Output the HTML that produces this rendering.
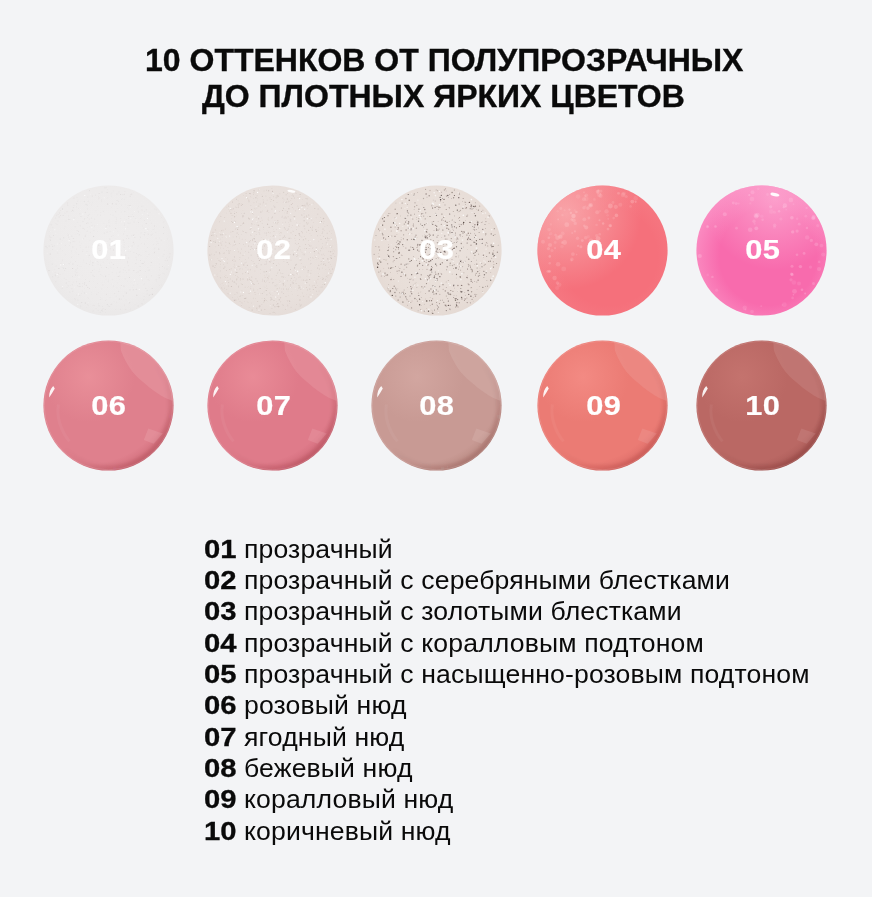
<!DOCTYPE html>
<html><head><meta charset="utf-8">
<style>
html,body{margin:0;padding:0;}
body{-webkit-font-smoothing:antialiased;width:872px;height:897px;background:#f3f4f6;position:relative;overflow:hidden;font-family:"Liberation Sans",sans-serif;color:#0a0a0a;}
.t{will-change:transform;position:absolute;white-space:nowrap;font-weight:700;-webkit-text-stroke:0.35px #0a0a0a;font-size:32px;line-height:32px;}
.c{position:absolute;width:131px;height:131px;}
.c svg{position:absolute;left:0;top:0;display:block;}
.n{position:absolute;width:131px;left:0;text-align:center;color:#fff;font-weight:700;-webkit-text-stroke:0.2px #fff;font-size:27.5px;line-height:26px;top:52.6px;letter-spacing:0.3px;text-indent:1px;}
.n span{display:inline-block;transform:scaleX(1.12);}
.l{will-change:transform;position:absolute;left:204.4px;white-space:nowrap;font-size:26.6px;line-height:26.6px;}
.txt{letter-spacing:0.14px;}
.num{display:inline-block;font-weight:700;-webkit-text-stroke:0.3px #0a0a0a;transform:scaleX(1.1);transform-origin:0 0;width:31px;margin-right:9px;}
</style></head><body>
<div class="t" style="left:145px;top:44px;">10 ОТТЕНКОВ ОТ ПОЛУПРОЗРАЧНЫХ</div>
<div class="t" style="left:202px;top:79.8px;">ДО ПЛОТНЫХ ЯРКИХ ЦВЕТОВ</div>
<div class="c" style="left:42.5px;top:184.5px;"><svg width="131" height="131" viewBox="-0.4 -0.4 131 131"><defs>
<radialGradient id="g1a" cx="50%" cy="45%" r="62%">
<stop offset="0" stop-color="#efeded"/><stop offset="0.7" stop-color="#edebeb"/><stop offset="1" stop-color="#e9e7e7"/></radialGradient>

</defs>
<circle cx="65.1" cy="65.1" r="65.1" fill="url(#g1a)"/>
<circle cx="103.7" cy="108.5" r="0.5" fill="#d2cccc" opacity="0.2"/><circle cx="68.1" cy="21.8" r="0.4" fill="#c8c2c2" opacity="0.2"/><circle cx="121.9" cy="75.3" r="0.4" fill="#c8c2c2" opacity="0.3"/><circle cx="59.3" cy="121.3" r="0.4" fill="#c8c2c2" opacity="0.4"/><circle cx="75.0" cy="67.0" r="0.4" fill="#d2cccc" opacity="0.3"/><circle cx="117.8" cy="54.7" r="0.4" fill="#d2cccc" opacity="0.4"/><circle cx="30.0" cy="53.0" r="0.5" fill="#d2cccc" opacity="0.4"/><circle cx="101.5" cy="47.0" r="0.5" fill="#bdb5b5" opacity="0.2"/><circle cx="28.2" cy="26.1" r="0.4" fill="#bdb5b5" opacity="0.2"/><circle cx="55.6" cy="12.7" r="0.5" fill="#d2cccc" opacity="0.3"/><circle cx="88.3" cy="50.4" r="0.4" fill="#d2cccc" opacity="0.4"/><circle cx="16.7" cy="63.5" r="0.3" fill="#c8c2c2" opacity="0.3"/><circle cx="22.7" cy="94.2" r="0.4" fill="#bdb5b5" opacity="0.3"/><circle cx="63.7" cy="46.6" r="0.5" fill="#c8c2c2" opacity="0.3"/><circle cx="25.9" cy="59.9" r="0.4" fill="#c8c2c2" opacity="0.3"/><circle cx="44.2" cy="119.3" r="0.4" fill="#bdb5b5" opacity="0.2"/><circle cx="86.6" cy="104.3" r="0.5" fill="#c8c2c2" opacity="0.3"/><circle cx="84.5" cy="41.7" r="0.4" fill="#bdb5b5" opacity="0.2"/><circle cx="108.3" cy="37.6" r="0.4" fill="#bdb5b5" opacity="0.2"/><circle cx="77.1" cy="9.2" r="0.5" fill="#bdb5b5" opacity="0.3"/><circle cx="103.4" cy="105.5" r="0.3" fill="#c8c2c2" opacity="0.3"/><circle cx="34.1" cy="100.4" r="0.5" fill="#d2cccc" opacity="0.3"/><circle cx="42.0" cy="94.2" r="0.4" fill="#bdb5b5" opacity="0.3"/><circle cx="41.3" cy="107.8" r="0.5" fill="#bdb5b5" opacity="0.2"/><circle cx="14.6" cy="35.5" r="0.5" fill="#d2cccc" opacity="0.2"/><circle cx="80.8" cy="59.3" r="0.5" fill="#d2cccc" opacity="0.2"/><circle cx="66.2" cy="33.6" r="0.3" fill="#bdb5b5" opacity="0.2"/><circle cx="58.6" cy="90.1" r="0.3" fill="#c8c2c2" opacity="0.3"/><circle cx="44.7" cy="37.6" r="0.5" fill="#d2cccc" opacity="0.3"/><circle cx="103.9" cy="70.9" r="0.4" fill="#c8c2c2" opacity="0.2"/><circle cx="63.9" cy="119.0" r="0.5" fill="#bdb5b5" opacity="0.3"/><circle cx="94.7" cy="60.5" r="0.4" fill="#c8c2c2" opacity="0.3"/><circle cx="93.4" cy="109.9" r="0.5" fill="#bdb5b5" opacity="0.4"/><circle cx="114.7" cy="57.9" r="0.5" fill="#d2cccc" opacity="0.2"/><circle cx="41.5" cy="33.2" r="0.4" fill="#d2cccc" opacity="0.3"/><circle cx="16.6" cy="89.3" r="0.3" fill="#c8c2c2" opacity="0.4"/><circle cx="44.8" cy="119.9" r="0.4" fill="#d2cccc" opacity="0.3"/><circle cx="37.7" cy="81.0" r="0.3" fill="#c8c2c2" opacity="0.3"/><circle cx="77.2" cy="123.8" r="0.4" fill="#bdb5b5" opacity="0.3"/><circle cx="92.6" cy="71.7" r="0.3" fill="#bdb5b5" opacity="0.3"/><circle cx="39.7" cy="76.5" r="0.3" fill="#bdb5b5" opacity="0.2"/><circle cx="56.8" cy="64.9" r="0.4" fill="#d2cccc" opacity="0.4"/><circle cx="93.2" cy="68.3" r="0.4" fill="#bdb5b5" opacity="0.3"/><circle cx="49.6" cy="89.8" r="0.5" fill="#d2cccc" opacity="0.4"/><circle cx="32.1" cy="114.4" r="0.5" fill="#d2cccc" opacity="0.3"/><circle cx="49.3" cy="61.8" r="0.3" fill="#c8c2c2" opacity="0.2"/><circle cx="89.8" cy="49.6" r="0.5" fill="#bdb5b5" opacity="0.3"/><circle cx="63.9" cy="101.8" r="0.3" fill="#c8c2c2" opacity="0.4"/><circle cx="16.2" cy="27.6" r="0.5" fill="#c8c2c2" opacity="0.3"/><circle cx="69.6" cy="29.7" r="0.4" fill="#d2cccc" opacity="0.4"/><circle cx="78.7" cy="9.3" r="0.4" fill="#bdb5b5" opacity="0.3"/><circle cx="80.7" cy="57.3" r="0.4" fill="#bdb5b5" opacity="0.2"/><circle cx="58.9" cy="124.3" r="0.4" fill="#c8c2c2" opacity="0.3"/><circle cx="55.6" cy="120.3" r="0.5" fill="#c8c2c2" opacity="0.3"/><circle cx="105.5" cy="68.8" r="0.5" fill="#c8c2c2" opacity="0.2"/><circle cx="75.8" cy="18.0" r="0.3" fill="#d2cccc" opacity="0.2"/><circle cx="68.0" cy="119.4" r="0.3" fill="#d2cccc" opacity="0.4"/><circle cx="10.1" cy="49.9" r="0.4" fill="#bdb5b5" opacity="0.3"/><circle cx="106.3" cy="95.1" r="0.3" fill="#c8c2c2" opacity="0.3"/><circle cx="113.1" cy="40.9" r="0.4" fill="#d2cccc" opacity="0.2"/><circle cx="120.7" cy="88.3" r="0.5" fill="#d2cccc" opacity="0.2"/><circle cx="75.9" cy="113.5" r="0.5" fill="#bdb5b5" opacity="0.4"/><circle cx="28.2" cy="72.4" r="0.3" fill="#c8c2c2" opacity="0.2"/><circle cx="65.5" cy="83.1" r="0.4" fill="#d2cccc" opacity="0.2"/><circle cx="32.3" cy="48.6" r="0.3" fill="#d2cccc" opacity="0.2"/><circle cx="86.8" cy="116.9" r="0.4" fill="#d2cccc" opacity="0.2"/><circle cx="104.8" cy="94.3" r="0.5" fill="#c8c2c2" opacity="0.2"/><circle cx="96.0" cy="69.1" r="0.3" fill="#bdb5b5" opacity="0.4"/><circle cx="63.9" cy="55.9" r="0.3" fill="#d2cccc" opacity="0.3"/><circle cx="81.2" cy="46.3" r="0.4" fill="#d2cccc" opacity="0.2"/><circle cx="90.0" cy="56.9" r="0.5" fill="#c8c2c2" opacity="0.4"/><circle cx="56.3" cy="83.8" r="0.4" fill="#bdb5b5" opacity="0.2"/><circle cx="83.8" cy="50.4" r="0.5" fill="#c8c2c2" opacity="0.3"/><circle cx="86.6" cy="20.2" r="0.5" fill="#bdb5b5" opacity="0.4"/><circle cx="63.8" cy="12.7" r="0.3" fill="#d2cccc" opacity="0.3"/><circle cx="121.0" cy="82.7" r="0.3" fill="#c8c2c2" opacity="0.3"/><circle cx="26.0" cy="78.7" r="0.3" fill="#d2cccc" opacity="0.4"/><circle cx="27.1" cy="76.6" r="0.4" fill="#d2cccc" opacity="0.3"/><circle cx="81.4" cy="6.4" r="0.5" fill="#c8c2c2" opacity="0.2"/><circle cx="50.7" cy="83.6" r="0.3" fill="#d2cccc" opacity="0.4"/><circle cx="57.1" cy="111.8" r="0.3" fill="#c8c2c2" opacity="0.2"/><circle cx="110.9" cy="67.3" r="0.4" fill="#bdb5b5" opacity="0.4"/><circle cx="110.8" cy="43.7" r="0.3" fill="#d2cccc" opacity="0.3"/><circle cx="35.4" cy="69.1" r="0.4" fill="#bdb5b5" opacity="0.3"/><circle cx="58.1" cy="14.6" r="0.5" fill="#c8c2c2" opacity="0.2"/><circle cx="105.8" cy="84.7" r="0.5" fill="#c8c2c2" opacity="0.3"/><circle cx="72.6" cy="37.6" r="0.4" fill="#d2cccc" opacity="0.4"/><circle cx="28.5" cy="103.3" r="0.5" fill="#bdb5b5" opacity="0.2"/><circle cx="100.2" cy="99.5" r="0.4" fill="#d2cccc" opacity="0.2"/><circle cx="65.0" cy="94.5" r="0.4" fill="#c8c2c2" opacity="0.3"/><circle cx="25.6" cy="96.3" r="0.4" fill="#c8c2c2" opacity="0.3"/><circle cx="110.8" cy="63.5" r="0.3" fill="#d2cccc" opacity="0.3"/><circle cx="58.5" cy="125.0" r="0.5" fill="#c8c2c2" opacity="0.4"/><circle cx="19.1" cy="23.5" r="0.5" fill="#c8c2c2" opacity="0.3"/><circle cx="120.4" cy="36.6" r="0.4" fill="#d2cccc" opacity="0.2"/><circle cx="100.4" cy="42.7" r="0.4" fill="#d2cccc" opacity="0.4"/><circle cx="100.9" cy="98.4" r="0.4" fill="#c8c2c2" opacity="0.3"/><circle cx="58.4" cy="103.4" r="0.4" fill="#c8c2c2" opacity="0.3"/><circle cx="55.4" cy="59.8" r="0.5" fill="#c8c2c2" opacity="0.4"/><circle cx="74.2" cy="97.5" r="0.4" fill="#d2cccc" opacity="0.2"/><circle cx="67.8" cy="7.6" r="0.4" fill="#c8c2c2" opacity="0.3"/><circle cx="6.8" cy="68.5" r="0.5" fill="#bdb5b5" opacity="0.4"/><circle cx="81.0" cy="119.6" r="0.5" fill="#c8c2c2" opacity="0.2"/><circle cx="64.3" cy="18.5" r="0.5" fill="#bdb5b5" opacity="0.4"/><circle cx="94.3" cy="98.9" r="0.4" fill="#d2cccc" opacity="0.3"/><circle cx="40.8" cy="15.8" r="0.4" fill="#c8c2c2" opacity="0.3"/><circle cx="32.0" cy="76.0" r="0.4" fill="#bdb5b5" opacity="0.3"/><circle cx="14.4" cy="67.6" r="0.4" fill="#c8c2c2" opacity="0.3"/><circle cx="115.4" cy="63.5" r="0.5" fill="#bdb5b5" opacity="0.4"/><circle cx="2.6" cy="60.8" r="0.4" fill="#bdb5b5" opacity="0.3"/><circle cx="63.0" cy="2.4" r="0.4" fill="#c8c2c2" opacity="0.3"/><circle cx="51.4" cy="40.6" r="0.4" fill="#bdb5b5" opacity="0.2"/><circle cx="29.2" cy="83.1" r="0.5" fill="#bdb5b5" opacity="0.4"/><circle cx="45.7" cy="6.1" r="0.3" fill="#bdb5b5" opacity="0.2"/><circle cx="98.4" cy="58.1" r="0.3" fill="#bdb5b5" opacity="0.3"/><circle cx="24.3" cy="19.6" r="0.5" fill="#c8c2c2" opacity="0.3"/><circle cx="84.7" cy="20.1" r="0.4" fill="#d2cccc" opacity="0.3"/><circle cx="20.8" cy="92.8" r="0.4" fill="#d2cccc" opacity="0.4"/><circle cx="22.2" cy="69.3" r="0.3" fill="#bdb5b5" opacity="0.2"/><circle cx="51.1" cy="56.1" r="0.3" fill="#d2cccc" opacity="0.2"/><circle cx="3.8" cy="62.3" r="0.5" fill="#d2cccc" opacity="0.3"/><circle cx="59.5" cy="99.5" r="0.4" fill="#c8c2c2" opacity="0.4"/><circle cx="63.0" cy="82.2" r="0.5" fill="#bdb5b5" opacity="0.3"/><circle cx="18.9" cy="74.5" r="0.3" fill="#d2cccc" opacity="0.3"/><circle cx="52.1" cy="9.6" r="0.4" fill="#bdb5b5" opacity="0.3"/><circle cx="34.0" cy="90.0" r="0.4" fill="#d2cccc" opacity="0.4"/><circle cx="50.8" cy="91.2" r="0.5" fill="#bdb5b5" opacity="0.2"/><circle cx="34.2" cy="15.8" r="0.5" fill="#d2cccc" opacity="0.2"/><circle cx="15.0" cy="88.0" r="0.5" fill="#c8c2c2" opacity="0.2"/><circle cx="58.6" cy="6.6" r="0.4" fill="#bdb5b5" opacity="0.4"/><circle cx="58.4" cy="16.4" r="0.4" fill="#bdb5b5" opacity="0.2"/><circle cx="75.7" cy="6.4" r="0.4" fill="#d2cccc" opacity="0.3"/><circle cx="68.3" cy="118.5" r="0.5" fill="#d2cccc" opacity="0.2"/><circle cx="70.1" cy="100.5" r="0.5" fill="#c8c2c2" opacity="0.2"/><circle cx="68.6" cy="56.1" r="0.5" fill="#bdb5b5" opacity="0.2"/><circle cx="48.8" cy="10.5" r="0.5" fill="#bdb5b5" opacity="0.3"/><circle cx="47.9" cy="36.9" r="0.4" fill="#c8c2c2" opacity="0.2"/><circle cx="29.2" cy="91.3" r="0.4" fill="#c8c2c2" opacity="0.4"/><circle cx="68.1" cy="98.6" r="0.4" fill="#d2cccc" opacity="0.2"/><circle cx="57.2" cy="29.7" r="0.4" fill="#c8c2c2" opacity="0.4"/><circle cx="119.1" cy="81.2" r="0.5" fill="#d2cccc" opacity="0.4"/><circle cx="84.6" cy="37.5" r="0.3" fill="#c8c2c2" opacity="0.4"/><circle cx="66.4" cy="40.5" r="0.5" fill="#c8c2c2" opacity="0.2"/><circle cx="98.2" cy="32.5" r="0.4" fill="#d2cccc" opacity="0.2"/><circle cx="8.8" cy="78.5" r="0.5" fill="#c8c2c2" opacity="0.3"/><circle cx="42.7" cy="61.6" r="0.5" fill="#c8c2c2" opacity="0.3"/><circle cx="81.5" cy="106.6" r="0.3" fill="#d2cccc" opacity="0.3"/><circle cx="94.1" cy="22.7" r="0.4" fill="#bdb5b5" opacity="0.2"/><circle cx="62.0" cy="115.3" r="0.3" fill="#bdb5b5" opacity="0.4"/><circle cx="33.7" cy="45.0" r="0.4" fill="#bdb5b5" opacity="0.3"/><circle cx="124.0" cy="53.5" r="0.4" fill="#bdb5b5" opacity="0.2"/><circle cx="95.1" cy="37.0" r="0.5" fill="#bdb5b5" opacity="0.2"/><circle cx="17.3" cy="25.2" r="0.3" fill="#c8c2c2" opacity="0.4"/><circle cx="100.3" cy="114.3" r="0.5" fill="#c8c2c2" opacity="0.2"/><circle cx="112.9" cy="96.0" r="0.4" fill="#d2cccc" opacity="0.2"/><circle cx="56.5" cy="85.8" r="0.3" fill="#bdb5b5" opacity="0.2"/><circle cx="23.1" cy="97.6" r="0.5" fill="#c8c2c2" opacity="0.3"/><circle cx="61.1" cy="96.4" r="0.4" fill="#d2cccc" opacity="0.2"/><circle cx="24.8" cy="101.0" r="0.4" fill="#c8c2c2" opacity="0.2"/><circle cx="49.3" cy="79.9" r="0.5" fill="#c8c2c2" opacity="0.3"/><circle cx="66.5" cy="112.2" r="0.4" fill="#d2cccc" opacity="0.3"/><circle cx="18.8" cy="102.8" r="0.4" fill="#c8c2c2" opacity="0.3"/><circle cx="5.6" cy="85.0" r="0.5" fill="#bdb5b5" opacity="0.3"/><circle cx="6.8" cy="51.8" r="0.5" fill="#d2cccc" opacity="0.3"/><circle cx="77.3" cy="102.5" r="0.4" fill="#d2cccc" opacity="0.2"/><circle cx="53.4" cy="59.1" r="0.5" fill="#bdb5b5" opacity="0.3"/><circle cx="34.1" cy="82.7" r="0.4" fill="#bdb5b5" opacity="0.3"/><circle cx="19.3" cy="64.8" r="0.3" fill="#bdb5b5" opacity="0.2"/><circle cx="57.3" cy="79.7" r="0.5" fill="#d2cccc" opacity="0.3"/><circle cx="29.4" cy="106.0" r="0.4" fill="#c8c2c2" opacity="0.4"/><circle cx="72.4" cy="43.1" r="0.4" fill="#bdb5b5" opacity="0.4"/><circle cx="64.7" cy="96.4" r="0.4" fill="#d2cccc" opacity="0.2"/><circle cx="112.4" cy="47.2" r="0.4" fill="#d2cccc" opacity="0.3"/><circle cx="40.9" cy="103.0" r="0.3" fill="#d2cccc" opacity="0.3"/><circle cx="9.6" cy="42.0" r="0.3" fill="#d2cccc" opacity="0.4"/><circle cx="23.6" cy="26.3" r="0.5" fill="#bdb5b5" opacity="0.2"/><circle cx="90.4" cy="85.2" r="0.5" fill="#bdb5b5" opacity="0.3"/><circle cx="99.6" cy="20.7" r="0.3" fill="#c8c2c2" opacity="0.3"/><circle cx="21.0" cy="85.2" r="0.5" fill="#d2cccc" opacity="0.3"/><circle cx="52.6" cy="123.3" r="0.4" fill="#c8c2c2" opacity="0.3"/><circle cx="44.1" cy="23.5" r="0.5" fill="#d2cccc" opacity="0.3"/><circle cx="89.8" cy="7.1" r="0.3" fill="#c8c2c2" opacity="0.2"/><circle cx="26.9" cy="57.3" r="0.5" fill="#c8c2c2" opacity="0.3"/><circle cx="106.8" cy="27.3" r="0.4" fill="#c8c2c2" opacity="0.2"/><circle cx="70.1" cy="64.7" r="0.5" fill="#bdb5b5" opacity="0.3"/><circle cx="86.9" cy="65.9" r="0.4" fill="#bdb5b5" opacity="0.2"/><circle cx="73.5" cy="15.1" r="0.5" fill="#d2cccc" opacity="0.3"/><circle cx="10.0" cy="50.2" r="0.5" fill="#d2cccc" opacity="0.3"/><circle cx="28.0" cy="44.4" r="0.3" fill="#d2cccc" opacity="0.3"/><circle cx="5.8" cy="45.8" r="0.3" fill="#bdb5b5" opacity="0.2"/><circle cx="19.5" cy="88.6" r="0.3" fill="#d2cccc" opacity="0.3"/><circle cx="120.1" cy="41.9" r="0.5" fill="#c8c2c2" opacity="0.4"/><circle cx="87.3" cy="33.0" r="0.4" fill="#d2cccc" opacity="0.3"/><circle cx="98.2" cy="20.8" r="0.4" fill="#c8c2c2" opacity="0.3"/><circle cx="80.0" cy="84.3" r="0.5" fill="#d2cccc" opacity="0.2"/><circle cx="104.1" cy="105.2" r="0.5" fill="#d2cccc" opacity="0.2"/><circle cx="11.0" cy="60.4" r="0.5" fill="#d2cccc" opacity="0.2"/><circle cx="90.2" cy="50.0" r="0.5" fill="#d2cccc" opacity="0.3"/><circle cx="84.2" cy="77.4" r="0.5" fill="#c8c2c2" opacity="0.3"/><circle cx="84.9" cy="80.1" r="0.5" fill="#c8c2c2" opacity="0.2"/><circle cx="55.5" cy="8.3" r="0.3" fill="#bdb5b5" opacity="0.4"/><circle cx="93.1" cy="74.4" r="0.4" fill="#c8c2c2" opacity="0.4"/><circle cx="85.0" cy="61.3" r="0.4" fill="#d2cccc" opacity="0.4"/><circle cx="61.6" cy="2.3" r="0.5" fill="#c8c2c2" opacity="0.3"/><circle cx="80.8" cy="8.8" r="0.5" fill="#bdb5b5" opacity="0.3"/><circle cx="79.9" cy="48.6" r="0.4" fill="#bdb5b5" opacity="0.3"/><circle cx="82.9" cy="53.0" r="0.5" fill="#c8c2c2" opacity="0.2"/><circle cx="25.1" cy="30.5" r="0.3" fill="#d2cccc" opacity="0.3"/><circle cx="113.0" cy="24.4" r="0.4" fill="#d2cccc" opacity="0.3"/><circle cx="87.4" cy="9.1" r="0.5" fill="#bdb5b5" opacity="0.2"/><circle cx="59.3" cy="65.6" r="0.5" fill="#bdb5b5" opacity="0.2"/><circle cx="105.0" cy="30.0" r="0.3" fill="#bdb5b5" opacity="0.3"/><circle cx="68.7" cy="7.3" r="0.3" fill="#d2cccc" opacity="0.2"/><circle cx="65.7" cy="89.4" r="0.3" fill="#d2cccc" opacity="0.3"/><circle cx="14.7" cy="29.2" r="0.4" fill="#bdb5b5" opacity="0.3"/><circle cx="96.0" cy="54.2" r="0.4" fill="#d2cccc" opacity="0.2"/><circle cx="73.6" cy="102.4" r="0.4" fill="#d2cccc" opacity="0.2"/><circle cx="68.1" cy="10.9" r="0.4" fill="#d2cccc" opacity="0.3"/><circle cx="98.7" cy="78.0" r="0.5" fill="#bdb5b5" opacity="0.3"/><circle cx="94.2" cy="63.1" r="0.4" fill="#d2cccc" opacity="0.2"/><circle cx="81.5" cy="82.1" r="0.3" fill="#c8c2c2" opacity="0.3"/><circle cx="71.8" cy="52.7" r="0.3" fill="#c8c2c2" opacity="0.2"/><circle cx="80.0" cy="110.3" r="0.5" fill="#d2cccc" opacity="0.2"/><circle cx="73.6" cy="8.5" r="0.5" fill="#c8c2c2" opacity="0.2"/><circle cx="73.4" cy="116.5" r="0.5" fill="#d2cccc" opacity="0.2"/><circle cx="57.5" cy="27.0" r="0.3" fill="#d2cccc" opacity="0.2"/><circle cx="64.8" cy="120.5" r="0.5" fill="#c8c2c2" opacity="0.2"/><circle cx="118.0" cy="99.5" r="0.4" fill="#c8c2c2" opacity="0.2"/><circle cx="75.7" cy="68.5" r="0.3" fill="#d2cccc" opacity="0.2"/><circle cx="55.3" cy="13.6" r="0.3" fill="#d2cccc" opacity="0.2"/><circle cx="29.5" cy="61.7" r="0.5" fill="#d2cccc" opacity="0.4"/><circle cx="78.8" cy="13.2" r="0.3" fill="#d2cccc" opacity="0.3"/><circle cx="43.7" cy="20.3" r="0.4" fill="#bdb5b5" opacity="0.3"/><circle cx="96.8" cy="51.1" r="0.3" fill="#d2cccc" opacity="0.3"/><circle cx="107.5" cy="80.1" r="0.3" fill="#c8c2c2" opacity="0.4"/><circle cx="63.7" cy="73.9" r="0.4" fill="#bdb5b5" opacity="0.2"/><circle cx="102.4" cy="102.9" r="0.5" fill="#c8c2c2" opacity="0.3"/><circle cx="20.3" cy="52.3" r="0.5" fill="#bdb5b5" opacity="0.3"/><circle cx="21.7" cy="41.0" r="0.4" fill="#c8c2c2" opacity="0.2"/><circle cx="85.4" cy="52.8" r="0.5" fill="#c8c2c2" opacity="0.3"/><circle cx="82.5" cy="12.6" r="0.4" fill="#d2cccc" opacity="0.2"/><circle cx="87.8" cy="33.4" r="0.4" fill="#c8c2c2" opacity="0.4"/><circle cx="86.1" cy="92.2" r="0.5" fill="#bdb5b5" opacity="0.3"/><circle cx="126.6" cy="68.3" r="0.5" fill="#bdb5b5" opacity="0.2"/><circle cx="63.9" cy="3.9" r="0.3" fill="#c8c2c2" opacity="0.3"/><circle cx="31.7" cy="41.3" r="0.5" fill="#d2cccc" opacity="0.3"/><circle cx="45.8" cy="69.8" r="0.5" fill="#bdb5b5" opacity="0.3"/><circle cx="78.0" cy="65.1" r="0.3" fill="#c8c2c2" opacity="0.3"/><circle cx="69.0" cy="18.4" r="0.5" fill="#bdb5b5" opacity="0.4"/><circle cx="33.3" cy="18.4" r="0.5" fill="#c8c2c2" opacity="0.4"/><circle cx="50.3" cy="50.9" r="0.5" fill="#c8c2c2" opacity="0.2"/><circle cx="116.3" cy="78.5" r="0.4" fill="#bdb5b5" opacity="0.2"/><circle cx="30.5" cy="12.5" r="0.5" fill="#c8c2c2" opacity="0.3"/><circle cx="32.6" cy="84.4" r="0.5" fill="#d2cccc" opacity="0.3"/><circle cx="49.3" cy="17.4" r="0.4" fill="#c8c2c2" opacity="0.2"/><circle cx="99.3" cy="94.7" r="0.4" fill="#bdb5b5" opacity="0.3"/><circle cx="36.3" cy="109.8" r="0.5" fill="#c8c2c2" opacity="0.3"/><circle cx="77.8" cy="113.6" r="0.5" fill="#d2cccc" opacity="0.3"/><circle cx="94.7" cy="86.5" r="0.5" fill="#bdb5b5" opacity="0.2"/><circle cx="41.0" cy="16.4" r="0.4" fill="#bdb5b5" opacity="0.3"/><circle cx="60.5" cy="37.7" r="0.4" fill="#bdb5b5" opacity="0.2"/><circle cx="32.6" cy="67.5" r="0.3" fill="#c8c2c2" opacity="0.2"/><circle cx="73.0" cy="71.6" r="0.3" fill="#c8c2c2" opacity="0.3"/><circle cx="33.1" cy="96.3" r="0.5" fill="#c8c2c2" opacity="0.2"/><circle cx="44.8" cy="61.9" r="0.3" fill="#d2cccc" opacity="0.2"/><circle cx="29.0" cy="24.8" r="0.5" fill="#bdb5b5" opacity="0.3"/><circle cx="111.6" cy="62.7" r="0.3" fill="#d2cccc" opacity="0.4"/><circle cx="45.8" cy="33.6" r="0.3" fill="#bdb5b5" opacity="0.4"/><circle cx="90.7" cy="58.6" r="0.4" fill="#bdb5b5" opacity="0.2"/><circle cx="66.2" cy="77.7" r="0.4" fill="#c8c2c2" opacity="0.3"/><circle cx="46.5" cy="17.6" r="0.4" fill="#c8c2c2" opacity="0.2"/><circle cx="18.7" cy="75.5" r="0.3" fill="#c8c2c2" opacity="0.3"/><circle cx="37.6" cy="31.2" r="0.5" fill="#c8c2c2" opacity="0.3"/><circle cx="123.1" cy="72.7" r="0.4" fill="#bdb5b5" opacity="0.3"/><circle cx="13.3" cy="29.9" r="0.5" fill="#d2cccc" opacity="0.3"/><circle cx="24.0" cy="17.6" r="0.5" fill="#bdb5b5" opacity="0.2"/><circle cx="33.9" cy="89.1" r="0.3" fill="#d2cccc" opacity="0.2"/><circle cx="92.7" cy="103.8" r="0.5" fill="#bdb5b5" opacity="0.3"/><circle cx="60.8" cy="28.8" r="0.3" fill="#d2cccc" opacity="0.2"/><circle cx="29.7" cy="96.6" r="0.3" fill="#c8c2c2" opacity="0.4"/><circle cx="67.6" cy="81.7" r="0.4" fill="#bdb5b5" opacity="0.2"/><circle cx="11.9" cy="90.4" r="0.4" fill="#bdb5b5" opacity="0.3"/><circle cx="60.8" cy="47.5" r="0.5" fill="#c8c2c2" opacity="0.3"/><circle cx="116.1" cy="84.4" r="0.4" fill="#bdb5b5" opacity="0.2"/><circle cx="22.6" cy="35.5" r="0.4" fill="#c8c2c2" opacity="0.4"/><circle cx="83.3" cy="86.9" r="0.5" fill="#d2cccc" opacity="0.2"/><circle cx="80.9" cy="39.7" r="0.5" fill="#d2cccc" opacity="0.3"/><circle cx="53.4" cy="108.8" r="0.4" fill="#bdb5b5" opacity="0.3"/><circle cx="50.9" cy="120.1" r="0.4" fill="#bdb5b5" opacity="0.2"/><circle cx="18.6" cy="82.3" r="0.3" fill="#d2cccc" opacity="0.2"/><circle cx="105.9" cy="109.9" r="0.5" fill="#c8c2c2" opacity="0.4"/><circle cx="44.2" cy="41.8" r="0.3" fill="#bdb5b5" opacity="0.2"/><circle cx="118.4" cy="32.2" r="0.3" fill="#d2cccc" opacity="0.3"/><circle cx="8.5" cy="58.9" r="0.4" fill="#bdb5b5" opacity="0.2"/><circle cx="85.6" cy="84.6" r="0.5" fill="#d2cccc" opacity="0.3"/><circle cx="36.0" cy="56.6" r="0.3" fill="#c8c2c2" opacity="0.3"/><circle cx="104.5" cy="43.9" r="0.5" fill="#d2cccc" opacity="0.3"/><circle cx="36.1" cy="80.7" r="0.3" fill="#c8c2c2" opacity="0.2"/><circle cx="119.6" cy="70.6" r="0.4" fill="#d2cccc" opacity="0.4"/><circle cx="6.2" cy="50.5" r="0.5" fill="#c8c2c2" opacity="0.2"/><circle cx="63.7" cy="7.1" r="0.5" fill="#c8c2c2" opacity="0.4"/><circle cx="42.4" cy="49.6" r="0.4" fill="#bdb5b5" opacity="0.2"/><circle cx="70.6" cy="116.0" r="0.4" fill="#c8c2c2" opacity="0.2"/><circle cx="77.7" cy="69.3" r="0.4" fill="#c8c2c2" opacity="0.4"/><circle cx="105.1" cy="48.8" r="0.4" fill="#c8c2c2" opacity="0.4"/><circle cx="85.4" cy="31.0" r="0.5" fill="#bdb5b5" opacity="0.4"/><circle cx="41.0" cy="33.6" r="0.5" fill="#d2cccc" opacity="0.4"/><circle cx="123.6" cy="83.7" r="0.5" fill="#c8c2c2" opacity="0.3"/><circle cx="34.9" cy="46.3" r="0.3" fill="#bdb5b5" opacity="0.3"/><circle cx="81.3" cy="64.8" r="0.4" fill="#d2cccc" opacity="0.3"/><circle cx="121.2" cy="64.7" r="0.4" fill="#c8c2c2" opacity="0.2"/><circle cx="45.4" cy="61.4" r="0.4" fill="#d2cccc" opacity="0.3"/><circle cx="102.6" cy="73.3" r="0.3" fill="#bdb5b5" opacity="0.2"/><circle cx="29.7" cy="56.1" r="0.5" fill="#bdb5b5" opacity="0.2"/><circle cx="84.2" cy="95.6" r="0.3" fill="#bdb5b5" opacity="0.2"/><circle cx="92.8" cy="87.4" r="0.4" fill="#d2cccc" opacity="0.4"/><circle cx="94.5" cy="25.6" r="0.3" fill="#c8c2c2" opacity="0.3"/><circle cx="66.3" cy="121.2" r="0.5" fill="#d2cccc" opacity="0.3"/><circle cx="20.7" cy="42.9" r="0.3" fill="#c8c2c2" opacity="0.4"/><circle cx="103.9" cy="53.1" r="0.3" fill="#bdb5b5" opacity="0.3"/><circle cx="62.8" cy="94.0" r="0.4" fill="#d2cccc" opacity="0.2"/><circle cx="9.3" cy="60.8" r="0.5" fill="#c8c2c2" opacity="0.4"/><circle cx="96.7" cy="81.2" r="0.5" fill="#bdb5b5" opacity="0.2"/><circle cx="29.5" cy="78.6" r="0.5" fill="#c8c2c2" opacity="0.4"/><circle cx="42.9" cy="77.8" r="0.4" fill="#bdb5b5" opacity="0.3"/><circle cx="34.6" cy="14.6" r="0.4" fill="#c8c2c2" opacity="0.2"/><circle cx="12.0" cy="32.6" r="0.4" fill="#bdb5b5" opacity="0.2"/><circle cx="70.0" cy="79.1" r="0.5" fill="#d2cccc" opacity="0.4"/><circle cx="36.8" cy="40.3" r="0.5" fill="#bdb5b5" opacity="0.2"/><circle cx="76.4" cy="63.8" r="0.3" fill="#bdb5b5" opacity="0.2"/><circle cx="72.5" cy="124.1" r="0.4" fill="#c8c2c2" opacity="0.2"/><circle cx="36.7" cy="60.0" r="0.4" fill="#d2cccc" opacity="0.3"/><circle cx="37.3" cy="119.8" r="0.3" fill="#bdb5b5" opacity="0.2"/><circle cx="51.3" cy="33.6" r="0.5" fill="#d2cccc" opacity="0.3"/><circle cx="36.3" cy="98.4" r="0.5" fill="#bdb5b5" opacity="0.3"/><circle cx="33.6" cy="12.2" r="0.4" fill="#bdb5b5" opacity="0.3"/><circle cx="38.2" cy="108.1" r="0.3" fill="#bdb5b5" opacity="0.4"/><circle cx="120.1" cy="48.0" r="0.4" fill="#bdb5b5" opacity="0.4"/><circle cx="95.1" cy="26.5" r="0.5" fill="#d2cccc" opacity="0.3"/><circle cx="81.7" cy="93.3" r="0.5" fill="#d2cccc" opacity="0.3"/><circle cx="82.0" cy="18.9" r="0.3" fill="#d2cccc" opacity="0.2"/><circle cx="67.7" cy="9.4" r="0.4" fill="#d2cccc" opacity="0.2"/><circle cx="15.5" cy="83.2" r="0.5" fill="#bdb5b5" opacity="0.4"/><circle cx="101.1" cy="111.4" r="0.3" fill="#c8c2c2" opacity="0.2"/><circle cx="66.3" cy="59.5" r="0.5" fill="#bdb5b5" opacity="0.2"/><circle cx="39.1" cy="89.9" r="0.4" fill="#c8c2c2" opacity="0.2"/><circle cx="84.1" cy="75.8" r="0.5" fill="#bdb5b5" opacity="0.2"/><circle cx="71.7" cy="31.5" r="0.4" fill="#d2cccc" opacity="0.2"/><circle cx="116.4" cy="52.7" r="0.3" fill="#bdb5b5" opacity="0.3"/><circle cx="43.1" cy="38.3" r="0.4" fill="#bdb5b5" opacity="0.4"/><circle cx="86.8" cy="10.9" r="0.5" fill="#d2cccc" opacity="0.4"/><circle cx="26.5" cy="34.0" r="0.5" fill="#c8c2c2" opacity="0.3"/><circle cx="29.0" cy="99.3" r="0.5" fill="#d2cccc" opacity="0.3"/><circle cx="66.9" cy="63.4" r="0.5" fill="#d2cccc" opacity="0.3"/><circle cx="76.6" cy="86.3" r="0.5" fill="#d2cccc" opacity="0.3"/><circle cx="96.9" cy="33.0" r="0.4" fill="#bdb5b5" opacity="0.2"/><circle cx="30.5" cy="20.0" r="0.5" fill="#d2cccc" opacity="0.2"/><circle cx="58.2" cy="82.3" r="0.4" fill="#bdb5b5" opacity="0.2"/><circle cx="25.2" cy="33.9" r="0.5" fill="#d2cccc" opacity="0.3"/><circle cx="68.3" cy="50.8" r="0.4" fill="#bdb5b5" opacity="0.3"/><circle cx="106.7" cy="109.2" r="0.5" fill="#c8c2c2" opacity="0.2"/><circle cx="45.9" cy="28.8" r="0.5" fill="#c8c2c2" opacity="0.2"/><circle cx="111.3" cy="67.7" r="0.4" fill="#c8c2c2" opacity="0.3"/><circle cx="24.8" cy="49.4" r="0.4" fill="#bdb5b5" opacity="0.3"/><circle cx="64.8" cy="95.6" r="0.3" fill="#c8c2c2" opacity="0.2"/><circle cx="25.2" cy="50.6" r="0.4" fill="#d2cccc" opacity="0.2"/><circle cx="23.7" cy="47.9" r="0.3" fill="#c8c2c2" opacity="0.2"/><circle cx="91.8" cy="118.9" r="0.3" fill="#d2cccc" opacity="0.4"/><circle cx="100.0" cy="110.9" r="0.3" fill="#c8c2c2" opacity="0.3"/><circle cx="79.9" cy="61.5" r="0.3" fill="#c8c2c2" opacity="0.3"/><circle cx="54.0" cy="46.4" r="0.3" fill="#bdb5b5" opacity="0.3"/><circle cx="112.8" cy="94.3" r="0.5" fill="#d2cccc" opacity="0.3"/><circle cx="7.1" cy="55.1" r="0.5" fill="#bdb5b5" opacity="0.2"/><circle cx="77.8" cy="100.2" r="0.4" fill="#bdb5b5" opacity="0.4"/><circle cx="26.7" cy="100.1" r="0.3" fill="#c8c2c2" opacity="0.4"/><circle cx="28.2" cy="67.6" r="0.3" fill="#bdb5b5" opacity="0.2"/><circle cx="115.7" cy="89.8" r="0.5" fill="#bdb5b5" opacity="0.2"/><circle cx="101.0" cy="58.6" r="0.5" fill="#d2cccc" opacity="0.3"/><circle cx="41.4" cy="96.9" r="0.4" fill="#c8c2c2" opacity="0.2"/><circle cx="53.9" cy="97.9" r="0.3" fill="#bdb5b5" opacity="0.3"/><circle cx="90.3" cy="99.6" r="0.4" fill="#c8c2c2" opacity="0.2"/><circle cx="77.3" cy="35.7" r="0.4" fill="#d2cccc" opacity="0.2"/><circle cx="86.8" cy="37.5" r="0.4" fill="#bdb5b5" opacity="0.2"/><circle cx="45.4" cy="71.5" r="0.3" fill="#d2cccc" opacity="0.2"/><circle cx="82.9" cy="107.6" r="0.5" fill="#bdb5b5" opacity="0.4"/><circle cx="33.1" cy="21.4" r="0.4" fill="#d2cccc" opacity="0.4"/><circle cx="75.0" cy="16.1" r="0.5" fill="#d2cccc" opacity="0.3"/><circle cx="80.5" cy="100.5" r="0.5" fill="#bdb5b5" opacity="0.3"/><circle cx="69.8" cy="50.1" r="0.5" fill="#d2cccc" opacity="0.2"/><circle cx="34.1" cy="86.8" r="0.3" fill="#d2cccc" opacity="0.3"/><circle cx="84.7" cy="65.9" r="0.3" fill="#d2cccc" opacity="0.3"/><circle cx="62.5" cy="90.4" r="0.3" fill="#bdb5b5" opacity="0.3"/><circle cx="102.8" cy="38.1" r="0.5" fill="#bdb5b5" opacity="0.3"/><circle cx="92.3" cy="33.3" r="0.4" fill="#c8c2c2" opacity="0.3"/><circle cx="39.5" cy="97.8" r="0.3" fill="#c8c2c2" opacity="0.2"/><circle cx="99.8" cy="108.3" r="0.3" fill="#d2cccc" opacity="0.2"/><circle cx="101.2" cy="76.6" r="0.4" fill="#bdb5b5" opacity="0.3"/><circle cx="75.2" cy="105.8" r="0.5" fill="#bdb5b5" opacity="0.2"/><circle cx="13.7" cy="38.8" r="0.5" fill="#c8c2c2" opacity="0.2"/><circle cx="101.2" cy="35.1" r="0.5" fill="#d2cccc" opacity="0.3"/><circle cx="39.3" cy="100.8" r="0.4" fill="#bdb5b5" opacity="0.3"/><circle cx="7.6" cy="39.3" r="0.4" fill="#bdb5b5" opacity="0.2"/><circle cx="34.5" cy="114.6" r="0.4" fill="#bdb5b5" opacity="0.3"/><circle cx="37.3" cy="121.4" r="0.5" fill="#c8c2c2" opacity="0.2"/><circle cx="81.1" cy="37.7" r="0.4" fill="#d2cccc" opacity="0.3"/><circle cx="90.5" cy="67.0" r="0.4" fill="#c8c2c2" opacity="0.3"/><circle cx="91.5" cy="52.1" r="0.4" fill="#bdb5b5" opacity="0.3"/><circle cx="31.7" cy="66.3" r="0.3" fill="#c8c2c2" opacity="0.2"/><circle cx="41.4" cy="97.0" r="0.4" fill="#bdb5b5" opacity="0.3"/><circle cx="87.3" cy="123.6" r="0.3" fill="#d2cccc" opacity="0.4"/><circle cx="67.5" cy="119.0" r="0.3" fill="#bdb5b5" opacity="0.2"/><circle cx="22.1" cy="59.8" r="0.4" fill="#d2cccc" opacity="0.4"/><circle cx="78.3" cy="19.6" r="0.4" fill="#c8c2c2" opacity="0.2"/><circle cx="55.9" cy="8.3" r="0.4" fill="#bdb5b5" opacity="0.3"/><circle cx="116.1" cy="82.2" r="0.5" fill="#d2cccc" opacity="0.2"/><circle cx="36.5" cy="28.3" r="0.5" fill="#d2cccc" opacity="0.3"/><circle cx="49.3" cy="84.9" r="0.4" fill="#c8c2c2" opacity="0.4"/><circle cx="8.4" cy="39.6" r="0.3" fill="#d2cccc" opacity="0.3"/><circle cx="12.4" cy="37.8" r="0.4" fill="#d2cccc" opacity="0.3"/><circle cx="2.5" cy="61.3" r="0.5" fill="#c8c2c2" opacity="0.2"/><circle cx="81.9" cy="84.9" r="0.3" fill="#bdb5b5" opacity="0.3"/><circle cx="48.3" cy="109.0" r="0.4" fill="#d2cccc" opacity="0.3"/><circle cx="48.1" cy="107.3" r="0.4" fill="#d2cccc" opacity="0.3"/><circle cx="72.9" cy="32.5" r="0.3" fill="#c8c2c2" opacity="0.4"/><circle cx="42.9" cy="99.8" r="0.5" fill="#bdb5b5" opacity="0.3"/><circle cx="34.3" cy="36.8" r="0.5" fill="#d2cccc" opacity="0.2"/><circle cx="70.1" cy="82.8" r="0.3" fill="#bdb5b5" opacity="0.2"/><circle cx="39.9" cy="74.5" r="0.4" fill="#bdb5b5" opacity="0.2"/><circle cx="86.6" cy="123.6" r="0.4" fill="#d2cccc" opacity="0.2"/><circle cx="33.2" cy="109.7" r="0.5" fill="#d2cccc" opacity="0.2"/><circle cx="72.7" cy="18.6" r="0.5" fill="#c8c2c2" opacity="0.4"/><circle cx="25.0" cy="52.1" r="0.4" fill="#d2cccc" opacity="0.4"/><circle cx="76.9" cy="73.8" r="0.4" fill="#d2cccc" opacity="0.3"/><circle cx="39.6" cy="63.9" r="0.4" fill="#d2cccc" opacity="0.4"/><circle cx="21.0" cy="26.9" r="0.4" fill="#d2cccc" opacity="0.2"/><circle cx="113.6" cy="56.2" r="0.3" fill="#c8c2c2" opacity="0.4"/><circle cx="50.4" cy="45.0" r="0.5" fill="#d2cccc" opacity="0.2"/><circle cx="87.5" cy="96.6" r="0.4" fill="#d2cccc" opacity="0.2"/><circle cx="24.5" cy="99.8" r="0.4" fill="#bdb5b5" opacity="0.2"/><circle cx="34.3" cy="47.9" r="0.5" fill="#c8c2c2" opacity="0.2"/><circle cx="75.7" cy="87.4" r="0.3" fill="#c8c2c2" opacity="0.3"/><circle cx="41.9" cy="117.5" r="0.5" fill="#bdb5b5" opacity="0.4"/><circle cx="39.1" cy="105.6" r="0.4" fill="#d2cccc" opacity="0.2"/><circle cx="44.4" cy="11.7" r="0.5" fill="#c8c2c2" opacity="0.2"/><circle cx="80.1" cy="111.4" r="0.3" fill="#d2cccc" opacity="0.4"/><circle cx="67.3" cy="29.0" r="0.5" fill="#d2cccc" opacity="0.2"/><circle cx="17.2" cy="30.2" r="0.5" fill="#c8c2c2" opacity="0.3"/><circle cx="85.6" cy="38.1" r="0.3" fill="#d2cccc" opacity="0.4"/><circle cx="23.6" cy="101.9" r="0.3" fill="#bdb5b5" opacity="0.4"/><circle cx="112.6" cy="52.9" r="0.5" fill="#c8c2c2" opacity="0.2"/><circle cx="80.9" cy="33.1" r="0.3" fill="#d2cccc" opacity="0.2"/><circle cx="102.5" cy="66.0" r="0.5" fill="#c8c2c2" opacity="0.2"/><circle cx="79.6" cy="9.9" r="0.3" fill="#d2cccc" opacity="0.2"/><circle cx="22.2" cy="83.0" r="0.5" fill="#bdb5b5" opacity="0.3"/><circle cx="54.7" cy="125.3" r="0.3" fill="#c8c2c2" opacity="0.4"/><circle cx="98.2" cy="117.6" r="0.3" fill="#bdb5b5" opacity="0.3"/><circle cx="12.3" cy="89.4" r="0.4" fill="#bdb5b5" opacity="0.3"/><circle cx="55.5" cy="86.4" r="0.4" fill="#c8c2c2" opacity="0.2"/><circle cx="48.1" cy="19.6" r="0.3" fill="#bdb5b5" opacity="0.2"/><circle cx="18.7" cy="55.4" r="0.3" fill="#d2cccc" opacity="0.3"/><circle cx="54.9" cy="118.4" r="0.5" fill="#d2cccc" opacity="0.3"/><circle cx="6.7" cy="54.3" r="0.5" fill="#c8c2c2" opacity="0.3"/><circle cx="80.8" cy="13.8" r="0.4" fill="#d2cccc" opacity="0.4"/><circle cx="86.0" cy="117.4" r="0.5" fill="#c8c2c2" opacity="0.4"/><circle cx="44.4" cy="101.8" r="0.5" fill="#bdb5b5" opacity="0.3"/><circle cx="35.3" cy="23.0" r="0.3" fill="#d2cccc" opacity="0.3"/><circle cx="100.7" cy="49.0" r="0.4" fill="#bdb5b5" opacity="0.4"/><circle cx="73.1" cy="87.7" r="0.3" fill="#c8c2c2" opacity="0.3"/><circle cx="17.4" cy="78.4" r="0.4" fill="#c8c2c2" opacity="0.2"/><circle cx="84.7" cy="23.7" r="0.3" fill="#d2cccc" opacity="0.3"/><circle cx="98.6" cy="24.5" r="0.5" fill="#d2cccc" opacity="0.3"/><circle cx="53.3" cy="58.1" r="0.4" fill="#bdb5b5" opacity="0.4"/><circle cx="54.9" cy="76.8" r="0.3" fill="#c8c2c2" opacity="0.3"/><circle cx="108.7" cy="108.5" r="0.5" fill="#d2cccc" opacity="0.2"/><circle cx="54.8" cy="107.2" r="0.3" fill="#c8c2c2" opacity="0.3"/><circle cx="113.2" cy="58.9" r="0.3" fill="#bdb5b5" opacity="0.3"/><circle cx="103.1" cy="91.6" r="0.5" fill="#d2cccc" opacity="0.3"/><circle cx="26.3" cy="53.9" r="0.5" fill="#bdb5b5" opacity="0.2"/><circle cx="82.7" cy="34.2" r="0.3" fill="#c8c2c2" opacity="0.3"/><circle cx="90.6" cy="36.5" r="0.3" fill="#c8c2c2" opacity="0.4"/><circle cx="82.6" cy="114.5" r="0.4" fill="#c8c2c2" opacity="0.3"/><circle cx="91.0" cy="48.9" r="0.4" fill="#bdb5b5" opacity="0.2"/><circle cx="34.0" cy="80.0" r="0.4" fill="#bdb5b5" opacity="0.3"/><circle cx="56.8" cy="114.1" r="0.4" fill="#d2cccc" opacity="0.4"/><circle cx="102.9" cy="24.4" r="0.5" fill="#d2cccc" opacity="0.3"/><circle cx="62.0" cy="91.2" r="0.5" fill="#d2cccc" opacity="0.2"/><circle cx="34.9" cy="46.0" r="0.5" fill="#d2cccc" opacity="0.3"/><circle cx="44.8" cy="30.0" r="0.5" fill="#bdb5b5" opacity="0.2"/><circle cx="65.5" cy="35.5" r="0.3" fill="#c8c2c2" opacity="0.3"/><circle cx="74.4" cy="45.7" r="0.4" fill="#d2cccc" opacity="0.3"/><circle cx="31.5" cy="56.2" r="0.3" fill="#c8c2c2" opacity="0.4"/><circle cx="90.1" cy="31.2" r="0.5" fill="#d2cccc" opacity="0.3"/><circle cx="109.2" cy="109.2" r="0.4" fill="#d2cccc" opacity="0.3"/><circle cx="104.5" cy="82.1" r="0.3" fill="#d2cccc" opacity="0.3"/><circle cx="55.8" cy="65.0" r="0.4" fill="#c8c2c2" opacity="0.3"/><circle cx="25.4" cy="34.1" r="0.5" fill="#d2cccc" opacity="0.2"/><circle cx="28.1" cy="65.5" r="0.5" fill="#c8c2c2" opacity="0.2"/><circle cx="85.3" cy="72.5" r="0.3" fill="#bdb5b5" opacity="0.3"/><circle cx="65.6" cy="36.8" r="0.4" fill="#c8c2c2" opacity="0.4"/><circle cx="96.8" cy="85.1" r="0.5" fill="#bdb5b5" opacity="0.3"/><circle cx="39.7" cy="42.9" r="0.5" fill="#c8c2c2" opacity="0.4"/><circle cx="59.4" cy="125.8" r="0.3" fill="#bdb5b5" opacity="0.4"/><circle cx="87.8" cy="31.0" r="0.5" fill="#c8c2c2" opacity="0.2"/><circle cx="66.4" cy="53.5" r="0.5" fill="#d2cccc" opacity="0.4"/><circle cx="12.5" cy="96.4" r="0.4" fill="#c8c2c2" opacity="0.4"/><circle cx="72.5" cy="35.8" r="0.5" fill="#d2cccc" opacity="0.2"/><circle cx="11.4" cy="83.9" r="0.3" fill="#c8c2c2" opacity="0.3"/><circle cx="110.3" cy="59.3" r="0.3" fill="#bdb5b5" opacity="0.3"/><circle cx="109.7" cy="44.0" r="0.4" fill="#d2cccc" opacity="0.3"/><circle cx="46.1" cy="5.0" r="0.5" fill="#c8c2c2" opacity="0.3"/><circle cx="56.5" cy="73.2" r="0.5" fill="#d2cccc" opacity="0.3"/><circle cx="95.1" cy="69.7" r="0.4" fill="#c8c2c2" opacity="0.4"/><circle cx="52.5" cy="25.4" r="0.4" fill="#c8c2c2" opacity="0.2"/><circle cx="43.6" cy="66.2" r="0.4" fill="#bdb5b5" opacity="0.3"/><circle cx="15.7" cy="31.6" r="0.4" fill="#bdb5b5" opacity="0.4"/><circle cx="70.2" cy="56.8" r="0.4" fill="#c8c2c2" opacity="0.3"/><circle cx="101.6" cy="79.7" r="0.4" fill="#c8c2c2" opacity="0.2"/><circle cx="58.6" cy="113.4" r="0.4" fill="#c8c2c2" opacity="0.2"/><circle cx="109.4" cy="48.7" r="0.4" fill="#d2cccc" opacity="0.4"/><circle cx="73.2" cy="59.4" r="0.5" fill="#c8c2c2" opacity="0.3"/><circle cx="12.7" cy="80.6" r="0.4" fill="#c8c2c2" opacity="0.3"/><circle cx="75.5" cy="63.2" r="0.4" fill="#c8c2c2" opacity="0.3"/><circle cx="28.4" cy="50.5" r="0.5" fill="#c8c2c2" opacity="0.3"/><circle cx="53.9" cy="76.1" r="0.4" fill="#c8c2c2" opacity="0.3"/><circle cx="80.0" cy="54.5" r="0.4" fill="#d2cccc" opacity="0.3"/><circle cx="117.3" cy="89.0" r="0.4" fill="#d2cccc" opacity="0.2"/><circle cx="16.8" cy="53.5" r="0.5" fill="#c8c2c2" opacity="0.4"/><circle cx="37.0" cy="101.2" r="0.4" fill="#c8c2c2" opacity="0.4"/><circle cx="30.0" cy="25.6" r="0.4" fill="#d2cccc" opacity="0.4"/><circle cx="49.8" cy="96.2" r="0.3" fill="#d2cccc" opacity="0.2"/><circle cx="48.5" cy="39.8" r="0.5" fill="#c8c2c2" opacity="0.2"/><circle cx="46.3" cy="79.0" r="0.5" fill="#bdb5b5" opacity="0.2"/><circle cx="25.1" cy="99.9" r="0.3" fill="#d2cccc" opacity="0.2"/><circle cx="78.3" cy="13.9" r="0.4" fill="#c8c2c2" opacity="0.3"/><circle cx="49.7" cy="125.7" r="0.5" fill="#d2cccc" opacity="0.2"/><circle cx="92.5" cy="78.1" r="0.4" fill="#bdb5b5" opacity="0.4"/><circle cx="17.8" cy="77.7" r="0.3" fill="#d2cccc" opacity="0.3"/><circle cx="76.2" cy="94.2" r="0.3" fill="#bdb5b5" opacity="0.2"/><circle cx="43.5" cy="121.7" r="0.4" fill="#c8c2c2" opacity="0.2"/><circle cx="120.7" cy="68.8" r="0.5" fill="#c8c2c2" opacity="0.2"/><circle cx="44.5" cy="112.1" r="0.3" fill="#bdb5b5" opacity="0.4"/><circle cx="74.8" cy="91.2" r="0.5" fill="#bdb5b5" opacity="0.3"/><circle cx="111.6" cy="23.7" r="0.4" fill="#bdb5b5" opacity="0.2"/><circle cx="71.3" cy="108.2" r="0.5" fill="#c8c2c2" opacity="0.2"/><circle cx="119.5" cy="87.7" r="0.4" fill="#bdb5b5" opacity="0.2"/><circle cx="38.1" cy="58.3" r="0.3" fill="#d2cccc" opacity="0.2"/><circle cx="104.1" cy="61.9" r="0.4" fill="#bdb5b5" opacity="0.3"/><circle cx="60.3" cy="91.4" r="0.4" fill="#d2cccc" opacity="0.2"/><circle cx="31.3" cy="34.2" r="0.4" fill="#d2cccc" opacity="0.2"/><circle cx="59.8" cy="76.7" r="0.4" fill="#bdb5b5" opacity="0.3"/><circle cx="9.2" cy="64.2" r="0.5" fill="#c8c2c2" opacity="0.2"/><circle cx="31.7" cy="86.0" r="0.4" fill="#c8c2c2" opacity="0.2"/><circle cx="52.1" cy="101.8" r="0.4" fill="#bdb5b5" opacity="0.2"/><circle cx="40.1" cy="53.4" r="0.4" fill="#bdb5b5" opacity="0.4"/><circle cx="68.8" cy="93.8" r="0.3" fill="#bdb5b5" opacity="0.4"/><circle cx="71.0" cy="60.1" r="0.5" fill="#c8c2c2" opacity="0.3"/><circle cx="9.3" cy="91.3" r="0.5" fill="#c8c2c2" opacity="0.3"/><circle cx="88.4" cy="8.7" r="0.5" fill="#bdb5b5" opacity="0.3"/><circle cx="68.8" cy="87.3" r="0.4" fill="#d2cccc" opacity="0.3"/><circle cx="26.7" cy="107.3" r="0.4" fill="#d2cccc" opacity="0.2"/><circle cx="32.8" cy="87.3" r="0.5" fill="#c8c2c2" opacity="0.2"/><circle cx="50.2" cy="51.0" r="0.5" fill="#bdb5b5" opacity="0.3"/><circle cx="59.4" cy="73.5" r="0.5" fill="#d2cccc" opacity="0.2"/><circle cx="69.8" cy="5.4" r="0.4" fill="#c8c2c2" opacity="0.3"/><circle cx="5.8" cy="60.7" r="0.5" fill="#d2cccc" opacity="0.4"/><circle cx="16.2" cy="57.7" r="0.4" fill="#bdb5b5" opacity="0.2"/><circle cx="44.7" cy="15.8" r="0.5" fill="#d2cccc" opacity="0.3"/><circle cx="109.1" cy="72.8" r="0.3" fill="#d2cccc" opacity="0.2"/><circle cx="108.1" cy="90.4" r="0.5" fill="#c8c2c2" opacity="0.2"/><circle cx="102.3" cy="85.9" r="0.4" fill="#d2cccc" opacity="0.4"/><circle cx="42.6" cy="18.8" r="0.5" fill="#c8c2c2" opacity="0.3"/><circle cx="8.8" cy="41.8" r="0.3" fill="#c8c2c2" opacity="0.2"/><circle cx="62.0" cy="91.4" r="0.4" fill="#bdb5b5" opacity="0.3"/><circle cx="123.7" cy="71.4" r="0.3" fill="#c8c2c2" opacity="0.2"/><circle cx="95.0" cy="21.0" r="0.3" fill="#bdb5b5" opacity="0.2"/><circle cx="80.4" cy="87.0" r="0.3" fill="#c8c2c2" opacity="0.2"/><circle cx="111.4" cy="66.5" r="0.4" fill="#c8c2c2" opacity="0.2"/><circle cx="14.7" cy="91.7" r="0.3" fill="#bdb5b5" opacity="0.4"/><circle cx="11.7" cy="87.1" r="0.4" fill="#bdb5b5" opacity="0.2"/><circle cx="32.0" cy="89.6" r="0.4" fill="#bdb5b5" opacity="0.4"/><circle cx="115.8" cy="92.3" r="0.5" fill="#c8c2c2" opacity="0.4"/><circle cx="89.9" cy="104.4" r="0.5" fill="#bdb5b5" opacity="0.3"/><circle cx="94.7" cy="120.5" r="0.5" fill="#d2cccc" opacity="0.4"/><circle cx="104.4" cy="48.5" r="0.4" fill="#d2cccc" opacity="0.2"/><circle cx="35.7" cy="101.2" r="0.5" fill="#bdb5b5" opacity="0.3"/><circle cx="59.7" cy="123.1" r="0.3" fill="#bdb5b5" opacity="0.4"/><circle cx="98.7" cy="118.4" r="0.5" fill="#d2cccc" opacity="0.3"/><circle cx="88.8" cy="102.1" r="0.3" fill="#c8c2c2" opacity="0.2"/><circle cx="74.2" cy="82.3" r="0.4" fill="#bdb5b5" opacity="0.3"/><circle cx="97.6" cy="70.2" r="0.4" fill="#bdb5b5" opacity="0.3"/><circle cx="39.4" cy="98.0" r="0.4" fill="#d2cccc" opacity="0.4"/><circle cx="101.4" cy="49.8" r="0.3" fill="#bdb5b5" opacity="0.3"/><circle cx="41.0" cy="98.6" r="0.5" fill="#bdb5b5" opacity="0.3"/><circle cx="41.8" cy="50.9" r="0.5" fill="#d2cccc" opacity="0.4"/><circle cx="81.1" cy="61.8" r="0.4" fill="#d2cccc" opacity="0.3"/><circle cx="88.7" cy="60.7" r="0.5" fill="#bdb5b5" opacity="0.2"/><circle cx="82.5" cy="124.0" r="0.3" fill="#bdb5b5" opacity="0.3"/><circle cx="47.3" cy="47.0" r="0.3" fill="#c8c2c2" opacity="0.4"/><circle cx="90.9" cy="95.6" r="0.4" fill="#bdb5b5" opacity="0.3"/><circle cx="55.5" cy="63.1" r="0.3" fill="#c8c2c2" opacity="0.4"/><circle cx="19.7" cy="81.9" r="0.4" fill="#d2cccc" opacity="0.4"/><circle cx="79.7" cy="54.6" r="0.4" fill="#c8c2c2" opacity="0.4"/><circle cx="24.5" cy="50.2" r="0.3" fill="#c8c2c2" opacity="0.2"/><circle cx="76.4" cy="90.5" r="0.4" fill="#bdb5b5" opacity="0.3"/><circle cx="56.8" cy="126.8" r="0.5" fill="#d2cccc" opacity="0.3"/><circle cx="101.2" cy="26.2" r="0.4" fill="#c8c2c2" opacity="0.3"/><circle cx="45.0" cy="113.4" r="0.3" fill="#bdb5b5" opacity="0.2"/><circle cx="99.9" cy="78.0" r="0.5" fill="#c8c2c2" opacity="0.3"/><circle cx="20.3" cy="83.1" r="0.5" fill="#d2cccc" opacity="0.4"/><circle cx="59.9" cy="25.9" r="0.5" fill="#bdb5b5" opacity="0.2"/><circle cx="81.4" cy="26.2" r="0.5" fill="#bdb5b5" opacity="0.2"/><circle cx="46.7" cy="77.4" r="0.4" fill="#c8c2c2" opacity="0.2"/><circle cx="108.2" cy="46.2" r="0.4" fill="#d2cccc" opacity="0.2"/><circle cx="62.8" cy="41.3" r="0.5" fill="#d2cccc" opacity="0.3"/><circle cx="21.6" cy="27.9" r="0.3" fill="#bdb5b5" opacity="0.3"/><circle cx="49.7" cy="119.8" r="0.4" fill="#bdb5b5" opacity="0.3"/><circle cx="72.3" cy="26.3" r="0.5" fill="#d2cccc" opacity="0.4"/><circle cx="46.1" cy="103.1" r="0.4" fill="#bdb5b5" opacity="0.4"/><circle cx="41.9" cy="26.8" r="0.5" fill="#bdb5b5" opacity="0.3"/><circle cx="41.1" cy="43.7" r="0.4" fill="#c8c2c2" opacity="0.4"/><circle cx="63.4" cy="39.9" r="0.5" fill="#d2cccc" opacity="0.2"/><circle cx="109.0" cy="108.9" r="0.5" fill="#bdb5b5" opacity="0.4"/><circle cx="88.7" cy="28.9" r="0.3" fill="#c8c2c2" opacity="0.3"/><circle cx="82.3" cy="69.7" r="0.5" fill="#c8c2c2" opacity="0.3"/><circle cx="46.4" cy="54.9" r="0.3" fill="#c8c2c2" opacity="0.4"/><circle cx="108.8" cy="103.1" r="0.5" fill="#bdb5b5" opacity="0.3"/><circle cx="72.8" cy="110.7" r="0.4" fill="#c8c2c2" opacity="0.2"/><circle cx="19.7" cy="30.0" r="0.5" fill="#bdb5b5" opacity="0.3"/><circle cx="38.3" cy="117.0" r="0.5" fill="#c8c2c2" opacity="0.4"/><circle cx="77.4" cy="32.9" r="0.4" fill="#c8c2c2" opacity="0.4"/><circle cx="97.1" cy="75.0" r="0.4" fill="#bdb5b5" opacity="0.4"/><circle cx="74.3" cy="23.4" r="0.3" fill="#bdb5b5" opacity="0.2"/><circle cx="29.9" cy="21.9" r="0.4" fill="#bdb5b5" opacity="0.4"/><circle cx="29.7" cy="104.7" r="0.3" fill="#d2cccc" opacity="0.4"/><circle cx="77.0" cy="82.7" r="0.3" fill="#c8c2c2" opacity="0.2"/><circle cx="30.8" cy="32.7" r="0.5" fill="#c8c2c2" opacity="0.2"/><circle cx="85.3" cy="33.2" r="0.3" fill="#bdb5b5" opacity="0.2"/><circle cx="99.0" cy="40.5" r="0.3" fill="#bdb5b5" opacity="0.2"/><circle cx="37.1" cy="62.4" r="0.3" fill="#bdb5b5" opacity="0.2"/><circle cx="31.4" cy="113.4" r="0.5" fill="#bdb5b5" opacity="0.2"/><circle cx="66.8" cy="46.2" r="0.5" fill="#d2cccc" opacity="0.2"/><circle cx="96.3" cy="90.4" r="0.3" fill="#d2cccc" opacity="0.4"/><circle cx="36.8" cy="16.4" r="0.3" fill="#d2cccc" opacity="0.2"/><circle cx="54.3" cy="29.5" r="0.3" fill="#c8c2c2" opacity="0.2"/><circle cx="63.1" cy="108.9" r="0.5" fill="#bdb5b5" opacity="0.2"/><circle cx="125.9" cy="71.5" r="0.5" fill="#bdb5b5" opacity="0.2"/><circle cx="46.2" cy="41.4" r="0.4" fill="#d2cccc" opacity="0.3"/><circle cx="26.1" cy="106.5" r="0.3" fill="#c8c2c2" opacity="0.4"/><circle cx="45.9" cy="95.8" r="0.5" fill="#d2cccc" opacity="0.4"/><circle cx="72.9" cy="34.1" r="0.4" fill="#bdb5b5" opacity="0.2"/><circle cx="54.7" cy="78.9" r="0.5" fill="#d2cccc" opacity="0.2"/><circle cx="28.5" cy="71.6" r="0.4" fill="#c8c2c2" opacity="0.2"/><circle cx="50.7" cy="62.3" r="0.4" fill="#c8c2c2" opacity="0.3"/><circle cx="8.4" cy="52.3" r="0.4" fill="#bdb5b5" opacity="0.2"/><circle cx="22.1" cy="97.7" r="0.3" fill="#d2cccc" opacity="0.3"/><circle cx="49.5" cy="77.4" r="0.5" fill="#bdb5b5" opacity="0.4"/><circle cx="106.7" cy="35.2" r="0.3" fill="#d2cccc" opacity="0.4"/><circle cx="75.6" cy="7.5" r="0.4" fill="#c8c2c2" opacity="0.2"/><circle cx="44.3" cy="37.2" r="0.3" fill="#d2cccc" opacity="0.3"/><circle cx="68.2" cy="77.3" r="0.4" fill="#bdb5b5" opacity="0.2"/><circle cx="57.5" cy="89.1" r="0.4" fill="#d2cccc" opacity="0.4"/><circle cx="61.8" cy="124.3" r="0.4" fill="#bdb5b5" opacity="0.4"/><circle cx="39.2" cy="65.9" r="0.5" fill="#c8c2c2" opacity="0.2"/><circle cx="81.8" cy="123.6" r="0.3" fill="#bdb5b5" opacity="0.2"/><circle cx="47.1" cy="75.6" r="0.4" fill="#bdb5b5" opacity="0.2"/><circle cx="97.7" cy="47.5" r="0.4" fill="#bdb5b5" opacity="0.3"/><circle cx="54.4" cy="20.9" r="0.3" fill="#c8c2c2" opacity="0.3"/><circle cx="123.9" cy="74.8" r="0.5" fill="#d2cccc" opacity="0.4"/><circle cx="43.7" cy="45.8" r="0.5" fill="#d2cccc" opacity="0.3"/><circle cx="107.9" cy="77.2" r="0.5" fill="#bdb5b5" opacity="0.3"/><circle cx="44.3" cy="32.3" r="0.4" fill="#c8c2c2" opacity="0.4"/><circle cx="40.8" cy="107.0" r="0.4" fill="#c8c2c2" opacity="0.3"/><circle cx="48.3" cy="32.6" r="0.5" fill="#bdb5b5" opacity="0.2"/><circle cx="107.7" cy="49.5" r="0.5" fill="#d2cccc" opacity="0.4"/><circle cx="78.3" cy="26.5" r="0.4" fill="#d2cccc" opacity="0.3"/><circle cx="58.7" cy="96.6" r="0.3" fill="#bdb5b5" opacity="0.2"/><circle cx="25.6" cy="78.2" r="0.3" fill="#c8c2c2" opacity="0.3"/><circle cx="84.1" cy="22.4" r="0.3" fill="#bdb5b5" opacity="0.2"/><circle cx="109.8" cy="67.9" r="0.3" fill="#d2cccc" opacity="0.2"/><circle cx="63.0" cy="113.8" r="0.3" fill="#c8c2c2" opacity="0.3"/><circle cx="43.7" cy="19.3" r="0.4" fill="#bdb5b5" opacity="0.2"/><circle cx="111.0" cy="40.5" r="0.5" fill="#bdb5b5" opacity="0.3"/><circle cx="19.1" cy="23.6" r="0.5" fill="#c8c2c2" opacity="0.3"/><circle cx="74.5" cy="15.0" r="0.3" fill="#c8c2c2" opacity="0.2"/><circle cx="20.6" cy="78.9" r="0.5" fill="#bdb5b5" opacity="0.2"/><circle cx="33.2" cy="63.7" r="0.4" fill="#bdb5b5" opacity="0.2"/><circle cx="62.1" cy="127.2" r="0.3" fill="#bdb5b5" opacity="0.2"/><circle cx="35.9" cy="49.4" r="0.5" fill="#c8c2c2" opacity="0.3"/><circle cx="94.3" cy="69.2" r="0.3" fill="#d2cccc" opacity="0.2"/><circle cx="58.6" cy="55.7" r="0.3" fill="#d2cccc" opacity="0.2"/><circle cx="39.6" cy="36.1" r="0.5" fill="#c8c2c2" opacity="0.3"/><circle cx="97.2" cy="52.2" r="0.5" fill="#d2cccc" opacity="0.3"/><circle cx="47.7" cy="87.2" r="0.5" fill="#d2cccc" opacity="0.3"/><circle cx="92.7" cy="104.4" r="0.3" fill="#c8c2c2" opacity="0.2"/><circle cx="104.6" cy="85.3" r="0.4" fill="#d2cccc" opacity="0.2"/><circle cx="63.0" cy="68.6" r="0.5" fill="#bdb5b5" opacity="0.3"/><circle cx="11.6" cy="89.7" r="0.4" fill="#d2cccc" opacity="0.4"/><circle cx="54.9" cy="11.0" r="0.5" fill="#d2cccc" opacity="0.2"/><circle cx="115.9" cy="100.1" r="0.3" fill="#d2cccc" opacity="0.4"/><circle cx="16.9" cy="43.0" r="0.3" fill="#d2cccc" opacity="0.2"/><circle cx="20.0" cy="79.0" r="0.6" fill="#ffffff" opacity="0.8"/><circle cx="82.0" cy="43.4" r="0.5" fill="#ffffff" opacity="0.9"/><circle cx="70.3" cy="46.4" r="0.4" fill="#ffffff" opacity="0.8"/><circle cx="103.9" cy="33.2" r="0.5" fill="#ffffff" opacity="1.0"/><circle cx="37.0" cy="24.3" r="0.3" fill="#ffffff" opacity="0.9"/><circle cx="76.1" cy="69.7" r="0.6" fill="#ffffff" opacity="0.9"/><circle cx="42.7" cy="108.1" r="0.4" fill="#ffffff" opacity="0.9"/><circle cx="13.7" cy="65.2" r="0.4" fill="#ffffff" opacity="0.8"/><circle cx="7.3" cy="45.8" r="0.3" fill="#ffffff" opacity="0.7"/><circle cx="69.4" cy="98.7" r="0.3" fill="#ffffff" opacity="0.8"/><circle cx="87.5" cy="32.9" r="0.6" fill="#ffffff" opacity="0.7"/><circle cx="78.0" cy="58.7" r="0.4" fill="#ffffff" opacity="0.8"/><circle cx="39.4" cy="53.7" r="0.5" fill="#ffffff" opacity="0.6"/><circle cx="34.4" cy="118.9" r="0.5" fill="#ffffff" opacity="0.7"/><circle cx="63.3" cy="58.7" r="0.4" fill="#ffffff" opacity="0.7"/><circle cx="25.8" cy="49.7" r="0.4" fill="#ffffff" opacity="0.8"/><circle cx="35.6" cy="91.6" r="0.6" fill="#ffffff" opacity="0.7"/><circle cx="120.7" cy="54.8" r="0.4" fill="#ffffff" opacity="0.7"/><circle cx="19.2" cy="101.1" r="0.5" fill="#ffffff" opacity="0.6"/><circle cx="90.5" cy="98.4" r="0.3" fill="#ffffff" opacity="0.9"/><circle cx="52.1" cy="76.4" r="0.4" fill="#ffffff" opacity="0.6"/><circle cx="31.3" cy="101.7" r="0.3" fill="#ffffff" opacity="0.9"/><circle cx="90.9" cy="94.6" r="0.5" fill="#ffffff" opacity="1.0"/><circle cx="78.1" cy="36.4" r="0.4" fill="#ffffff" opacity="0.9"/><circle cx="31.6" cy="93.4" r="0.3" fill="#ffffff" opacity="0.6"/><circle cx="125.2" cy="80.0" r="0.4" fill="#ffffff" opacity="0.7"/><circle cx="86.9" cy="21.5" r="0.4" fill="#ffffff" opacity="1.0"/><circle cx="87.3" cy="61.9" r="0.4" fill="#ffffff" opacity="0.7"/><circle cx="89.8" cy="51.0" r="0.3" fill="#ffffff" opacity="0.8"/><circle cx="65.2" cy="78.7" r="0.4" fill="#ffffff" opacity="0.6"/><circle cx="92.4" cy="97.5" r="0.4" fill="#ffffff" opacity="0.8"/><circle cx="103.7" cy="45.0" r="0.4" fill="#ffffff" opacity="1.0"/><circle cx="115.0" cy="71.8" r="0.4" fill="#ffffff" opacity="0.7"/><circle cx="82.4" cy="65.0" r="0.5" fill="#ffffff" opacity="1.0"/><circle cx="60.8" cy="12.3" r="0.5" fill="#ffffff" opacity="0.7"/><circle cx="41.4" cy="10.1" r="0.6" fill="#ffffff" opacity="1.0"/><circle cx="108.9" cy="73.5" r="0.3" fill="#ffffff" opacity="0.8"/><circle cx="82.0" cy="66.4" r="0.3" fill="#ffffff" opacity="1.0"/><circle cx="104.3" cy="28.2" r="0.4" fill="#ffffff" opacity="0.8"/><circle cx="74.7" cy="49.6" r="0.5" fill="#ffffff" opacity="0.7"/><circle cx="73.1" cy="70.0" r="0.6" fill="#ffffff" opacity="0.8"/><circle cx="19.6" cy="25.2" r="0.4" fill="#ffffff" opacity="0.7"/><circle cx="95.8" cy="103.8" r="0.5" fill="#ffffff" opacity="0.9"/><circle cx="9.4" cy="86.4" r="0.4" fill="#ffffff" opacity="0.7"/><circle cx="13.7" cy="88.9" r="0.6" fill="#ffffff" opacity="0.8"/><circle cx="34.3" cy="47.4" r="0.3" fill="#ffffff" opacity="0.7"/><circle cx="75.2" cy="57.4" r="0.3" fill="#ffffff" opacity="0.9"/><circle cx="98.0" cy="93.3" r="0.6" fill="#ffffff" opacity="0.8"/><circle cx="13.8" cy="58.6" r="0.5" fill="#ffffff" opacity="0.7"/><circle cx="80.9" cy="35.8" r="0.5" fill="#ffffff" opacity="0.8"/><circle cx="44.8" cy="117.4" r="0.3" fill="#ffffff" opacity="0.8"/><circle cx="85.5" cy="116.5" r="0.4" fill="#ffffff" opacity="0.9"/><circle cx="86.4" cy="63.0" r="0.3" fill="#ffffff" opacity="1.0"/><circle cx="53.8" cy="39.3" r="0.4" fill="#ffffff" opacity="0.9"/><circle cx="66.6" cy="19.0" r="0.3" fill="#ffffff" opacity="0.7"/><circle cx="35.3" cy="108.5" r="0.5" fill="#ffffff" opacity="0.8"/><circle cx="80.7" cy="7.1" r="0.3" fill="#ffffff" opacity="0.7"/><circle cx="17.3" cy="79.5" r="0.6" fill="#ffffff" opacity="0.8"/><circle cx="39.4" cy="28.5" r="0.5" fill="#ffffff" opacity="0.8"/><circle cx="48.5" cy="41.9" r="0.5" fill="#ffffff" opacity="0.7"/><circle cx="115.6" cy="28.4" r="0.6" fill="#ffffff" opacity="0.7"/><circle cx="63.5" cy="57.4" r="0.5" fill="#ffffff" opacity="0.8"/><circle cx="12.5" cy="47.9" r="0.4" fill="#ffffff" opacity="0.7"/><circle cx="92.9" cy="34.5" r="0.3" fill="#ffffff" opacity="0.9"/><circle cx="102.5" cy="43.3" r="0.6" fill="#ffffff" opacity="1.0"/><circle cx="3.7" cy="68.0" r="0.3" fill="#ffffff" opacity="0.8"/><circle cx="11.5" cy="44.3" r="0.5" fill="#ffffff" opacity="0.8"/><circle cx="91.3" cy="25.8" r="0.4" fill="#ffffff" opacity="1.0"/><circle cx="98.8" cy="29.2" r="0.4" fill="#ffffff" opacity="1.0"/><circle cx="17.9" cy="57.9" r="0.4" fill="#ffffff" opacity="0.8"/><circle cx="56.8" cy="58.6" r="0.6" fill="#ffffff" opacity="0.8"/><circle cx="87.1" cy="63.6" r="0.3" fill="#ffffff" opacity="0.6"/><circle cx="25.7" cy="55.3" r="0.6" fill="#ffffff" opacity="0.7"/><circle cx="42.9" cy="68.9" r="0.4" fill="#ffffff" opacity="0.8"/><circle cx="96.8" cy="90.9" r="0.3" fill="#ffffff" opacity="0.7"/><circle cx="66.8" cy="55.7" r="0.4" fill="#ffffff" opacity="0.6"/><circle cx="53.7" cy="117.5" r="0.4" fill="#ffffff" opacity="0.6"/><circle cx="62.5" cy="43.1" r="0.5" fill="#ffffff" opacity="0.9"/><circle cx="47.3" cy="8.7" r="0.3" fill="#ffffff" opacity="0.9"/><circle cx="30.5" cy="34.3" r="0.6" fill="#ffffff" opacity="0.8"/>
</svg><div class="n"><span>01</span></div></div>
<div class="c" style="left:206.7px;top:184.5px;"><svg width="131" height="131" viewBox="-0.4 -0.4 131 131"><defs>
<radialGradient id="g2a" cx="50%" cy="45%" r="62%">
<stop offset="0" stop-color="#eae3e0"/><stop offset="0.7" stop-color="#e8e0dc"/><stop offset="1" stop-color="#e4dbd7"/></radialGradient>

</defs>
<circle cx="65.1" cy="65.1" r="65.1" fill="url(#g2a)"/>
<circle cx="124.2" cy="48.3" r="0.3" fill="#b8aaa3" opacity="0.4"/><circle cx="92.7" cy="114.7" r="0.5" fill="#c7b9b2" opacity="0.5"/><circle cx="27.4" cy="35.2" r="0.3" fill="#c7b9b2" opacity="0.5"/><circle cx="84.5" cy="9.9" r="0.4" fill="#c7b9b2" opacity="0.4"/><circle cx="34.4" cy="76.2" r="0.3" fill="#b8aaa3" opacity="0.4"/><circle cx="119.8" cy="40.1" r="0.4" fill="#a89a93" opacity="0.3"/><circle cx="78.4" cy="92.3" r="0.3" fill="#b8aaa3" opacity="0.3"/><circle cx="2.2" cy="61.1" r="0.5" fill="#b8aaa3" opacity="0.6"/><circle cx="26.8" cy="78.7" r="0.4" fill="#c7b9b2" opacity="0.5"/><circle cx="27.2" cy="114.8" r="0.5" fill="#b8aaa3" opacity="0.6"/><circle cx="21.3" cy="97.0" r="0.5" fill="#b8aaa3" opacity="0.4"/><circle cx="104.9" cy="44.8" r="0.5" fill="#c7b9b2" opacity="0.5"/><circle cx="7.5" cy="81.9" r="0.4" fill="#a89a93" opacity="0.6"/><circle cx="57.9" cy="21.7" r="0.3" fill="#c7b9b2" opacity="0.5"/><circle cx="95.2" cy="14.3" r="0.4" fill="#c7b9b2" opacity="0.4"/><circle cx="116.2" cy="51.1" r="0.4" fill="#a89a93" opacity="0.4"/><circle cx="35.1" cy="38.3" r="0.5" fill="#c7b9b2" opacity="0.4"/><circle cx="110.7" cy="45.1" r="0.3" fill="#c7b9b2" opacity="0.5"/><circle cx="88.2" cy="50.0" r="0.5" fill="#b8aaa3" opacity="0.5"/><circle cx="111.4" cy="79.8" r="0.5" fill="#b8aaa3" opacity="0.5"/><circle cx="86.4" cy="89.7" r="0.5" fill="#b8aaa3" opacity="0.4"/><circle cx="62.8" cy="54.1" r="0.4" fill="#b8aaa3" opacity="0.3"/><circle cx="86.3" cy="68.2" r="0.3" fill="#b8aaa3" opacity="0.5"/><circle cx="96.7" cy="69.3" r="0.5" fill="#b8aaa3" opacity="0.5"/><circle cx="62.4" cy="64.7" r="0.4" fill="#b8aaa3" opacity="0.3"/><circle cx="101.2" cy="73.5" r="0.4" fill="#a89a93" opacity="0.5"/><circle cx="55.2" cy="108.1" r="0.4" fill="#a89a93" opacity="0.5"/><circle cx="61.3" cy="5.3" r="0.5" fill="#a89a93" opacity="0.5"/><circle cx="35.6" cy="70.2" r="0.5" fill="#c7b9b2" opacity="0.5"/><circle cx="120.5" cy="73.6" r="0.5" fill="#a89a93" opacity="0.5"/><circle cx="29.7" cy="93.3" r="0.3" fill="#c7b9b2" opacity="0.3"/><circle cx="33.0" cy="39.8" r="0.3" fill="#a89a93" opacity="0.6"/><circle cx="49.9" cy="37.2" r="0.3" fill="#b8aaa3" opacity="0.3"/><circle cx="35.4" cy="31.3" r="0.5" fill="#b8aaa3" opacity="0.6"/><circle cx="69.7" cy="106.9" r="0.3" fill="#a89a93" opacity="0.3"/><circle cx="78.0" cy="17.0" r="0.4" fill="#a89a93" opacity="0.4"/><circle cx="60.8" cy="64.4" r="0.3" fill="#c7b9b2" opacity="0.3"/><circle cx="46.5" cy="63.7" r="0.3" fill="#b8aaa3" opacity="0.3"/><circle cx="68.5" cy="94.3" r="0.4" fill="#c7b9b2" opacity="0.4"/><circle cx="27.2" cy="56.5" r="0.5" fill="#b8aaa3" opacity="0.5"/><circle cx="23.8" cy="83.4" r="0.4" fill="#b8aaa3" opacity="0.6"/><circle cx="108.5" cy="44.3" r="0.5" fill="#a89a93" opacity="0.5"/><circle cx="34.8" cy="99.0" r="0.5" fill="#a89a93" opacity="0.4"/><circle cx="42.8" cy="8.4" r="0.4" fill="#a89a93" opacity="0.4"/><circle cx="87.3" cy="82.3" r="0.5" fill="#b8aaa3" opacity="0.5"/><circle cx="111.9" cy="83.6" r="0.4" fill="#a89a93" opacity="0.5"/><circle cx="74.9" cy="65.4" r="0.4" fill="#a89a93" opacity="0.3"/><circle cx="66.0" cy="37.4" r="0.4" fill="#c7b9b2" opacity="0.5"/><circle cx="88.8" cy="93.6" r="0.5" fill="#c7b9b2" opacity="0.3"/><circle cx="116.0" cy="93.3" r="0.5" fill="#b8aaa3" opacity="0.5"/><circle cx="115.7" cy="73.0" r="0.5" fill="#a89a93" opacity="0.5"/><circle cx="49.4" cy="124.9" r="0.3" fill="#c7b9b2" opacity="0.3"/><circle cx="22.1" cy="57.9" r="0.5" fill="#c7b9b2" opacity="0.6"/><circle cx="82.8" cy="35.6" r="0.3" fill="#c7b9b2" opacity="0.5"/><circle cx="14.9" cy="49.3" r="0.5" fill="#b8aaa3" opacity="0.5"/><circle cx="73.2" cy="47.3" r="0.4" fill="#a89a93" opacity="0.3"/><circle cx="51.0" cy="73.2" r="0.3" fill="#a89a93" opacity="0.6"/><circle cx="51.6" cy="47.0" r="0.4" fill="#b8aaa3" opacity="0.5"/><circle cx="92.3" cy="41.2" r="0.3" fill="#c7b9b2" opacity="0.3"/><circle cx="5.6" cy="49.5" r="0.5" fill="#b8aaa3" opacity="0.4"/><circle cx="65.5" cy="110.3" r="0.3" fill="#b8aaa3" opacity="0.4"/><circle cx="53.5" cy="26.7" r="0.5" fill="#a89a93" opacity="0.5"/><circle cx="12.8" cy="76.2" r="0.5" fill="#c7b9b2" opacity="0.6"/><circle cx="84.2" cy="105.9" r="0.4" fill="#c7b9b2" opacity="0.3"/><circle cx="60.3" cy="24.9" r="0.5" fill="#c7b9b2" opacity="0.6"/><circle cx="38.6" cy="112.7" r="0.5" fill="#a89a93" opacity="0.3"/><circle cx="36.1" cy="37.5" r="0.5" fill="#a89a93" opacity="0.6"/><circle cx="47.5" cy="107.2" r="0.5" fill="#c7b9b2" opacity="0.5"/><circle cx="68.4" cy="57.5" r="0.5" fill="#a89a93" opacity="0.4"/><circle cx="43.0" cy="84.4" r="0.5" fill="#c7b9b2" opacity="0.5"/><circle cx="68.1" cy="37.1" r="0.5" fill="#a89a93" opacity="0.5"/><circle cx="15.8" cy="68.3" r="0.3" fill="#a89a93" opacity="0.4"/><circle cx="64.0" cy="112.6" r="0.4" fill="#b8aaa3" opacity="0.6"/><circle cx="67.5" cy="27.8" r="0.5" fill="#a89a93" opacity="0.5"/><circle cx="35.3" cy="19.1" r="0.4" fill="#a89a93" opacity="0.6"/><circle cx="7.9" cy="80.0" r="0.4" fill="#b8aaa3" opacity="0.5"/><circle cx="33.4" cy="110.1" r="0.5" fill="#c7b9b2" opacity="0.3"/><circle cx="24.4" cy="24.3" r="0.5" fill="#b8aaa3" opacity="0.3"/><circle cx="33.4" cy="94.2" r="0.4" fill="#b8aaa3" opacity="0.3"/><circle cx="62.5" cy="65.6" r="0.3" fill="#c7b9b2" opacity="0.4"/><circle cx="79.8" cy="114.9" r="0.4" fill="#b8aaa3" opacity="0.4"/><circle cx="6.5" cy="50.6" r="0.3" fill="#c7b9b2" opacity="0.4"/><circle cx="31.0" cy="20.3" r="0.5" fill="#c7b9b2" opacity="0.4"/><circle cx="104.6" cy="43.5" r="0.3" fill="#a89a93" opacity="0.4"/><circle cx="98.5" cy="19.7" r="0.4" fill="#c7b9b2" opacity="0.3"/><circle cx="110.0" cy="50.4" r="0.4" fill="#b8aaa3" opacity="0.6"/><circle cx="108.6" cy="102.0" r="0.4" fill="#c7b9b2" opacity="0.3"/><circle cx="42.5" cy="93.8" r="0.4" fill="#c7b9b2" opacity="0.4"/><circle cx="49.5" cy="122.7" r="0.5" fill="#c7b9b2" opacity="0.6"/><circle cx="72.1" cy="97.3" r="0.3" fill="#b8aaa3" opacity="0.4"/><circle cx="65.9" cy="7.1" r="0.3" fill="#b8aaa3" opacity="0.5"/><circle cx="71.1" cy="121.5" r="0.5" fill="#c7b9b2" opacity="0.5"/><circle cx="65.0" cy="31.7" r="0.5" fill="#a89a93" opacity="0.4"/><circle cx="42.5" cy="8.0" r="0.5" fill="#a89a93" opacity="0.6"/><circle cx="115.4" cy="43.5" r="0.5" fill="#c7b9b2" opacity="0.4"/><circle cx="54.0" cy="52.2" r="0.4" fill="#c7b9b2" opacity="0.3"/><circle cx="101.3" cy="55.2" r="0.4" fill="#b8aaa3" opacity="0.4"/><circle cx="20.1" cy="107.9" r="0.3" fill="#b8aaa3" opacity="0.4"/><circle cx="116.6" cy="35.8" r="0.5" fill="#c7b9b2" opacity="0.3"/><circle cx="40.6" cy="116.9" r="0.4" fill="#a89a93" opacity="0.3"/><circle cx="49.2" cy="46.5" r="0.4" fill="#c7b9b2" opacity="0.3"/><circle cx="83.0" cy="87.3" r="0.3" fill="#c7b9b2" opacity="0.4"/><circle cx="88.2" cy="79.6" r="0.5" fill="#a89a93" opacity="0.5"/><circle cx="45.2" cy="98.1" r="0.5" fill="#b8aaa3" opacity="0.6"/><circle cx="72.1" cy="79.3" r="0.4" fill="#c7b9b2" opacity="0.3"/><circle cx="7.7" cy="56.7" r="0.4" fill="#a89a93" opacity="0.5"/><circle cx="15.4" cy="103.9" r="0.4" fill="#c7b9b2" opacity="0.4"/><circle cx="97.3" cy="31.4" r="0.4" fill="#b8aaa3" opacity="0.5"/><circle cx="4.3" cy="50.1" r="0.5" fill="#a89a93" opacity="0.4"/><circle cx="26.2" cy="89.2" r="0.3" fill="#b8aaa3" opacity="0.4"/><circle cx="46.9" cy="53.3" r="0.5" fill="#a89a93" opacity="0.6"/><circle cx="96.0" cy="81.4" r="0.5" fill="#b8aaa3" opacity="0.3"/><circle cx="50.6" cy="39.2" r="0.3" fill="#c7b9b2" opacity="0.5"/><circle cx="117.2" cy="99.1" r="0.5" fill="#b8aaa3" opacity="0.6"/><circle cx="49.3" cy="67.6" r="0.3" fill="#b8aaa3" opacity="0.3"/><circle cx="49.6" cy="64.9" r="0.3" fill="#b8aaa3" opacity="0.5"/><circle cx="13.5" cy="57.6" r="0.5" fill="#b8aaa3" opacity="0.4"/><circle cx="111.5" cy="65.5" r="0.3" fill="#c7b9b2" opacity="0.3"/><circle cx="92.8" cy="74.7" r="0.4" fill="#a89a93" opacity="0.5"/><circle cx="17.2" cy="102.8" r="0.4" fill="#a89a93" opacity="0.3"/><circle cx="110.1" cy="100.2" r="0.4" fill="#b8aaa3" opacity="0.3"/><circle cx="76.1" cy="100.3" r="0.3" fill="#b8aaa3" opacity="0.4"/><circle cx="81.9" cy="10.8" r="0.4" fill="#c7b9b2" opacity="0.3"/><circle cx="21.6" cy="57.5" r="0.4" fill="#c7b9b2" opacity="0.5"/><circle cx="49.0" cy="16.5" r="0.3" fill="#a89a93" opacity="0.5"/><circle cx="74.4" cy="103.5" r="0.3" fill="#b8aaa3" opacity="0.5"/><circle cx="62.5" cy="12.3" r="0.4" fill="#b8aaa3" opacity="0.5"/><circle cx="84.3" cy="42.2" r="0.3" fill="#c7b9b2" opacity="0.3"/><circle cx="72.0" cy="84.7" r="0.5" fill="#a89a93" opacity="0.6"/><circle cx="66.6" cy="46.0" r="0.5" fill="#c7b9b2" opacity="0.5"/><circle cx="89.5" cy="59.3" r="0.4" fill="#c7b9b2" opacity="0.5"/><circle cx="48.8" cy="63.2" r="0.5" fill="#a89a93" opacity="0.5"/><circle cx="15.9" cy="79.3" r="0.3" fill="#a89a93" opacity="0.5"/><circle cx="72.5" cy="62.4" r="0.4" fill="#c7b9b2" opacity="0.4"/><circle cx="29.4" cy="93.7" r="0.5" fill="#b8aaa3" opacity="0.4"/><circle cx="83.1" cy="84.0" r="0.5" fill="#c7b9b2" opacity="0.6"/><circle cx="28.5" cy="98.3" r="0.4" fill="#a89a93" opacity="0.4"/><circle cx="80.5" cy="105.5" r="0.4" fill="#c7b9b2" opacity="0.3"/><circle cx="31.0" cy="101.6" r="0.4" fill="#a89a93" opacity="0.5"/><circle cx="45.1" cy="54.6" r="0.5" fill="#b8aaa3" opacity="0.4"/><circle cx="73.9" cy="47.4" r="0.5" fill="#b8aaa3" opacity="0.3"/><circle cx="51.3" cy="98.0" r="0.3" fill="#a89a93" opacity="0.5"/><circle cx="72.6" cy="49.9" r="0.4" fill="#a89a93" opacity="0.3"/><circle cx="45.0" cy="54.1" r="0.3" fill="#a89a93" opacity="0.5"/><circle cx="56.0" cy="15.7" r="0.4" fill="#c7b9b2" opacity="0.5"/><circle cx="8.7" cy="66.7" r="0.5" fill="#b8aaa3" opacity="0.4"/><circle cx="99.1" cy="17.6" r="0.3" fill="#a89a93" opacity="0.5"/><circle cx="99.3" cy="30.6" r="0.5" fill="#a89a93" opacity="0.4"/><circle cx="35.9" cy="27.9" r="0.4" fill="#b8aaa3" opacity="0.3"/><circle cx="36.6" cy="37.8" r="0.4" fill="#c7b9b2" opacity="0.4"/><circle cx="26.7" cy="71.2" r="0.3" fill="#b8aaa3" opacity="0.3"/><circle cx="6.4" cy="55.9" r="0.4" fill="#a89a93" opacity="0.5"/><circle cx="115.2" cy="82.7" r="0.4" fill="#a89a93" opacity="0.3"/><circle cx="40.1" cy="93.6" r="0.5" fill="#c7b9b2" opacity="0.5"/><circle cx="50.0" cy="13.2" r="0.3" fill="#b8aaa3" opacity="0.3"/><circle cx="114.2" cy="78.3" r="0.3" fill="#b8aaa3" opacity="0.4"/><circle cx="27.2" cy="31.4" r="0.5" fill="#b8aaa3" opacity="0.5"/><circle cx="14.8" cy="51.9" r="0.3" fill="#a89a93" opacity="0.3"/><circle cx="46.1" cy="112.7" r="0.4" fill="#a89a93" opacity="0.4"/><circle cx="32.6" cy="116.3" r="0.4" fill="#b8aaa3" opacity="0.5"/><circle cx="32.6" cy="111.0" r="0.5" fill="#c7b9b2" opacity="0.5"/><circle cx="100.8" cy="37.7" r="0.5" fill="#b8aaa3" opacity="0.3"/><circle cx="19.1" cy="85.3" r="0.4" fill="#a89a93" opacity="0.5"/><circle cx="76.4" cy="51.8" r="0.4" fill="#a89a93" opacity="0.5"/><circle cx="37.3" cy="78.5" r="0.3" fill="#a89a93" opacity="0.3"/><circle cx="13.4" cy="30.9" r="0.5" fill="#a89a93" opacity="0.3"/><circle cx="123.5" cy="72.4" r="0.5" fill="#a89a93" opacity="0.5"/><circle cx="96.7" cy="40.5" r="0.5" fill="#b8aaa3" opacity="0.6"/><circle cx="91.6" cy="48.9" r="0.4" fill="#b8aaa3" opacity="0.3"/><circle cx="28.1" cy="90.1" r="0.4" fill="#a89a93" opacity="0.3"/><circle cx="2.9" cy="55.0" r="0.5" fill="#c7b9b2" opacity="0.6"/><circle cx="94.0" cy="94.5" r="0.4" fill="#c7b9b2" opacity="0.3"/><circle cx="91.1" cy="58.1" r="0.5" fill="#c7b9b2" opacity="0.5"/><circle cx="90.6" cy="12.1" r="0.4" fill="#c7b9b2" opacity="0.5"/><circle cx="91.1" cy="92.0" r="0.3" fill="#a89a93" opacity="0.3"/><circle cx="88.7" cy="98.0" r="0.5" fill="#c7b9b2" opacity="0.4"/><circle cx="80.9" cy="103.6" r="0.5" fill="#c7b9b2" opacity="0.5"/><circle cx="119.8" cy="48.3" r="0.4" fill="#b8aaa3" opacity="0.4"/><circle cx="74.0" cy="61.0" r="0.5" fill="#c7b9b2" opacity="0.4"/><circle cx="52.9" cy="36.2" r="0.5" fill="#c7b9b2" opacity="0.4"/><circle cx="20.9" cy="24.3" r="0.3" fill="#a89a93" opacity="0.3"/><circle cx="50.6" cy="124.4" r="0.4" fill="#b8aaa3" opacity="0.4"/><circle cx="108.8" cy="32.4" r="0.5" fill="#c7b9b2" opacity="0.3"/><circle cx="24.4" cy="36.3" r="0.4" fill="#a89a93" opacity="0.6"/><circle cx="26.8" cy="96.5" r="0.5" fill="#a89a93" opacity="0.5"/><circle cx="105.4" cy="40.7" r="0.3" fill="#b8aaa3" opacity="0.5"/><circle cx="41.2" cy="32.6" r="0.4" fill="#a89a93" opacity="0.5"/><circle cx="14.8" cy="98.3" r="0.4" fill="#c7b9b2" opacity="0.4"/><circle cx="51.3" cy="4.5" r="0.4" fill="#c7b9b2" opacity="0.5"/><circle cx="54.8" cy="72.5" r="0.4" fill="#b8aaa3" opacity="0.3"/><circle cx="83.7" cy="34.5" r="0.4" fill="#c7b9b2" opacity="0.3"/><circle cx="83.1" cy="33.9" r="0.3" fill="#a89a93" opacity="0.4"/><circle cx="42.8" cy="44.1" r="0.5" fill="#a89a93" opacity="0.3"/><circle cx="108.6" cy="73.5" r="0.5" fill="#b8aaa3" opacity="0.3"/><circle cx="22.8" cy="93.5" r="0.4" fill="#b8aaa3" opacity="0.6"/><circle cx="34.3" cy="28.4" r="0.3" fill="#a89a93" opacity="0.4"/><circle cx="37.0" cy="113.3" r="0.4" fill="#a89a93" opacity="0.5"/><circle cx="32.5" cy="72.3" r="0.4" fill="#a89a93" opacity="0.4"/><circle cx="40.3" cy="94.5" r="0.5" fill="#b8aaa3" opacity="0.4"/><circle cx="35.5" cy="25.0" r="0.3" fill="#c7b9b2" opacity="0.3"/><circle cx="96.6" cy="28.4" r="0.4" fill="#b8aaa3" opacity="0.3"/><circle cx="70.9" cy="11.1" r="0.5" fill="#a89a93" opacity="0.3"/><circle cx="46.4" cy="7.4" r="0.5" fill="#a89a93" opacity="0.3"/><circle cx="59.1" cy="4.9" r="0.5" fill="#b8aaa3" opacity="0.3"/><circle cx="113.2" cy="93.1" r="0.3" fill="#b8aaa3" opacity="0.3"/><circle cx="58.2" cy="58.9" r="0.4" fill="#b8aaa3" opacity="0.4"/><circle cx="26.0" cy="46.4" r="0.3" fill="#c7b9b2" opacity="0.3"/><circle cx="85.1" cy="9.4" r="0.4" fill="#a89a93" opacity="0.3"/><circle cx="91.4" cy="100.2" r="0.3" fill="#a89a93" opacity="0.5"/><circle cx="49.2" cy="123.4" r="0.4" fill="#a89a93" opacity="0.3"/><circle cx="45.7" cy="76.2" r="0.4" fill="#c7b9b2" opacity="0.6"/><circle cx="98.0" cy="23.9" r="0.4" fill="#b8aaa3" opacity="0.3"/><circle cx="71.8" cy="114.3" r="0.5" fill="#a89a93" opacity="0.5"/><circle cx="79.7" cy="45.0" r="0.5" fill="#b8aaa3" opacity="0.4"/><circle cx="59.6" cy="103.2" r="0.3" fill="#a89a93" opacity="0.5"/><circle cx="28.4" cy="114.7" r="0.5" fill="#b8aaa3" opacity="0.4"/><circle cx="68.9" cy="10.5" r="0.4" fill="#b8aaa3" opacity="0.5"/><circle cx="100.3" cy="23.1" r="0.3" fill="#a89a93" opacity="0.4"/><circle cx="32.3" cy="83.9" r="0.5" fill="#c7b9b2" opacity="0.3"/><circle cx="21.4" cy="21.2" r="0.3" fill="#b8aaa3" opacity="0.6"/><circle cx="30.3" cy="111.6" r="0.3" fill="#c7b9b2" opacity="0.5"/><circle cx="38.7" cy="10.5" r="0.3" fill="#b8aaa3" opacity="0.5"/><circle cx="70.6" cy="35.4" r="0.4" fill="#b8aaa3" opacity="0.6"/><circle cx="50.7" cy="40.0" r="0.5" fill="#b8aaa3" opacity="0.5"/><circle cx="34.5" cy="117.5" r="0.5" fill="#c7b9b2" opacity="0.6"/><circle cx="43.8" cy="61.4" r="0.5" fill="#b8aaa3" opacity="0.5"/><circle cx="35.6" cy="93.5" r="0.5" fill="#b8aaa3" opacity="0.5"/><circle cx="25.5" cy="30.1" r="0.3" fill="#a89a93" opacity="0.5"/><circle cx="60.2" cy="39.0" r="0.5" fill="#a89a93" opacity="0.5"/><circle cx="120.3" cy="92.0" r="0.3" fill="#b8aaa3" opacity="0.3"/><circle cx="26.5" cy="76.2" r="0.3" fill="#b8aaa3" opacity="0.3"/><circle cx="71.8" cy="70.4" r="0.3" fill="#c7b9b2" opacity="0.4"/><circle cx="67.5" cy="106.1" r="0.3" fill="#b8aaa3" opacity="0.6"/><circle cx="117.5" cy="41.4" r="0.3" fill="#b8aaa3" opacity="0.6"/><circle cx="31.3" cy="21.5" r="0.4" fill="#b8aaa3" opacity="0.4"/><circle cx="43.6" cy="11.6" r="0.3" fill="#b8aaa3" opacity="0.3"/><circle cx="100.7" cy="20.4" r="0.5" fill="#b8aaa3" opacity="0.3"/><circle cx="61.8" cy="96.9" r="0.3" fill="#a89a93" opacity="0.6"/><circle cx="47.8" cy="109.2" r="0.4" fill="#c7b9b2" opacity="0.5"/><circle cx="91.2" cy="62.7" r="0.5" fill="#c7b9b2" opacity="0.5"/><circle cx="25.2" cy="75.1" r="0.5" fill="#a89a93" opacity="0.3"/><circle cx="125.8" cy="68.1" r="0.5" fill="#c7b9b2" opacity="0.5"/><circle cx="110.4" cy="28.7" r="0.4" fill="#a89a93" opacity="0.5"/><circle cx="81.3" cy="89.8" r="0.5" fill="#a89a93" opacity="0.3"/><circle cx="70.5" cy="86.8" r="0.4" fill="#b8aaa3" opacity="0.4"/><circle cx="84.9" cy="49.1" r="0.3" fill="#c7b9b2" opacity="0.3"/><circle cx="11.2" cy="59.9" r="0.5" fill="#b8aaa3" opacity="0.6"/><circle cx="25.7" cy="51.5" r="0.3" fill="#c7b9b2" opacity="0.4"/><circle cx="44.7" cy="124.7" r="0.5" fill="#b8aaa3" opacity="0.6"/><circle cx="109.0" cy="46.1" r="0.5" fill="#a89a93" opacity="0.6"/><circle cx="18.5" cy="49.5" r="0.3" fill="#a89a93" opacity="0.5"/><circle cx="16.3" cy="100.4" r="0.3" fill="#c7b9b2" opacity="0.3"/><circle cx="49.8" cy="95.6" r="0.5" fill="#a89a93" opacity="0.3"/><circle cx="43.5" cy="101.4" r="0.3" fill="#c7b9b2" opacity="0.6"/><circle cx="16.4" cy="82.8" r="0.5" fill="#b8aaa3" opacity="0.5"/><circle cx="116.0" cy="68.7" r="0.3" fill="#a89a93" opacity="0.5"/><circle cx="100.0" cy="104.5" r="0.4" fill="#a89a93" opacity="0.6"/><circle cx="66.3" cy="50.4" r="0.5" fill="#b8aaa3" opacity="0.6"/><circle cx="57.1" cy="60.6" r="0.4" fill="#a89a93" opacity="0.5"/><circle cx="67.4" cy="21.6" r="0.5" fill="#a89a93" opacity="0.5"/><circle cx="37.3" cy="115.8" r="0.3" fill="#b8aaa3" opacity="0.5"/><circle cx="96.9" cy="19.8" r="0.5" fill="#b8aaa3" opacity="0.3"/><circle cx="59.0" cy="86.1" r="0.5" fill="#b8aaa3" opacity="0.6"/><circle cx="81.7" cy="52.9" r="0.5" fill="#a89a93" opacity="0.5"/><circle cx="67.4" cy="70.6" r="0.3" fill="#b8aaa3" opacity="0.6"/><circle cx="55.4" cy="19.6" r="0.3" fill="#c7b9b2" opacity="0.3"/><circle cx="53.3" cy="58.1" r="0.5" fill="#b8aaa3" opacity="0.5"/><circle cx="92.0" cy="118.7" r="0.3" fill="#b8aaa3" opacity="0.5"/><circle cx="44.6" cy="38.6" r="0.5" fill="#a89a93" opacity="0.3"/><circle cx="103.0" cy="106.4" r="0.3" fill="#b8aaa3" opacity="0.4"/><circle cx="54.8" cy="38.1" r="0.4" fill="#b8aaa3" opacity="0.3"/><circle cx="85.0" cy="22.0" r="0.5" fill="#c7b9b2" opacity="0.4"/><circle cx="98.3" cy="53.3" r="0.5" fill="#c7b9b2" opacity="0.6"/><circle cx="109.7" cy="63.8" r="0.3" fill="#a89a93" opacity="0.4"/><circle cx="113.6" cy="53.8" r="0.5" fill="#c7b9b2" opacity="0.6"/><circle cx="88.8" cy="8.3" r="0.3" fill="#a89a93" opacity="0.3"/><circle cx="48.8" cy="49.0" r="0.4" fill="#a89a93" opacity="0.3"/><circle cx="103.1" cy="72.2" r="0.4" fill="#a89a93" opacity="0.5"/><circle cx="39.3" cy="76.7" r="0.4" fill="#c7b9b2" opacity="0.4"/><circle cx="65.6" cy="97.2" r="0.5" fill="#b8aaa3" opacity="0.5"/><circle cx="67.7" cy="60.3" r="0.3" fill="#b8aaa3" opacity="0.5"/><circle cx="115.8" cy="43.7" r="0.3" fill="#b8aaa3" opacity="0.3"/><circle cx="81.2" cy="78.8" r="0.4" fill="#a89a93" opacity="0.4"/><circle cx="55.3" cy="64.2" r="0.5" fill="#b8aaa3" opacity="0.3"/><circle cx="116.3" cy="32.8" r="0.5" fill="#b8aaa3" opacity="0.6"/><circle cx="54.1" cy="124.6" r="0.5" fill="#b8aaa3" opacity="0.5"/><circle cx="84.4" cy="13.2" r="0.4" fill="#a89a93" opacity="0.5"/><circle cx="92.8" cy="120.7" r="0.5" fill="#a89a93" opacity="0.3"/><circle cx="29.2" cy="13.8" r="0.4" fill="#a89a93" opacity="0.6"/><circle cx="124.8" cy="66.1" r="0.3" fill="#a89a93" opacity="0.4"/><circle cx="118.8" cy="91.1" r="0.4" fill="#b8aaa3" opacity="0.3"/><circle cx="79.2" cy="103.6" r="0.5" fill="#c7b9b2" opacity="0.6"/><circle cx="57.9" cy="114.4" r="0.5" fill="#c7b9b2" opacity="0.3"/><circle cx="93.1" cy="64.2" r="0.4" fill="#b8aaa3" opacity="0.4"/><circle cx="45.2" cy="35.5" r="0.5" fill="#c7b9b2" opacity="0.3"/><circle cx="5.6" cy="80.7" r="0.5" fill="#a89a93" opacity="0.6"/><circle cx="79.7" cy="27.6" r="0.5" fill="#b8aaa3" opacity="0.5"/><circle cx="88.4" cy="7.6" r="0.4" fill="#c7b9b2" opacity="0.4"/><circle cx="65.1" cy="5.8" r="0.5" fill="#a89a93" opacity="0.6"/><circle cx="76.9" cy="42.4" r="0.5" fill="#b8aaa3" opacity="0.5"/><circle cx="56.4" cy="117.2" r="0.4" fill="#c7b9b2" opacity="0.5"/><circle cx="116.3" cy="75.5" r="0.5" fill="#b8aaa3" opacity="0.3"/><circle cx="80.4" cy="120.3" r="0.5" fill="#c7b9b2" opacity="0.4"/><circle cx="77.9" cy="43.6" r="0.5" fill="#a89a93" opacity="0.3"/><circle cx="22.3" cy="84.2" r="0.5" fill="#b8aaa3" opacity="0.4"/><circle cx="66.6" cy="115.2" r="0.5" fill="#b8aaa3" opacity="0.5"/><circle cx="92.2" cy="54.1" r="0.4" fill="#a89a93" opacity="0.5"/><circle cx="12.6" cy="81.5" r="0.3" fill="#c7b9b2" opacity="0.4"/><circle cx="15.0" cy="56.1" r="0.4" fill="#c7b9b2" opacity="0.3"/><circle cx="9.3" cy="79.0" r="0.3" fill="#b8aaa3" opacity="0.4"/><circle cx="115.2" cy="46.6" r="0.5" fill="#a89a93" opacity="0.3"/><circle cx="36.9" cy="113.3" r="0.4" fill="#a89a93" opacity="0.3"/><circle cx="77.8" cy="31.5" r="0.4" fill="#a89a93" opacity="0.5"/><circle cx="93.9" cy="78.0" r="0.4" fill="#c7b9b2" opacity="0.5"/><circle cx="118.5" cy="84.1" r="0.3" fill="#a89a93" opacity="0.3"/><circle cx="60.4" cy="70.7" r="0.5" fill="#c7b9b2" opacity="0.5"/><circle cx="51.5" cy="18.4" r="0.4" fill="#c7b9b2" opacity="0.3"/><circle cx="44.8" cy="63.1" r="0.5" fill="#c7b9b2" opacity="0.4"/><circle cx="55.7" cy="13.9" r="0.4" fill="#b8aaa3" opacity="0.4"/><circle cx="123.2" cy="66.4" r="0.5" fill="#a89a93" opacity="0.5"/><circle cx="114.7" cy="101.4" r="0.4" fill="#c7b9b2" opacity="0.6"/><circle cx="54.4" cy="119.0" r="0.5" fill="#c7b9b2" opacity="0.3"/><circle cx="114.3" cy="62.9" r="0.4" fill="#b8aaa3" opacity="0.6"/><circle cx="115.1" cy="97.8" r="0.4" fill="#c7b9b2" opacity="0.3"/><circle cx="35.4" cy="109.8" r="0.3" fill="#a89a93" opacity="0.5"/><circle cx="63.4" cy="109.2" r="0.4" fill="#a89a93" opacity="0.3"/><circle cx="23.5" cy="46.7" r="0.4" fill="#a89a93" opacity="0.4"/><circle cx="72.0" cy="48.2" r="0.3" fill="#a89a93" opacity="0.3"/><circle cx="46.2" cy="104.7" r="0.5" fill="#a89a93" opacity="0.3"/><circle cx="28.8" cy="87.1" r="0.5" fill="#c7b9b2" opacity="0.6"/><circle cx="108.8" cy="62.0" r="0.4" fill="#a89a93" opacity="0.4"/><circle cx="17.1" cy="91.1" r="0.4" fill="#b8aaa3" opacity="0.3"/><circle cx="81.2" cy="37.1" r="0.3" fill="#b8aaa3" opacity="0.5"/><circle cx="72.1" cy="26.0" r="0.3" fill="#a89a93" opacity="0.4"/><circle cx="16.0" cy="63.2" r="0.4" fill="#b8aaa3" opacity="0.3"/><circle cx="68.6" cy="61.2" r="0.3" fill="#b8aaa3" opacity="0.4"/><circle cx="60.3" cy="92.2" r="0.5" fill="#c7b9b2" opacity="0.6"/><circle cx="57.1" cy="60.3" r="0.3" fill="#c7b9b2" opacity="0.5"/><circle cx="48.0" cy="81.2" r="0.3" fill="#c7b9b2" opacity="0.6"/><circle cx="46.0" cy="28.9" r="0.4" fill="#b8aaa3" opacity="0.3"/><circle cx="114.7" cy="48.2" r="0.5" fill="#c7b9b2" opacity="0.4"/><circle cx="49.7" cy="10.3" r="0.5" fill="#c7b9b2" opacity="0.4"/><circle cx="25.8" cy="23.3" r="0.5" fill="#b8aaa3" opacity="0.5"/><circle cx="106.0" cy="17.7" r="0.4" fill="#c7b9b2" opacity="0.4"/><circle cx="95.0" cy="46.1" r="0.4" fill="#a89a93" opacity="0.4"/><circle cx="115.1" cy="93.9" r="0.5" fill="#b8aaa3" opacity="0.4"/><circle cx="75.5" cy="37.0" r="0.3" fill="#a89a93" opacity="0.3"/><circle cx="19.2" cy="64.9" r="0.4" fill="#b8aaa3" opacity="0.5"/><circle cx="69.6" cy="99.5" r="0.4" fill="#c7b9b2" opacity="0.4"/><circle cx="49.5" cy="22.7" r="0.4" fill="#b8aaa3" opacity="0.4"/><circle cx="105.4" cy="72.4" r="0.4" fill="#b8aaa3" opacity="0.6"/><circle cx="69.2" cy="100.7" r="0.4" fill="#c7b9b2" opacity="0.3"/><circle cx="57.0" cy="115.0" r="0.5" fill="#a89a93" opacity="0.5"/><circle cx="85.7" cy="97.5" r="0.5" fill="#a89a93" opacity="0.6"/><circle cx="37.9" cy="53.9" r="0.4" fill="#c7b9b2" opacity="0.4"/><circle cx="81.5" cy="15.8" r="0.5" fill="#c7b9b2" opacity="0.5"/><circle cx="115.0" cy="57.8" r="0.3" fill="#a89a93" opacity="0.4"/><circle cx="56.6" cy="5.5" r="0.4" fill="#a89a93" opacity="0.3"/><circle cx="111.9" cy="68.5" r="0.4" fill="#c7b9b2" opacity="0.3"/><circle cx="36.2" cy="46.1" r="0.4" fill="#b8aaa3" opacity="0.5"/><circle cx="29.3" cy="27.1" r="0.4" fill="#c7b9b2" opacity="0.6"/><circle cx="97.4" cy="43.3" r="0.5" fill="#b8aaa3" opacity="0.3"/><circle cx="86.4" cy="84.7" r="0.3" fill="#c7b9b2" opacity="0.3"/><circle cx="62.9" cy="84.6" r="0.5" fill="#b8aaa3" opacity="0.5"/><circle cx="81.1" cy="109.8" r="0.3" fill="#c7b9b2" opacity="0.5"/><circle cx="69.9" cy="88.0" r="0.4" fill="#c7b9b2" opacity="0.6"/><circle cx="78.1" cy="100.5" r="0.4" fill="#c7b9b2" opacity="0.6"/><circle cx="17.5" cy="81.6" r="0.4" fill="#a89a93" opacity="0.5"/><circle cx="111.0" cy="72.9" r="0.4" fill="#b8aaa3" opacity="0.3"/><circle cx="75.0" cy="119.4" r="0.5" fill="#c7b9b2" opacity="0.3"/><circle cx="63.7" cy="68.7" r="0.4" fill="#a89a93" opacity="0.4"/><circle cx="87.4" cy="92.2" r="0.4" fill="#a89a93" opacity="0.3"/><circle cx="92.4" cy="102.0" r="0.5" fill="#a89a93" opacity="0.4"/><circle cx="46.8" cy="5.6" r="0.5" fill="#a89a93" opacity="0.3"/><circle cx="21.6" cy="65.6" r="0.3" fill="#a89a93" opacity="0.5"/><circle cx="118.8" cy="57.4" r="0.4" fill="#a89a93" opacity="0.5"/><circle cx="25.3" cy="37.2" r="0.5" fill="#a89a93" opacity="0.4"/><circle cx="30.3" cy="44.0" r="0.5" fill="#b8aaa3" opacity="0.6"/><circle cx="41.2" cy="60.6" r="0.5" fill="#b8aaa3" opacity="0.5"/><circle cx="76.2" cy="73.6" r="0.3" fill="#a89a93" opacity="0.5"/><circle cx="83.3" cy="99.3" r="0.5" fill="#b8aaa3" opacity="0.4"/><circle cx="43.2" cy="48.9" r="0.4" fill="#b8aaa3" opacity="0.3"/><circle cx="76.3" cy="92.1" r="0.3" fill="#c7b9b2" opacity="0.3"/><circle cx="66.0" cy="78.0" r="0.5" fill="#a89a93" opacity="0.4"/><circle cx="58.8" cy="75.9" r="0.5" fill="#b8aaa3" opacity="0.3"/><circle cx="69.3" cy="119.1" r="0.5" fill="#c7b9b2" opacity="0.3"/><circle cx="30.4" cy="63.5" r="0.4" fill="#b8aaa3" opacity="0.3"/><circle cx="48.9" cy="57.2" r="0.3" fill="#a89a93" opacity="0.3"/><circle cx="37.7" cy="77.4" r="0.4" fill="#a89a93" opacity="0.4"/><circle cx="67.5" cy="121.3" r="0.5" fill="#a89a93" opacity="0.4"/><circle cx="66.6" cy="75.1" r="0.4" fill="#c7b9b2" opacity="0.5"/><circle cx="10.4" cy="72.9" r="0.3" fill="#a89a93" opacity="0.4"/><circle cx="116.0" cy="37.8" r="0.4" fill="#b8aaa3" opacity="0.3"/><circle cx="99.9" cy="17.3" r="0.5" fill="#c7b9b2" opacity="0.3"/><circle cx="70.6" cy="37.0" r="0.5" fill="#c7b9b2" opacity="0.5"/><circle cx="99.5" cy="13.1" r="0.5" fill="#b8aaa3" opacity="0.3"/><circle cx="76.5" cy="76.1" r="0.4" fill="#b8aaa3" opacity="0.3"/><circle cx="89.5" cy="41.7" r="0.3" fill="#b8aaa3" opacity="0.4"/><circle cx="78.7" cy="32.7" r="0.5" fill="#b8aaa3" opacity="0.5"/><circle cx="79.2" cy="59.2" r="0.5" fill="#c7b9b2" opacity="0.5"/><circle cx="46.3" cy="12.8" r="0.3" fill="#a89a93" opacity="0.4"/><circle cx="118.1" cy="94.4" r="0.4" fill="#b8aaa3" opacity="0.3"/><circle cx="41.0" cy="101.4" r="0.3" fill="#b8aaa3" opacity="0.5"/><circle cx="29.6" cy="107.1" r="0.4" fill="#b8aaa3" opacity="0.5"/><circle cx="117.8" cy="59.5" r="0.4" fill="#c7b9b2" opacity="0.3"/><circle cx="60.3" cy="116.3" r="0.3" fill="#c7b9b2" opacity="0.3"/><circle cx="24.0" cy="101.1" r="0.5" fill="#a89a93" opacity="0.5"/><circle cx="13.4" cy="98.8" r="0.3" fill="#c7b9b2" opacity="0.3"/><circle cx="52.0" cy="75.2" r="0.5" fill="#a89a93" opacity="0.5"/><circle cx="61.7" cy="41.8" r="0.5" fill="#b8aaa3" opacity="0.6"/><circle cx="34.8" cy="53.8" r="0.4" fill="#c7b9b2" opacity="0.5"/><circle cx="27.2" cy="26.2" r="0.3" fill="#b8aaa3" opacity="0.3"/><circle cx="102.4" cy="103.5" r="0.5" fill="#b8aaa3" opacity="0.5"/><circle cx="13.5" cy="49.3" r="0.5" fill="#a89a93" opacity="0.5"/><circle cx="35.6" cy="30.2" r="0.5" fill="#a89a93" opacity="0.4"/><circle cx="73.3" cy="42.2" r="0.4" fill="#c7b9b2" opacity="0.3"/><circle cx="99.1" cy="37.3" r="0.5" fill="#b8aaa3" opacity="0.4"/><circle cx="65.1" cy="98.0" r="0.3" fill="#b8aaa3" opacity="0.4"/><circle cx="26.6" cy="59.7" r="0.4" fill="#a89a93" opacity="0.5"/><circle cx="114.4" cy="69.4" r="0.5" fill="#b8aaa3" opacity="0.3"/><circle cx="102.9" cy="78.7" r="0.4" fill="#a89a93" opacity="0.3"/><circle cx="102.0" cy="99.7" r="0.3" fill="#a89a93" opacity="0.5"/><circle cx="41.1" cy="72.5" r="0.4" fill="#a89a93" opacity="0.4"/><circle cx="75.0" cy="30.6" r="0.3" fill="#a89a93" opacity="0.5"/><circle cx="53.4" cy="73.3" r="0.5" fill="#c7b9b2" opacity="0.4"/><circle cx="55.0" cy="25.5" r="0.4" fill="#c7b9b2" opacity="0.5"/><circle cx="118.4" cy="93.7" r="0.3" fill="#a89a93" opacity="0.4"/><circle cx="50.1" cy="59.2" r="0.4" fill="#c7b9b2" opacity="0.5"/><circle cx="43.7" cy="69.7" r="0.4" fill="#a89a93" opacity="0.5"/><circle cx="121.6" cy="53.1" r="0.4" fill="#a89a93" opacity="0.4"/><circle cx="102.4" cy="33.2" r="0.5" fill="#a89a93" opacity="0.4"/><circle cx="114.9" cy="60.8" r="0.3" fill="#b8aaa3" opacity="0.6"/><circle cx="40.3" cy="79.5" r="0.3" fill="#c7b9b2" opacity="0.5"/><circle cx="52.3" cy="122.1" r="0.4" fill="#c7b9b2" opacity="0.4"/><circle cx="110.9" cy="67.5" r="0.5" fill="#b8aaa3" opacity="0.4"/><circle cx="85.2" cy="18.3" r="0.4" fill="#a89a93" opacity="0.6"/><circle cx="24.5" cy="30.0" r="0.3" fill="#c7b9b2" opacity="0.6"/><circle cx="93.4" cy="103.9" r="0.3" fill="#a89a93" opacity="0.6"/><circle cx="112.1" cy="35.9" r="0.4" fill="#a89a93" opacity="0.4"/><circle cx="55.2" cy="94.7" r="0.5" fill="#c7b9b2" opacity="0.4"/><circle cx="78.4" cy="66.2" r="0.4" fill="#c7b9b2" opacity="0.5"/><circle cx="50.3" cy="116.2" r="0.5" fill="#c7b9b2" opacity="0.5"/><circle cx="67.6" cy="35.5" r="0.5" fill="#a89a93" opacity="0.3"/><circle cx="18.5" cy="56.8" r="0.5" fill="#b8aaa3" opacity="0.3"/><circle cx="94.5" cy="29.3" r="0.3" fill="#b8aaa3" opacity="0.6"/><circle cx="27.3" cy="81.8" r="0.4" fill="#b8aaa3" opacity="0.5"/><circle cx="63.4" cy="46.8" r="0.3" fill="#b8aaa3" opacity="0.3"/><circle cx="58.8" cy="47.6" r="0.4" fill="#a89a93" opacity="0.5"/><circle cx="41.3" cy="14.6" r="0.5" fill="#c7b9b2" opacity="0.4"/><circle cx="18.3" cy="71.9" r="0.4" fill="#a89a93" opacity="0.3"/><circle cx="124.1" cy="70.4" r="0.4" fill="#b8aaa3" opacity="0.5"/><circle cx="24.9" cy="95.6" r="0.4" fill="#a89a93" opacity="0.6"/><circle cx="77.2" cy="27.5" r="0.3" fill="#c7b9b2" opacity="0.3"/><circle cx="35.3" cy="88.4" r="0.5" fill="#c7b9b2" opacity="0.4"/><circle cx="68.7" cy="12.3" r="0.5" fill="#a89a93" opacity="0.3"/><circle cx="53.7" cy="58.0" r="0.5" fill="#b8aaa3" opacity="0.3"/><circle cx="27.9" cy="43.6" r="0.4" fill="#b8aaa3" opacity="0.6"/><circle cx="35.2" cy="45.6" r="0.4" fill="#c7b9b2" opacity="0.5"/><circle cx="37.6" cy="60.8" r="0.4" fill="#c7b9b2" opacity="0.3"/><circle cx="96.3" cy="20.3" r="0.5" fill="#c7b9b2" opacity="0.5"/><circle cx="52.8" cy="18.6" r="0.5" fill="#a89a93" opacity="0.3"/><circle cx="46.4" cy="98.6" r="0.4" fill="#a89a93" opacity="0.6"/><circle cx="90.3" cy="20.6" r="0.5" fill="#c7b9b2" opacity="0.3"/><circle cx="21.3" cy="20.4" r="0.3" fill="#c7b9b2" opacity="0.5"/><circle cx="109.3" cy="105.8" r="0.4" fill="#a89a93" opacity="0.4"/><circle cx="36.9" cy="28.0" r="0.3" fill="#a89a93" opacity="0.3"/><circle cx="113.8" cy="76.1" r="0.5" fill="#a89a93" opacity="0.3"/><circle cx="93.5" cy="65.5" r="0.3" fill="#b8aaa3" opacity="0.4"/><circle cx="53.8" cy="79.4" r="0.5" fill="#a89a93" opacity="0.3"/><circle cx="20.6" cy="94.8" r="0.4" fill="#a89a93" opacity="0.4"/><circle cx="84.8" cy="96.6" r="0.4" fill="#c7b9b2" opacity="0.6"/><circle cx="69.8" cy="38.4" r="0.5" fill="#c7b9b2" opacity="0.5"/><circle cx="120.6" cy="54.8" r="0.4" fill="#a89a93" opacity="0.4"/><circle cx="80.4" cy="119.5" r="0.3" fill="#c7b9b2" opacity="0.4"/><circle cx="82.3" cy="56.1" r="0.3" fill="#b8aaa3" opacity="0.5"/><circle cx="88.0" cy="95.5" r="0.3" fill="#b8aaa3" opacity="0.4"/><circle cx="57.1" cy="95.5" r="0.5" fill="#b8aaa3" opacity="0.6"/><circle cx="64.5" cy="113.9" r="0.5" fill="#a89a93" opacity="0.4"/><circle cx="84.0" cy="101.9" r="0.3" fill="#b8aaa3" opacity="0.3"/><circle cx="12.9" cy="85.5" r="0.4" fill="#b8aaa3" opacity="0.5"/><circle cx="113.7" cy="63.3" r="0.4" fill="#c7b9b2" opacity="0.3"/><circle cx="8.1" cy="57.0" r="0.4" fill="#b8aaa3" opacity="0.6"/><circle cx="37.7" cy="101.7" r="0.4" fill="#b8aaa3" opacity="0.6"/><circle cx="89.4" cy="87.9" r="0.5" fill="#b8aaa3" opacity="0.3"/><circle cx="60.8" cy="93.4" r="0.5" fill="#c7b9b2" opacity="0.5"/><circle cx="14.3" cy="59.7" r="0.5" fill="#c7b9b2" opacity="0.5"/><circle cx="43.8" cy="40.6" r="0.3" fill="#c7b9b2" opacity="0.3"/><circle cx="63.6" cy="75.7" r="0.5" fill="#c7b9b2" opacity="0.3"/><circle cx="96.7" cy="35.4" r="0.5" fill="#a89a93" opacity="0.5"/><circle cx="104.9" cy="63.3" r="0.3" fill="#b8aaa3" opacity="0.6"/><circle cx="34.9" cy="83.6" r="0.4" fill="#c7b9b2" opacity="0.4"/><circle cx="89.9" cy="88.7" r="0.3" fill="#a89a93" opacity="0.5"/><circle cx="102.5" cy="48.2" r="0.3" fill="#b8aaa3" opacity="0.4"/><circle cx="27.1" cy="71.6" r="0.4" fill="#a89a93" opacity="0.5"/><circle cx="10.3" cy="91.0" r="0.3" fill="#b8aaa3" opacity="0.4"/><circle cx="82.2" cy="39.4" r="0.4" fill="#c7b9b2" opacity="0.5"/><circle cx="94.5" cy="29.8" r="0.5" fill="#a89a93" opacity="0.3"/><circle cx="120.2" cy="52.8" r="0.4" fill="#a89a93" opacity="0.6"/><circle cx="119.7" cy="47.5" r="0.4" fill="#b8aaa3" opacity="0.3"/><circle cx="54.0" cy="32.5" r="0.3" fill="#b8aaa3" opacity="0.4"/><circle cx="100.8" cy="85.3" r="0.5" fill="#a89a93" opacity="0.5"/><circle cx="91.2" cy="102.6" r="0.5" fill="#b8aaa3" opacity="0.4"/><circle cx="29.7" cy="42.4" r="0.5" fill="#a89a93" opacity="0.5"/><circle cx="38.3" cy="58.5" r="0.4" fill="#b8aaa3" opacity="0.3"/><circle cx="47.0" cy="99.0" r="0.5" fill="#c7b9b2" opacity="0.4"/><circle cx="16.8" cy="67.6" r="0.5" fill="#b8aaa3" opacity="0.4"/><circle cx="31.7" cy="81.2" r="0.5" fill="#a89a93" opacity="0.3"/><circle cx="81.7" cy="41.1" r="0.5" fill="#c7b9b2" opacity="0.4"/><circle cx="41.6" cy="15.6" r="0.5" fill="#c7b9b2" opacity="0.5"/><circle cx="56.6" cy="100.7" r="0.4" fill="#c7b9b2" opacity="0.3"/><circle cx="75.2" cy="25.2" r="0.5" fill="#b8aaa3" opacity="0.5"/><circle cx="76.1" cy="103.5" r="0.5" fill="#a89a93" opacity="0.3"/><circle cx="12.3" cy="67.1" r="0.4" fill="#c7b9b2" opacity="0.6"/><circle cx="70.2" cy="10.9" r="0.3" fill="#b8aaa3" opacity="0.4"/><circle cx="107.4" cy="23.0" r="0.5" fill="#b8aaa3" opacity="0.5"/><circle cx="75.5" cy="12.7" r="0.4" fill="#a89a93" opacity="0.5"/><circle cx="96.2" cy="110.8" r="0.5" fill="#c7b9b2" opacity="0.5"/><circle cx="43.7" cy="43.0" r="0.5" fill="#c7b9b2" opacity="0.5"/><circle cx="110.7" cy="23.6" r="0.5" fill="#c7b9b2" opacity="0.5"/><circle cx="82.0" cy="20.6" r="0.4" fill="#b8aaa3" opacity="0.3"/><circle cx="21.0" cy="100.5" r="0.5" fill="#a89a93" opacity="0.3"/><circle cx="83.2" cy="94.8" r="0.4" fill="#c7b9b2" opacity="0.5"/><circle cx="69.5" cy="103.5" r="0.4" fill="#a89a93" opacity="0.3"/><circle cx="88.3" cy="54.9" r="0.4" fill="#c7b9b2" opacity="0.4"/><circle cx="67.1" cy="68.6" r="0.3" fill="#c7b9b2" opacity="0.3"/><circle cx="80.8" cy="43.5" r="0.5" fill="#b8aaa3" opacity="0.5"/><circle cx="79.8" cy="77.0" r="0.5" fill="#a89a93" opacity="0.4"/><circle cx="67.2" cy="127.2" r="0.4" fill="#a89a93" opacity="0.4"/><circle cx="39.9" cy="80.2" r="0.5" fill="#b8aaa3" opacity="0.5"/><circle cx="124.5" cy="44.8" r="0.3" fill="#c7b9b2" opacity="0.4"/><circle cx="22.5" cy="66.4" r="0.3" fill="#c7b9b2" opacity="0.3"/><circle cx="76.0" cy="99.3" r="0.5" fill="#b8aaa3" opacity="0.5"/><circle cx="88.1" cy="25.3" r="0.5" fill="#c7b9b2" opacity="0.4"/><circle cx="53.2" cy="22.4" r="0.3" fill="#b8aaa3" opacity="0.3"/><circle cx="112.8" cy="49.9" r="0.3" fill="#c7b9b2" opacity="0.6"/><circle cx="41.9" cy="92.4" r="0.4" fill="#c7b9b2" opacity="0.5"/><circle cx="24.2" cy="33.4" r="0.4" fill="#c7b9b2" opacity="0.3"/><circle cx="59.8" cy="14.5" r="0.5" fill="#c7b9b2" opacity="0.3"/><circle cx="96.9" cy="51.0" r="0.4" fill="#c7b9b2" opacity="0.6"/><circle cx="114.7" cy="62.0" r="0.3" fill="#c7b9b2" opacity="0.6"/><circle cx="38.5" cy="82.2" r="0.4" fill="#b8aaa3" opacity="0.3"/><circle cx="39.3" cy="47.3" r="0.5" fill="#c7b9b2" opacity="0.4"/><circle cx="29.0" cy="98.7" r="0.4" fill="#b8aaa3" opacity="0.5"/><circle cx="8.1" cy="55.5" r="0.4" fill="#a89a93" opacity="0.3"/><circle cx="96.3" cy="84.1" r="0.4" fill="#a89a93" opacity="0.3"/><circle cx="32.1" cy="74.2" r="0.4" fill="#a89a93" opacity="0.3"/><circle cx="76.0" cy="16.5" r="0.5" fill="#c7b9b2" opacity="0.3"/><circle cx="62.6" cy="13.4" r="0.4" fill="#c7b9b2" opacity="0.5"/><circle cx="59.0" cy="49.7" r="0.4" fill="#b8aaa3" opacity="0.5"/><circle cx="15.8" cy="96.8" r="0.3" fill="#c7b9b2" opacity="0.4"/><circle cx="29.5" cy="84.4" r="0.3" fill="#a89a93" opacity="0.6"/><circle cx="62.7" cy="76.6" r="0.5" fill="#c7b9b2" opacity="0.6"/><circle cx="9.3" cy="50.5" r="0.4" fill="#b8aaa3" opacity="0.6"/><circle cx="26.7" cy="114.7" r="0.3" fill="#a89a93" opacity="0.5"/><circle cx="47.8" cy="23.6" r="0.4" fill="#c7b9b2" opacity="0.4"/><circle cx="123.8" cy="52.6" r="0.4" fill="#b8aaa3" opacity="0.3"/><circle cx="54.6" cy="113.0" r="0.4" fill="#c7b9b2" opacity="0.4"/><circle cx="52.2" cy="47.9" r="0.4" fill="#c7b9b2" opacity="0.4"/><circle cx="13.3" cy="62.6" r="0.3" fill="#b8aaa3" opacity="0.5"/><circle cx="28.9" cy="30.2" r="0.3" fill="#c7b9b2" opacity="0.3"/><circle cx="51.7" cy="120.5" r="0.5" fill="#a89a93" opacity="0.3"/><circle cx="90.4" cy="110.0" r="0.5" fill="#b8aaa3" opacity="0.3"/><circle cx="102.3" cy="62.5" r="0.4" fill="#b8aaa3" opacity="0.3"/><circle cx="83.3" cy="5.9" r="0.3" fill="#b8aaa3" opacity="0.5"/><circle cx="72.5" cy="54.5" r="0.4" fill="#b8aaa3" opacity="0.4"/><circle cx="29.7" cy="47.6" r="0.5" fill="#b8aaa3" opacity="0.4"/><circle cx="116.6" cy="78.1" r="0.4" fill="#a89a93" opacity="0.4"/><circle cx="109.1" cy="65.1" r="0.5" fill="#b8aaa3" opacity="0.4"/><circle cx="80.0" cy="26.2" r="0.5" fill="#b8aaa3" opacity="0.5"/><circle cx="111.4" cy="91.1" r="0.5" fill="#a89a93" opacity="0.5"/><circle cx="104.4" cy="34.7" r="0.4" fill="#b8aaa3" opacity="0.4"/><circle cx="65.9" cy="119.6" r="0.5" fill="#a89a93" opacity="0.5"/><circle cx="69.2" cy="44.4" r="0.3" fill="#a89a93" opacity="0.5"/><circle cx="23.2" cy="23.8" r="0.5" fill="#b8aaa3" opacity="0.4"/><circle cx="56.3" cy="16.8" r="0.4" fill="#b8aaa3" opacity="0.6"/><circle cx="96.6" cy="68.1" r="0.3" fill="#b8aaa3" opacity="0.5"/><circle cx="47.0" cy="38.8" r="0.3" fill="#c7b9b2" opacity="0.5"/><circle cx="117.9" cy="78.7" r="0.4" fill="#b8aaa3" opacity="0.3"/><circle cx="109.9" cy="109.2" r="0.4" fill="#b8aaa3" opacity="0.3"/><circle cx="96.0" cy="94.6" r="0.5" fill="#b8aaa3" opacity="0.5"/><circle cx="60.0" cy="38.0" r="0.4" fill="#a89a93" opacity="0.3"/><circle cx="52.1" cy="20.6" r="0.3" fill="#c7b9b2" opacity="0.5"/><circle cx="76.8" cy="32.7" r="0.5" fill="#c7b9b2" opacity="0.5"/><circle cx="56.0" cy="44.1" r="0.3" fill="#c7b9b2" opacity="0.4"/><circle cx="22.8" cy="65.2" r="0.3" fill="#c7b9b2" opacity="0.6"/><circle cx="97.8" cy="20.7" r="0.4" fill="#a89a93" opacity="0.4"/><circle cx="41.6" cy="33.3" r="0.5" fill="#a89a93" opacity="0.4"/><circle cx="84.0" cy="19.1" r="0.5" fill="#b8aaa3" opacity="0.5"/><circle cx="71.1" cy="60.9" r="0.5" fill="#c7b9b2" opacity="0.5"/><circle cx="45.8" cy="53.2" r="0.4" fill="#a89a93" opacity="0.4"/><circle cx="101.9" cy="66.9" r="0.3" fill="#b8aaa3" opacity="0.3"/><circle cx="54.9" cy="10.9" r="0.5" fill="#a89a93" opacity="0.5"/><circle cx="19.8" cy="92.0" r="0.3" fill="#a89a93" opacity="0.5"/><circle cx="58.8" cy="105.2" r="0.5" fill="#a89a93" opacity="0.5"/><circle cx="31.9" cy="53.3" r="0.4" fill="#c7b9b2" opacity="0.4"/><circle cx="97.8" cy="81.7" r="0.5" fill="#b8aaa3" opacity="0.4"/><circle cx="106.4" cy="73.3" r="0.3" fill="#b8aaa3" opacity="0.3"/><circle cx="82.7" cy="74.7" r="0.3" fill="#b8aaa3" opacity="0.4"/><circle cx="8.4" cy="61.4" r="0.4" fill="#c7b9b2" opacity="0.4"/><circle cx="29.3" cy="94.5" r="0.4" fill="#a89a93" opacity="0.5"/><circle cx="27.1" cy="66.4" r="0.3" fill="#c7b9b2" opacity="0.4"/><circle cx="95.1" cy="68.7" r="0.4" fill="#c7b9b2" opacity="0.4"/><circle cx="41.6" cy="16.6" r="0.4" fill="#a89a93" opacity="0.3"/><circle cx="80.7" cy="68.7" r="0.4" fill="#b8aaa3" opacity="0.3"/><circle cx="29.3" cy="22.0" r="0.3" fill="#a89a93" opacity="0.4"/><circle cx="84.2" cy="102.1" r="0.3" fill="#c7b9b2" opacity="0.3"/><circle cx="48.5" cy="93.3" r="0.5" fill="#a89a93" opacity="0.3"/><circle cx="83.9" cy="92.9" r="0.5" fill="#a89a93" opacity="0.4"/><circle cx="108.4" cy="72.1" r="0.5" fill="#b8aaa3" opacity="0.3"/><circle cx="26.3" cy="81.4" r="0.3" fill="#b8aaa3" opacity="0.3"/><circle cx="31.9" cy="58.1" r="0.4" fill="#a89a93" opacity="0.4"/><circle cx="82.3" cy="115.8" r="0.5" fill="#b8aaa3" opacity="0.6"/><circle cx="61.7" cy="68.9" r="0.3" fill="#c7b9b2" opacity="0.5"/><circle cx="23.0" cy="27.5" r="0.4" fill="#b8aaa3" opacity="0.3"/><circle cx="43.0" cy="11.2" r="0.4" fill="#c7b9b2" opacity="0.4"/><circle cx="32.9" cy="95.2" r="0.4" fill="#c7b9b2" opacity="0.5"/><circle cx="47.4" cy="46.1" r="0.5" fill="#a89a93" opacity="0.4"/><circle cx="81.5" cy="23.4" r="0.5" fill="#a89a93" opacity="0.6"/><circle cx="84.9" cy="40.2" r="0.3" fill="#b8aaa3" opacity="0.5"/><circle cx="52.7" cy="103.1" r="0.5" fill="#b8aaa3" opacity="0.5"/><circle cx="70.0" cy="35.0" r="0.4" fill="#b8aaa3" opacity="0.4"/><circle cx="92.5" cy="103.1" r="0.4" fill="#a89a93" opacity="0.3"/><circle cx="99.8" cy="13.6" r="0.3" fill="#a89a93" opacity="0.6"/><circle cx="71.4" cy="120.9" r="0.5" fill="#a89a93" opacity="0.6"/><circle cx="13.8" cy="75.4" r="0.3" fill="#c7b9b2" opacity="0.3"/><circle cx="42.8" cy="102.7" r="0.4" fill="#c7b9b2" opacity="0.4"/><circle cx="63.3" cy="114.7" r="0.5" fill="#c7b9b2" opacity="0.6"/><circle cx="102.5" cy="19.1" r="0.4" fill="#a89a93" opacity="0.4"/><circle cx="64.5" cy="2.9" r="0.4" fill="#c7b9b2" opacity="0.6"/><circle cx="60.5" cy="95.4" r="0.3" fill="#b8aaa3" opacity="0.3"/><circle cx="77.7" cy="95.7" r="0.5" fill="#c7b9b2" opacity="0.3"/><circle cx="74.5" cy="88.2" r="0.3" fill="#b8aaa3" opacity="0.4"/><circle cx="113.3" cy="65.4" r="0.4" fill="#a89a93" opacity="0.5"/><circle cx="101.4" cy="59.3" r="0.4" fill="#b8aaa3" opacity="0.4"/><circle cx="99.3" cy="46.6" r="0.4" fill="#c7b9b2" opacity="0.5"/><circle cx="24.9" cy="73.8" r="0.3" fill="#c7b9b2" opacity="0.4"/><circle cx="110.2" cy="82.5" r="0.5" fill="#a89a93" opacity="0.4"/><circle cx="42.3" cy="56.3" r="0.5" fill="#b8aaa3" opacity="0.5"/><circle cx="75.2" cy="52.5" r="0.5" fill="#c7b9b2" opacity="0.4"/><circle cx="94.4" cy="51.5" r="0.4" fill="#c7b9b2" opacity="0.6"/><circle cx="101.3" cy="44.8" r="0.5" fill="#a89a93" opacity="0.5"/><circle cx="13.0" cy="53.7" r="0.4" fill="#b8aaa3" opacity="0.3"/><circle cx="36.2" cy="80.2" r="0.3" fill="#a89a93" opacity="0.4"/><circle cx="41.0" cy="66.6" r="0.3" fill="#b8aaa3" opacity="0.5"/><circle cx="47.9" cy="113.3" r="0.3" fill="#a89a93" opacity="0.4"/><circle cx="41.9" cy="93.8" r="0.5" fill="#b8aaa3" opacity="0.4"/><circle cx="39.3" cy="86.0" r="0.4" fill="#b8aaa3" opacity="0.5"/><circle cx="94.9" cy="107.6" r="0.4" fill="#b8aaa3" opacity="0.4"/><circle cx="40.8" cy="108.3" r="0.4" fill="#b8aaa3" opacity="0.3"/><circle cx="34.0" cy="40.0" r="0.3" fill="#c7b9b2" opacity="0.4"/><circle cx="102.6" cy="61.1" r="0.5" fill="#c7b9b2" opacity="0.3"/><circle cx="86.2" cy="69.4" r="0.5" fill="#a89a93" opacity="0.5"/><circle cx="43.0" cy="64.0" r="0.5" fill="#b8aaa3" opacity="0.3"/><circle cx="72.4" cy="8.4" r="0.5" fill="#c7b9b2" opacity="0.3"/><circle cx="43.6" cy="50.4" r="0.3" fill="#a89a93" opacity="0.6"/><circle cx="33.8" cy="98.3" r="0.3" fill="#a89a93" opacity="0.4"/><circle cx="52.5" cy="120.6" r="0.5" fill="#a89a93" opacity="0.6"/><circle cx="79.0" cy="74.6" r="0.3" fill="#c7b9b2" opacity="0.5"/><circle cx="46.0" cy="102.9" r="0.3" fill="#c7b9b2" opacity="0.4"/><circle cx="103.8" cy="85.3" r="0.4" fill="#c7b9b2" opacity="0.4"/><circle cx="90.3" cy="64.5" r="0.5" fill="#a89a93" opacity="0.5"/><circle cx="79.3" cy="16.7" r="0.5" fill="#b8aaa3" opacity="0.5"/><circle cx="39.8" cy="116.2" r="0.4" fill="#c7b9b2" opacity="0.3"/><circle cx="118.6" cy="62.4" r="0.4" fill="#c7b9b2" opacity="0.5"/><circle cx="47.7" cy="56.0" r="0.5" fill="#a89a93" opacity="0.5"/><circle cx="62.5" cy="47.6" r="0.4" fill="#c7b9b2" opacity="0.3"/><circle cx="94.5" cy="46.1" r="0.4" fill="#a89a93" opacity="0.5"/><circle cx="89.0" cy="44.0" r="0.3" fill="#a89a93" opacity="0.5"/><circle cx="118.2" cy="80.0" r="0.5" fill="#c7b9b2" opacity="0.5"/><circle cx="32.8" cy="93.7" r="0.4" fill="#c7b9b2" opacity="0.4"/><circle cx="113.6" cy="78.9" r="0.4" fill="#a89a93" opacity="0.3"/><circle cx="56.3" cy="54.3" r="0.4" fill="#a89a93" opacity="0.6"/><circle cx="55.7" cy="17.7" r="0.3" fill="#a89a93" opacity="0.4"/><circle cx="98.1" cy="58.9" r="0.4" fill="#a89a93" opacity="0.6"/><circle cx="104.0" cy="60.5" r="0.3" fill="#c7b9b2" opacity="0.6"/><circle cx="29.2" cy="51.4" r="0.4" fill="#a89a93" opacity="0.6"/><circle cx="48.9" cy="61.6" r="0.4" fill="#c7b9b2" opacity="0.6"/><circle cx="104.8" cy="100.5" r="0.3" fill="#a89a93" opacity="0.5"/><circle cx="21.9" cy="67.5" r="0.5" fill="#a89a93" opacity="0.3"/><circle cx="106.1" cy="36.9" r="0.4" fill="#b8aaa3" opacity="0.4"/><circle cx="17.2" cy="32.0" r="0.5" fill="#c7b9b2" opacity="0.4"/><circle cx="57.1" cy="47.5" r="0.3" fill="#b8aaa3" opacity="0.4"/><circle cx="61.4" cy="34.8" r="0.5" fill="#c7b9b2" opacity="0.3"/><circle cx="27.3" cy="79.8" r="0.3" fill="#c7b9b2" opacity="0.5"/><circle cx="57.6" cy="78.8" r="0.4" fill="#a89a93" opacity="0.6"/><circle cx="83.0" cy="52.7" r="0.3" fill="#c7b9b2" opacity="0.6"/><circle cx="114.5" cy="101.8" r="0.5" fill="#c7b9b2" opacity="0.3"/><circle cx="55.4" cy="93.7" r="0.3" fill="#c7b9b2" opacity="0.3"/><circle cx="55.6" cy="55.4" r="0.4" fill="#a89a93" opacity="0.5"/><circle cx="28.9" cy="87.1" r="0.5" fill="#a89a93" opacity="0.3"/><circle cx="72.1" cy="94.9" r="0.3" fill="#b8aaa3" opacity="0.4"/><circle cx="73.3" cy="116.4" r="0.4" fill="#b8aaa3" opacity="0.5"/><circle cx="15.6" cy="44.8" r="0.5" fill="#c7b9b2" opacity="0.4"/><circle cx="75.5" cy="87.9" r="0.4" fill="#a89a93" opacity="0.4"/><circle cx="93.4" cy="111.1" r="0.3" fill="#c7b9b2" opacity="0.4"/><circle cx="76.2" cy="51.9" r="0.4" fill="#c7b9b2" opacity="0.3"/><circle cx="59.6" cy="25.9" r="0.4" fill="#b8aaa3" opacity="0.3"/><circle cx="78.5" cy="25.3" r="0.4" fill="#c7b9b2" opacity="0.3"/><circle cx="86.9" cy="82.6" r="0.4" fill="#a89a93" opacity="0.6"/><circle cx="94.8" cy="20.2" r="0.5" fill="#a89a93" opacity="0.5"/><circle cx="76.1" cy="22.9" r="0.5" fill="#b8aaa3" opacity="0.5"/><circle cx="122.3" cy="83.9" r="0.3" fill="#a89a93" opacity="0.6"/><circle cx="87.9" cy="123.8" r="0.4" fill="#b8aaa3" opacity="0.6"/><circle cx="40.9" cy="88.2" r="0.5" fill="#b8aaa3" opacity="0.4"/><circle cx="89.5" cy="71.2" r="0.5" fill="#a89a93" opacity="0.3"/><circle cx="69.1" cy="80.0" r="0.5" fill="#a89a93" opacity="0.3"/><circle cx="85.0" cy="89.2" r="0.5" fill="#a89a93" opacity="0.3"/><circle cx="88.0" cy="57.8" r="0.5" fill="#b8aaa3" opacity="0.3"/><circle cx="64.5" cy="93.5" r="0.4" fill="#a89a93" opacity="0.5"/><circle cx="51.3" cy="39.9" r="0.5" fill="#c7b9b2" opacity="0.5"/><circle cx="69.8" cy="121.0" r="0.5" fill="#b8aaa3" opacity="0.5"/><circle cx="7.3" cy="69.0" r="0.4" fill="#c7b9b2" opacity="0.4"/><circle cx="11.6" cy="75.2" r="0.5" fill="#b8aaa3" opacity="0.4"/><circle cx="78.3" cy="52.0" r="0.3" fill="#a89a93" opacity="0.4"/><circle cx="125.5" cy="68.8" r="0.3" fill="#b8aaa3" opacity="0.4"/><circle cx="109.2" cy="97.5" r="0.4" fill="#b8aaa3" opacity="0.5"/><circle cx="124.2" cy="81.4" r="0.3" fill="#a89a93" opacity="0.3"/><circle cx="114.8" cy="92.0" r="0.4" fill="#c7b9b2" opacity="0.3"/><circle cx="111.2" cy="42.2" r="0.4" fill="#c7b9b2" opacity="0.5"/><circle cx="14.2" cy="45.3" r="0.4" fill="#a89a93" opacity="0.4"/><circle cx="123.6" cy="88.0" r="0.5" fill="#a89a93" opacity="0.4"/><circle cx="52.3" cy="44.5" r="0.5" fill="#b8aaa3" opacity="0.4"/><circle cx="11.2" cy="56.9" r="0.4" fill="#c7b9b2" opacity="0.3"/><circle cx="29.2" cy="27.3" r="0.3" fill="#c7b9b2" opacity="0.5"/><circle cx="45.1" cy="27.9" r="0.5" fill="#c7b9b2" opacity="0.5"/><circle cx="102.6" cy="109.4" r="0.4" fill="#b8aaa3" opacity="0.4"/><circle cx="56.8" cy="116.2" r="0.5" fill="#c7b9b2" opacity="0.4"/><circle cx="78.7" cy="9.3" r="0.5" fill="#c7b9b2" opacity="0.5"/><circle cx="93.6" cy="120.2" r="0.3" fill="#b8aaa3" opacity="0.6"/><circle cx="105.5" cy="62.4" r="0.4" fill="#b8aaa3" opacity="0.3"/><circle cx="70.9" cy="68.6" r="0.4" fill="#c7b9b2" opacity="0.3"/><circle cx="54.8" cy="96.0" r="0.4" fill="#b8aaa3" opacity="0.3"/><circle cx="7.7" cy="43.9" r="0.4" fill="#c7b9b2" opacity="0.4"/><circle cx="97.8" cy="95.0" r="0.5" fill="#b8aaa3" opacity="0.3"/><circle cx="70.1" cy="108.4" r="0.3" fill="#b8aaa3" opacity="0.6"/><circle cx="108.2" cy="102.1" r="0.5" fill="#b8aaa3" opacity="0.5"/><circle cx="61.5" cy="27.1" r="0.5" fill="#c7b9b2" opacity="0.3"/><circle cx="57.6" cy="86.6" r="0.3" fill="#b8aaa3" opacity="0.5"/><circle cx="87.3" cy="31.0" r="0.5" fill="#a89a93" opacity="0.5"/><circle cx="73.2" cy="112.3" r="0.5" fill="#b8aaa3" opacity="0.5"/><circle cx="116.2" cy="79.1" r="0.5" fill="#b8aaa3" opacity="0.4"/><circle cx="48.1" cy="9.1" r="0.3" fill="#c7b9b2" opacity="0.3"/><circle cx="70.3" cy="11.6" r="0.3" fill="#b8aaa3" opacity="0.5"/><circle cx="83.9" cy="53.1" r="0.3" fill="#c7b9b2" opacity="0.5"/><circle cx="85.0" cy="108.8" r="0.3" fill="#c7b9b2" opacity="0.5"/><circle cx="99.9" cy="38.7" r="0.5" fill="#c7b9b2" opacity="0.5"/><circle cx="36.3" cy="31.0" r="0.4" fill="#b8aaa3" opacity="0.3"/><circle cx="86.3" cy="95.2" r="0.4" fill="#b8aaa3" opacity="0.3"/><circle cx="111.7" cy="105.6" r="0.5" fill="#c7b9b2" opacity="0.3"/><circle cx="86.2" cy="31.2" r="0.3" fill="#a89a93" opacity="0.5"/><circle cx="76.6" cy="14.4" r="0.4" fill="#b8aaa3" opacity="0.3"/><circle cx="19.5" cy="22.0" r="0.4" fill="#c7b9b2" opacity="0.3"/><circle cx="44.2" cy="24.0" r="0.5" fill="#a89a93" opacity="0.4"/><circle cx="31.1" cy="49.2" r="0.3" fill="#a89a93" opacity="0.4"/><circle cx="66.0" cy="43.8" r="0.4" fill="#c7b9b2" opacity="0.3"/><circle cx="110.5" cy="93.9" r="0.5" fill="#c7b9b2" opacity="0.4"/><circle cx="20.9" cy="66.6" r="0.3" fill="#b8aaa3" opacity="0.3"/><circle cx="21.2" cy="65.4" r="0.3" fill="#a89a93" opacity="0.5"/><circle cx="5.6" cy="46.9" r="0.5" fill="#c7b9b2" opacity="0.6"/><circle cx="43.6" cy="94.8" r="0.5" fill="#a89a93" opacity="0.5"/><circle cx="65.7" cy="126.9" r="0.5" fill="#a89a93" opacity="0.3"/><circle cx="91.8" cy="100.5" r="0.5" fill="#c7b9b2" opacity="0.6"/><circle cx="54.2" cy="8.8" r="0.3" fill="#c7b9b2" opacity="0.3"/><circle cx="93.7" cy="119.3" r="0.4" fill="#b8aaa3" opacity="0.5"/><circle cx="101.7" cy="62.9" r="0.3" fill="#c7b9b2" opacity="0.6"/><circle cx="42.2" cy="33.5" r="0.5" fill="#c7b9b2" opacity="0.5"/><circle cx="18.4" cy="60.5" r="0.3" fill="#b8aaa3" opacity="0.6"/><circle cx="93.1" cy="10.8" r="0.3" fill="#c7b9b2" opacity="0.4"/><circle cx="80.0" cy="116.3" r="0.4" fill="#c7b9b2" opacity="0.4"/><circle cx="30.0" cy="91.0" r="0.3" fill="#b8aaa3" opacity="0.5"/><circle cx="57.6" cy="102.1" r="0.3" fill="#c7b9b2" opacity="0.6"/><circle cx="70.0" cy="103.0" r="0.4" fill="#b8aaa3" opacity="0.5"/><circle cx="28.0" cy="58.8" r="0.5" fill="#a89a93" opacity="0.3"/><circle cx="46.1" cy="9.2" r="0.3" fill="#a89a93" opacity="0.5"/><circle cx="96.9" cy="63.4" r="0.3" fill="#a89a93" opacity="0.4"/><circle cx="46.9" cy="22.8" r="0.4" fill="#b8aaa3" opacity="0.3"/><circle cx="43.5" cy="103.0" r="0.4" fill="#b8aaa3" opacity="0.4"/><circle cx="99.1" cy="102.2" r="0.5" fill="#c7b9b2" opacity="0.5"/><circle cx="68.1" cy="37.7" r="0.4" fill="#a89a93" opacity="0.4"/><circle cx="86.3" cy="23.6" r="0.4" fill="#c7b9b2" opacity="0.3"/><circle cx="30.8" cy="22.0" r="0.5" fill="#b8aaa3" opacity="0.3"/><circle cx="62.9" cy="51.0" r="0.4" fill="#c7b9b2" opacity="0.4"/><circle cx="44.1" cy="38.3" r="0.3" fill="#a89a93" opacity="0.5"/><circle cx="33.0" cy="93.0" r="0.4" fill="#a89a93" opacity="0.4"/><circle cx="72.6" cy="53.9" r="0.5" fill="#b8aaa3" opacity="0.4"/><circle cx="45.0" cy="55.4" r="0.4" fill="#b8aaa3" opacity="0.3"/><circle cx="64.8" cy="41.2" r="0.5" fill="#a89a93" opacity="0.5"/><circle cx="68.8" cy="90.1" r="0.4" fill="#a89a93" opacity="0.4"/><circle cx="92.7" cy="9.2" r="0.5" fill="#b8aaa3" opacity="0.6"/><circle cx="36.0" cy="10.0" r="0.4" fill="#c7b9b2" opacity="0.4"/><circle cx="46.8" cy="78.0" r="0.5" fill="#b8aaa3" opacity="0.3"/><circle cx="52.4" cy="49.0" r="0.4" fill="#b8aaa3" opacity="0.4"/><circle cx="34.5" cy="104.9" r="0.4" fill="#c7b9b2" opacity="0.3"/><circle cx="68.2" cy="127.7" r="0.3" fill="#b8aaa3" opacity="0.3"/><circle cx="48.7" cy="31.8" r="0.5" fill="#b8aaa3" opacity="0.3"/><circle cx="115.8" cy="33.4" r="0.5" fill="#a89a93" opacity="0.3"/><circle cx="98.0" cy="12.9" r="0.3" fill="#a89a93" opacity="0.5"/><circle cx="90.5" cy="70.0" r="0.5" fill="#c7b9b2" opacity="0.4"/><circle cx="83.2" cy="100.7" r="0.5" fill="#c7b9b2" opacity="0.3"/><circle cx="59.4" cy="89.5" r="0.4" fill="#c7b9b2" opacity="0.4"/><circle cx="122.2" cy="45.8" r="0.4" fill="#a89a93" opacity="0.3"/><circle cx="2.4" cy="69.7" r="0.5" fill="#a89a93" opacity="0.5"/><circle cx="70.4" cy="118.4" r="0.5" fill="#a89a93" opacity="0.6"/><circle cx="30.7" cy="92.1" r="0.4" fill="#b8aaa3" opacity="0.4"/><circle cx="35.9" cy="78.9" r="0.5" fill="#b8aaa3" opacity="0.4"/><circle cx="38.0" cy="113.0" r="0.5" fill="#a89a93" opacity="0.4"/><circle cx="53.4" cy="73.7" r="0.5" fill="#c7b9b2" opacity="0.3"/><circle cx="112.8" cy="101.8" r="0.4" fill="#c7b9b2" opacity="0.4"/><circle cx="64.3" cy="32.6" r="0.5" fill="#b8aaa3" opacity="0.3"/><circle cx="31.4" cy="100.7" r="0.3" fill="#a89a93" opacity="0.5"/><circle cx="42.0" cy="108.1" r="0.4" fill="#c7b9b2" opacity="0.5"/><circle cx="96.6" cy="32.0" r="0.4" fill="#a89a93" opacity="0.5"/><circle cx="64.5" cy="23.5" r="0.5" fill="#a89a93" opacity="0.3"/><circle cx="58.5" cy="10.7" r="0.4" fill="#c7b9b2" opacity="0.5"/><circle cx="117.2" cy="69.8" r="0.3" fill="#b8aaa3" opacity="0.5"/><circle cx="38.1" cy="65.9" r="0.3" fill="#a89a93" opacity="0.5"/><circle cx="83.7" cy="121.8" r="0.5" fill="#c7b9b2" opacity="0.4"/><circle cx="19.4" cy="103.9" r="0.4" fill="#a89a93" opacity="0.3"/><circle cx="92.4" cy="60.9" r="0.5" fill="#a89a93" opacity="0.3"/><circle cx="80.8" cy="17.4" r="0.3" fill="#c7b9b2" opacity="0.3"/><circle cx="44.9" cy="96.3" r="0.5" fill="#c7b9b2" opacity="0.5"/><circle cx="49.9" cy="68.5" r="0.5" fill="#b8aaa3" opacity="0.4"/><circle cx="127.3" cy="65.6" r="0.4" fill="#c7b9b2" opacity="0.4"/><circle cx="107.0" cy="70.2" r="0.3" fill="#c7b9b2" opacity="0.3"/><circle cx="12.1" cy="36.4" r="0.4" fill="#b8aaa3" opacity="0.5"/><circle cx="60.9" cy="31.9" r="0.3" fill="#b8aaa3" opacity="0.5"/><circle cx="27.3" cy="31.4" r="0.4" fill="#a89a93" opacity="0.5"/><circle cx="47.9" cy="58.8" r="0.3" fill="#c7b9b2" opacity="0.6"/><circle cx="36.6" cy="80.0" r="0.3" fill="#c7b9b2" opacity="0.6"/><circle cx="70.6" cy="105.8" r="0.5" fill="#b8aaa3" opacity="0.3"/><circle cx="72.1" cy="102.5" r="0.5" fill="#c7b9b2" opacity="0.4"/><circle cx="121.5" cy="77.0" r="0.3" fill="#a89a93" opacity="0.5"/><circle cx="25.1" cy="16.5" r="0.5" fill="#a89a93" opacity="0.4"/><circle cx="32.7" cy="82.9" r="0.4" fill="#b8aaa3" opacity="0.4"/><circle cx="47.5" cy="85.6" r="0.4" fill="#c7b9b2" opacity="0.4"/><circle cx="83.4" cy="15.0" r="0.4" fill="#b8aaa3" opacity="0.4"/><circle cx="72.2" cy="58.4" r="0.4" fill="#a89a93" opacity="0.4"/><circle cx="59.8" cy="55.1" r="0.5" fill="#a89a93" opacity="0.5"/><circle cx="86.4" cy="64.9" r="0.3" fill="#a89a93" opacity="0.3"/><circle cx="30.9" cy="66.3" r="0.5" fill="#b8aaa3" opacity="0.3"/><circle cx="36.0" cy="59.2" r="0.4" fill="#b8aaa3" opacity="0.5"/><circle cx="93.0" cy="83.3" r="0.3" fill="#c7b9b2" opacity="0.4"/><circle cx="12.2" cy="67.5" r="0.4" fill="#a89a93" opacity="0.4"/><circle cx="74.4" cy="106.5" r="0.5" fill="#c7b9b2" opacity="0.5"/><circle cx="51.3" cy="33.3" r="0.5" fill="#a89a93" opacity="0.5"/><circle cx="66.2" cy="11.4" r="0.4" fill="#b8aaa3" opacity="0.6"/><circle cx="13.0" cy="78.8" r="0.4" fill="#a89a93" opacity="0.4"/><circle cx="54.7" cy="34.8" r="0.4" fill="#c7b9b2" opacity="0.5"/><circle cx="107.4" cy="67.6" r="0.3" fill="#c7b9b2" opacity="0.5"/><circle cx="63.4" cy="16.3" r="0.3" fill="#a89a93" opacity="0.5"/><circle cx="93.0" cy="50.7" r="0.4" fill="#a89a93" opacity="0.3"/><circle cx="50.9" cy="69.2" r="0.4" fill="#a89a93" opacity="0.6"/><circle cx="77.2" cy="50.7" r="0.5" fill="#a89a93" opacity="0.4"/><circle cx="71.6" cy="46.4" r="0.4" fill="#c7b9b2" opacity="0.4"/><circle cx="89.0" cy="36.8" r="0.3" fill="#b8aaa3" opacity="0.3"/><circle cx="66.4" cy="20.5" r="0.4" fill="#a89a93" opacity="0.4"/><circle cx="92.5" cy="38.2" r="0.4" fill="#c7b9b2" opacity="0.3"/><circle cx="21.3" cy="68.0" r="0.3" fill="#c7b9b2" opacity="0.3"/><circle cx="60.7" cy="33.7" r="0.5" fill="#b8aaa3" opacity="0.3"/><circle cx="62.9" cy="119.3" r="0.3" fill="#b8aaa3" opacity="0.3"/><circle cx="64.1" cy="10.1" r="0.3" fill="#c7b9b2" opacity="0.3"/><circle cx="51.1" cy="67.0" r="0.5" fill="#a89a93" opacity="0.5"/><circle cx="75.8" cy="98.2" r="0.5" fill="#b8aaa3" opacity="0.6"/><circle cx="124.1" cy="73.0" r="0.5" fill="#b8aaa3" opacity="0.6"/><circle cx="62.2" cy="76.1" r="0.4" fill="#a89a93" opacity="0.4"/><circle cx="43.2" cy="55.1" r="0.4" fill="#a89a93" opacity="0.4"/><circle cx="31.0" cy="113.6" r="0.3" fill="#a89a93" opacity="0.6"/><circle cx="56.9" cy="90.3" r="0.4" fill="#c7b9b2" opacity="0.4"/><circle cx="27.9" cy="36.3" r="0.5" fill="#a89a93" opacity="0.3"/><circle cx="99.5" cy="94.6" r="0.5" fill="#b8aaa3" opacity="0.5"/><circle cx="103.1" cy="42.2" r="0.5" fill="#c7b9b2" opacity="0.6"/><circle cx="8.2" cy="44.5" r="0.5" fill="#c7b9b2" opacity="0.4"/><circle cx="59.5" cy="109.3" r="0.5" fill="#a89a93" opacity="0.3"/><circle cx="19.0" cy="27.7" r="0.4" fill="#c7b9b2" opacity="0.3"/><circle cx="3.3" cy="55.2" r="0.5" fill="#b8aaa3" opacity="0.6"/><circle cx="122.9" cy="79.2" r="0.4" fill="#a89a93" opacity="0.3"/><circle cx="59.3" cy="100.5" r="0.4" fill="#c7b9b2" opacity="0.4"/><circle cx="98.9" cy="109.3" r="0.3" fill="#c7b9b2" opacity="0.4"/><circle cx="99.4" cy="97.1" r="0.5" fill="#b8aaa3" opacity="0.6"/><circle cx="99.5" cy="90.8" r="0.4" fill="#c7b9b2" opacity="0.4"/><circle cx="67.7" cy="100.4" r="0.5" fill="#a89a93" opacity="0.3"/><circle cx="69.1" cy="116.2" r="0.4" fill="#c7b9b2" opacity="0.4"/><circle cx="79.9" cy="95.4" r="0.4" fill="#a89a93" opacity="0.4"/><circle cx="23.4" cy="28.2" r="0.4" fill="#c7b9b2" opacity="0.4"/><circle cx="79.9" cy="13.7" r="0.5" fill="#a89a93" opacity="0.5"/><circle cx="120.4" cy="90.4" r="0.4" fill="#b8aaa3" opacity="0.3"/><circle cx="30.7" cy="15.4" r="0.4" fill="#c7b9b2" opacity="0.4"/><circle cx="78.1" cy="36.7" r="0.4" fill="#b8aaa3" opacity="0.5"/><circle cx="53.3" cy="88.3" r="0.4" fill="#c7b9b2" opacity="0.3"/><circle cx="73.3" cy="87.5" r="0.4" fill="#a89a93" opacity="0.4"/><circle cx="14.4" cy="102.5" r="0.4" fill="#a89a93" opacity="0.6"/><circle cx="101.3" cy="29.5" r="0.5" fill="#c7b9b2" opacity="0.6"/><circle cx="39.8" cy="12.8" r="0.4" fill="#b8aaa3" opacity="0.3"/><circle cx="63.4" cy="67.5" r="0.4" fill="#b8aaa3" opacity="0.4"/><circle cx="30.9" cy="42.0" r="0.4" fill="#c7b9b2" opacity="0.6"/><circle cx="58.6" cy="18.3" r="0.5" fill="#c7b9b2" opacity="0.3"/><circle cx="91.7" cy="48.2" r="0.5" fill="#a89a93" opacity="0.5"/><circle cx="33.8" cy="18.5" r="0.4" fill="#c7b9b2" opacity="0.6"/><circle cx="30.6" cy="19.1" r="0.5" fill="#c7b9b2" opacity="0.3"/><circle cx="64.0" cy="71.7" r="0.5" fill="#c7b9b2" opacity="0.3"/><circle cx="41.5" cy="67.2" r="0.4" fill="#b8aaa3" opacity="0.4"/><circle cx="60.3" cy="62.0" r="0.3" fill="#b8aaa3" opacity="0.6"/><circle cx="96.0" cy="54.3" r="0.5" fill="#a89a93" opacity="0.4"/><circle cx="77.6" cy="21.7" r="0.4" fill="#a89a93" opacity="0.3"/><circle cx="103.4" cy="87.8" r="0.5" fill="#c7b9b2" opacity="0.4"/><circle cx="76.2" cy="119.8" r="0.4" fill="#b8aaa3" opacity="0.5"/><circle cx="41.7" cy="122.2" r="0.3" fill="#b8aaa3" opacity="0.6"/><circle cx="47.0" cy="50.7" r="0.3" fill="#b8aaa3" opacity="0.4"/><circle cx="119.1" cy="90.7" r="0.4" fill="#b8aaa3" opacity="0.4"/><circle cx="20.3" cy="73.7" r="0.3" fill="#b8aaa3" opacity="0.5"/><circle cx="106.7" cy="100.1" r="0.5" fill="#b8aaa3" opacity="0.4"/><circle cx="59.1" cy="77.0" r="0.3" fill="#b8aaa3" opacity="0.3"/><circle cx="92.6" cy="91.5" r="0.5" fill="#b8aaa3" opacity="0.3"/><circle cx="87.4" cy="52.9" r="0.5" fill="#c7b9b2" opacity="0.3"/><circle cx="27.1" cy="28.0" r="0.5" fill="#a89a93" opacity="0.4"/><circle cx="92.3" cy="114.7" r="0.5" fill="#c7b9b2" opacity="0.4"/><circle cx="99.4" cy="32.3" r="0.4" fill="#c7b9b2" opacity="0.3"/><circle cx="56.2" cy="41.9" r="0.5" fill="#a89a93" opacity="0.3"/><circle cx="49.5" cy="81.7" r="0.5" fill="#b8aaa3" opacity="0.6"/><circle cx="53.2" cy="84.0" r="0.3" fill="#a89a93" opacity="0.4"/><circle cx="78.1" cy="124.0" r="0.5" fill="#b8aaa3" opacity="0.3"/><circle cx="44.3" cy="91.6" r="0.5" fill="#c7b9b2" opacity="0.5"/><circle cx="27.8" cy="75.7" r="0.5" fill="#b8aaa3" opacity="0.4"/><circle cx="87.0" cy="12.5" r="0.5" fill="#b8aaa3" opacity="0.4"/><circle cx="58.9" cy="78.5" r="0.3" fill="#a89a93" opacity="0.6"/><circle cx="83.6" cy="36.3" r="0.4" fill="#b8aaa3" opacity="0.4"/><circle cx="86.2" cy="46.2" r="0.3" fill="#b8aaa3" opacity="0.5"/><circle cx="105.5" cy="102.2" r="0.3" fill="#c7b9b2" opacity="0.3"/><circle cx="59.9" cy="26.3" r="0.4" fill="#b8aaa3" opacity="0.6"/><circle cx="17.9" cy="92.3" r="0.4" fill="#a89a93" opacity="0.4"/><circle cx="20.9" cy="108.3" r="0.5" fill="#c7b9b2" opacity="0.3"/><circle cx="121.4" cy="82.1" r="0.3" fill="#c7b9b2" opacity="0.3"/><circle cx="99.0" cy="63.2" r="0.5" fill="#b8aaa3" opacity="0.5"/><circle cx="111.3" cy="88.1" r="0.5" fill="#c7b9b2" opacity="0.3"/><circle cx="121.4" cy="65.9" r="0.5" fill="#b8aaa3" opacity="0.3"/><circle cx="80.7" cy="31.4" r="0.5" fill="#b8aaa3" opacity="0.3"/><circle cx="59.9" cy="44.9" r="0.3" fill="#c7b9b2" opacity="0.3"/><circle cx="50.3" cy="14.7" r="0.3" fill="#c7b9b2" opacity="0.3"/><circle cx="8.8" cy="78.1" r="0.5" fill="#a89a93" opacity="0.4"/><circle cx="82.8" cy="34.7" r="0.5" fill="#c7b9b2" opacity="0.4"/><circle cx="52.8" cy="103.0" r="0.4" fill="#a89a93" opacity="0.3"/><circle cx="13.0" cy="92.3" r="0.5" fill="#a89a93" opacity="0.3"/><circle cx="69.6" cy="17.3" r="0.4" fill="#a89a93" opacity="0.3"/><circle cx="7.3" cy="46.8" r="0.3" fill="#b8aaa3" opacity="0.4"/><circle cx="25.4" cy="46.2" r="0.5" fill="#a89a93" opacity="0.3"/><circle cx="89.2" cy="78.9" r="0.5" fill="#a89a93" opacity="0.3"/><circle cx="122.9" cy="70.1" r="0.4" fill="#c7b9b2" opacity="0.6"/><circle cx="89.6" cy="68.8" r="0.4" fill="#b8aaa3" opacity="0.6"/><circle cx="76.3" cy="6.8" r="0.5" fill="#a89a93" opacity="0.4"/><circle cx="82.7" cy="69.2" r="0.3" fill="#a89a93" opacity="0.6"/><circle cx="66.5" cy="53.6" r="0.5" fill="#c7b9b2" opacity="0.3"/><circle cx="3.5" cy="74.3" r="0.5" fill="#c7b9b2" opacity="0.5"/><circle cx="106.9" cy="66.1" r="0.5" fill="#a89a93" opacity="0.6"/><circle cx="59.3" cy="114.9" r="0.3" fill="#a89a93" opacity="0.6"/><circle cx="22.3" cy="25.6" r="0.5" fill="#c7b9b2" opacity="0.5"/><circle cx="51.2" cy="78.4" r="0.3" fill="#b8aaa3" opacity="0.4"/><circle cx="102.5" cy="60.1" r="0.4" fill="#b8aaa3" opacity="0.6"/><circle cx="71.3" cy="77.8" r="0.4" fill="#c7b9b2" opacity="0.3"/><circle cx="50.9" cy="108.1" r="0.4" fill="#c7b9b2" opacity="0.3"/><circle cx="65.4" cy="50.9" r="0.5" fill="#c7b9b2" opacity="0.3"/><circle cx="30.7" cy="80.9" r="0.5" fill="#b8aaa3" opacity="0.5"/><circle cx="84.9" cy="64.8" r="0.4" fill="#b8aaa3" opacity="0.5"/><circle cx="48.9" cy="39.4" r="0.4" fill="#c7b9b2" opacity="0.3"/><circle cx="105.3" cy="42.3" r="0.3" fill="#a89a93" opacity="0.6"/><circle cx="69.4" cy="68.6" r="0.5" fill="#b8aaa3" opacity="0.4"/><circle cx="11.7" cy="57.3" r="0.3" fill="#a89a93" opacity="0.4"/><circle cx="127.5" cy="71.0" r="0.4" fill="#b8aaa3" opacity="0.6"/><circle cx="74.6" cy="31.7" r="0.4" fill="#a89a93" opacity="0.5"/><circle cx="50.9" cy="20.7" r="0.5" fill="#a89a93" opacity="0.3"/><circle cx="116.8" cy="45.1" r="0.4" fill="#b8aaa3" opacity="0.3"/><circle cx="44.0" cy="75.1" r="0.5" fill="#c7b9b2" opacity="0.3"/><circle cx="92.1" cy="49.5" r="0.5" fill="#a89a93" opacity="0.4"/><circle cx="57.4" cy="124.0" r="0.5" fill="#b8aaa3" opacity="0.4"/><circle cx="46.2" cy="64.0" r="0.4" fill="#a89a93" opacity="0.4"/><circle cx="40.4" cy="13.2" r="0.4" fill="#c7b9b2" opacity="0.4"/><circle cx="51.5" cy="125.8" r="0.4" fill="#a89a93" opacity="0.3"/><circle cx="37.1" cy="27.7" r="0.3" fill="#a89a93" opacity="0.5"/><circle cx="123.2" cy="85.6" r="0.3" fill="#b8aaa3" opacity="0.5"/><circle cx="59.2" cy="95.6" r="0.3" fill="#a89a93" opacity="0.4"/><circle cx="122.6" cy="60.3" r="0.4" fill="#a89a93" opacity="0.4"/><circle cx="27.5" cy="109.2" r="0.4" fill="#a89a93" opacity="0.3"/><circle cx="120.3" cy="72.8" r="0.3" fill="#a89a93" opacity="0.5"/><circle cx="50.3" cy="70.5" r="0.5" fill="#b8aaa3" opacity="0.5"/><circle cx="39.9" cy="102.4" r="0.3" fill="#b8aaa3" opacity="0.4"/><circle cx="53.2" cy="71.3" r="0.3" fill="#b8aaa3" opacity="0.4"/><circle cx="63.8" cy="13.9" r="0.4" fill="#a89a93" opacity="0.6"/><circle cx="61.5" cy="90.7" r="0.5" fill="#b8aaa3" opacity="0.3"/><circle cx="28.1" cy="97.5" r="0.3" fill="#a89a93" opacity="0.5"/><circle cx="121.5" cy="90.0" r="0.4" fill="#c7b9b2" opacity="0.4"/><circle cx="100.9" cy="111.5" r="0.3" fill="#b8aaa3" opacity="0.5"/><circle cx="70.3" cy="56.5" r="0.4" fill="#c7b9b2" opacity="0.4"/><circle cx="46.2" cy="59.4" r="0.3" fill="#a89a93" opacity="0.5"/><circle cx="4.1" cy="68.7" r="0.4" fill="#c7b9b2" opacity="0.5"/><circle cx="22.7" cy="58.9" r="0.3" fill="#c7b9b2" opacity="0.5"/><circle cx="125.7" cy="64.5" r="0.4" fill="#a89a93" opacity="0.3"/><circle cx="115.5" cy="98.9" r="0.4" fill="#b8aaa3" opacity="0.4"/><circle cx="103.1" cy="75.3" r="0.4" fill="#b8aaa3" opacity="0.3"/><circle cx="69.5" cy="98.8" r="0.3" fill="#c7b9b2" opacity="0.4"/><circle cx="108.0" cy="65.1" r="0.3" fill="#c7b9b2" opacity="0.3"/><circle cx="56.7" cy="106.5" r="0.4" fill="#a89a93" opacity="0.3"/><circle cx="13.8" cy="45.6" r="0.4" fill="#c7b9b2" opacity="0.3"/><circle cx="12.4" cy="68.3" r="0.5" fill="#c7b9b2" opacity="0.6"/><circle cx="25.0" cy="60.6" r="0.3" fill="#a89a93" opacity="0.3"/><circle cx="125.1" cy="60.5" r="0.4" fill="#c7b9b2" opacity="0.4"/><circle cx="34.2" cy="49.2" r="0.3" fill="#a89a93" opacity="0.3"/><circle cx="28.2" cy="21.7" r="0.5" fill="#c7b9b2" opacity="0.4"/><circle cx="57.2" cy="113.1" r="0.5" fill="#b8aaa3" opacity="0.4"/><circle cx="63.1" cy="112.4" r="0.4" fill="#a89a93" opacity="0.5"/><circle cx="6.7" cy="69.7" r="0.3" fill="#c7b9b2" opacity="0.5"/><circle cx="99.8" cy="18.6" r="0.5" fill="#b8aaa3" opacity="0.5"/><circle cx="49.4" cy="80.2" r="0.4" fill="#a89a93" opacity="0.5"/><circle cx="82.4" cy="102.1" r="0.4" fill="#a89a93" opacity="0.4"/><circle cx="31.9" cy="51.6" r="0.3" fill="#c7b9b2" opacity="0.5"/><circle cx="18.5" cy="90.3" r="0.4" fill="#c7b9b2" opacity="0.5"/><circle cx="62.3" cy="107.6" r="0.5" fill="#b8aaa3" opacity="0.3"/><circle cx="19.8" cy="77.5" r="0.5" fill="#a89a93" opacity="0.3"/><circle cx="102.3" cy="94.0" r="0.5" fill="#a89a93" opacity="0.5"/><circle cx="72.9" cy="95.9" r="0.3" fill="#b8aaa3" opacity="0.3"/><circle cx="76.2" cy="91.6" r="0.5" fill="#a89a93" opacity="0.3"/><circle cx="103.8" cy="50.3" r="0.3" fill="#a89a93" opacity="0.4"/><circle cx="96.7" cy="25.5" r="0.4" fill="#a89a93" opacity="0.3"/><circle cx="78.6" cy="111.2" r="0.5" fill="#c7b9b2" opacity="0.4"/><circle cx="50.4" cy="104.4" r="0.4" fill="#b8aaa3" opacity="0.3"/><circle cx="34.0" cy="119.9" r="0.4" fill="#a89a93" opacity="0.4"/><circle cx="46.6" cy="5.3" r="0.4" fill="#a89a93" opacity="0.6"/><circle cx="76.0" cy="107.9" r="0.4" fill="#a89a93" opacity="0.5"/><circle cx="20.5" cy="62.2" r="0.5" fill="#c7b9b2" opacity="0.3"/><circle cx="77.8" cy="55.2" r="0.5" fill="#b8aaa3" opacity="0.5"/><circle cx="27.1" cy="55.6" r="0.5" fill="#c7b9b2" opacity="0.5"/><circle cx="120.3" cy="52.2" r="0.3" fill="#c7b9b2" opacity="0.6"/><circle cx="66.1" cy="15.1" r="0.5" fill="#c7b9b2" opacity="0.6"/><circle cx="57.8" cy="97.4" r="0.3" fill="#a89a93" opacity="0.4"/><circle cx="82.6" cy="32.9" r="0.3" fill="#b8aaa3" opacity="0.3"/><circle cx="9.7" cy="88.7" r="0.3" fill="#c7b9b2" opacity="0.4"/><circle cx="83.8" cy="74.7" r="0.4" fill="#a89a93" opacity="0.3"/><circle cx="67.7" cy="63.7" r="0.5" fill="#c7b9b2" opacity="0.5"/><circle cx="38.7" cy="8.2" r="0.5" fill="#c7b9b2" opacity="0.5"/><circle cx="85.5" cy="45.7" r="0.3" fill="#c7b9b2" opacity="0.5"/><circle cx="85.9" cy="69.4" r="0.4" fill="#a89a93" opacity="0.5"/><circle cx="111.0" cy="55.8" r="0.4" fill="#c7b9b2" opacity="0.4"/><circle cx="60.1" cy="73.4" r="0.5" fill="#a89a93" opacity="0.6"/><circle cx="33.9" cy="20.0" r="0.5" fill="#c7b9b2" opacity="0.6"/><circle cx="90.0" cy="105.3" r="0.3" fill="#a89a93" opacity="0.3"/><circle cx="68.1" cy="71.5" r="0.5" fill="#c7b9b2" opacity="0.4"/><circle cx="80.0" cy="8.1" r="0.4" fill="#c7b9b2" opacity="0.6"/><circle cx="48.5" cy="12.4" r="0.5" fill="#a89a93" opacity="0.5"/><circle cx="81.7" cy="115.0" r="0.4" fill="#a89a93" opacity="0.4"/><circle cx="106.0" cy="104.0" r="0.5" fill="#b8aaa3" opacity="0.4"/><circle cx="64.9" cy="57.2" r="0.3" fill="#a89a93" opacity="0.3"/><circle cx="18.1" cy="43.7" r="0.5" fill="#b8aaa3" opacity="0.3"/><circle cx="46.5" cy="17.4" r="0.4" fill="#a89a93" opacity="0.3"/><circle cx="32.9" cy="67.7" r="0.5" fill="#b8aaa3" opacity="0.4"/><circle cx="94.6" cy="67.3" r="0.3" fill="#b8aaa3" opacity="0.5"/><circle cx="62.6" cy="128.0" r="0.5" fill="#c7b9b2" opacity="0.3"/><circle cx="23.8" cy="27.8" r="0.5" fill="#a89a93" opacity="0.3"/><circle cx="53.6" cy="107.9" r="0.4" fill="#b8aaa3" opacity="0.4"/><circle cx="61.0" cy="46.8" r="0.5" fill="#c7b9b2" opacity="0.5"/><circle cx="89.3" cy="119.1" r="0.4" fill="#c7b9b2" opacity="0.6"/><circle cx="38.3" cy="87.2" r="0.5" fill="#b8aaa3" opacity="0.4"/><circle cx="38.2" cy="47.3" r="0.4" fill="#a89a93" opacity="0.5"/><circle cx="118.1" cy="53.2" r="0.5" fill="#b8aaa3" opacity="0.6"/><circle cx="116.3" cy="63.1" r="0.3" fill="#c7b9b2" opacity="0.4"/><circle cx="51.0" cy="58.6" r="0.5" fill="#a89a93" opacity="0.4"/><circle cx="125.2" cy="83.5" r="0.5" fill="#a89a93" opacity="0.4"/><circle cx="113.4" cy="32.2" r="0.3" fill="#b8aaa3" opacity="0.6"/><circle cx="93.7" cy="104.1" r="0.3" fill="#b8aaa3" opacity="0.3"/><circle cx="82.1" cy="118.2" r="0.3" fill="#c7b9b2" opacity="0.5"/><circle cx="85.9" cy="10.5" r="0.5" fill="#b8aaa3" opacity="0.5"/><circle cx="56.6" cy="86.3" r="0.5" fill="#a89a93" opacity="0.3"/><circle cx="83.6" cy="47.4" r="0.5" fill="#c7b9b2" opacity="0.5"/><circle cx="71.0" cy="55.4" r="0.3" fill="#c7b9b2" opacity="0.5"/><circle cx="25.1" cy="111.9" r="0.4" fill="#a89a93" opacity="0.3"/><circle cx="74.6" cy="91.4" r="0.5" fill="#b8aaa3" opacity="0.5"/><circle cx="95.0" cy="47.3" r="0.5" fill="#c7b9b2" opacity="0.5"/><circle cx="34.1" cy="63.7" r="0.5" fill="#c7b9b2" opacity="0.4"/><circle cx="43.5" cy="19.8" r="0.3" fill="#a89a93" opacity="0.6"/><circle cx="43.9" cy="117.6" r="0.3" fill="#b8aaa3" opacity="0.5"/><circle cx="57.7" cy="91.9" r="0.5" fill="#c7b9b2" opacity="0.4"/><circle cx="70.4" cy="9.9" r="0.5" fill="#b8aaa3" opacity="0.5"/><circle cx="91.1" cy="40.3" r="0.5" fill="#a89a93" opacity="0.3"/><circle cx="38.2" cy="73.9" r="0.4" fill="#c7b9b2" opacity="0.5"/><circle cx="91.1" cy="22.9" r="0.5" fill="#a89a93" opacity="0.4"/><circle cx="64.5" cy="123.3" r="0.4" fill="#b8aaa3" opacity="0.5"/><circle cx="40.7" cy="83.8" r="0.4" fill="#a89a93" opacity="0.3"/><circle cx="26.5" cy="73.9" r="0.4" fill="#a89a93" opacity="0.3"/><circle cx="30.0" cy="108.3" r="0.3" fill="#b8aaa3" opacity="0.4"/><circle cx="124.1" cy="61.7" r="0.5" fill="#c7b9b2" opacity="0.4"/><circle cx="103.6" cy="78.1" r="0.4" fill="#a89a93" opacity="0.4"/><circle cx="68.9" cy="68.8" r="0.5" fill="#b8aaa3" opacity="0.6"/><circle cx="70.4" cy="111.8" r="0.3" fill="#b8aaa3" opacity="0.3"/><circle cx="51.4" cy="64.7" r="0.5" fill="#a89a93" opacity="0.4"/><circle cx="40.5" cy="56.8" r="0.4" fill="#a89a93" opacity="0.3"/><circle cx="108.7" cy="95.6" r="0.5" fill="#c7b9b2" opacity="0.3"/><circle cx="122.8" cy="62.0" r="0.5" fill="#c7b9b2" opacity="0.3"/><circle cx="93.7" cy="74.4" r="0.4" fill="#a89a93" opacity="0.5"/><circle cx="30.1" cy="87.0" r="0.4" fill="#b8aaa3" opacity="0.6"/><circle cx="100.6" cy="87.3" r="0.4" fill="#a89a93" opacity="0.4"/><circle cx="62.8" cy="62.8" r="0.3" fill="#a89a93" opacity="0.3"/><circle cx="114.1" cy="36.1" r="0.5" fill="#a89a93" opacity="0.6"/><circle cx="31.7" cy="18.4" r="0.5" fill="#b8aaa3" opacity="0.6"/><circle cx="14.6" cy="73.2" r="0.6" fill="#ffffff" opacity="0.8"/><circle cx="108.9" cy="64.2" r="0.6" fill="#ffffff" opacity="0.9"/><circle cx="27.2" cy="37.0" r="0.6" fill="#ffffff" opacity="1.0"/><circle cx="40.3" cy="92.3" r="0.4" fill="#ffffff" opacity="0.6"/><circle cx="51.0" cy="31.3" r="0.5" fill="#ffffff" opacity="0.6"/><circle cx="121.1" cy="87.6" r="0.5" fill="#ffffff" opacity="1.0"/><circle cx="27.8" cy="84.5" r="0.6" fill="#ffffff" opacity="0.8"/><circle cx="99.9" cy="33.3" r="0.7" fill="#ffffff" opacity="0.8"/><circle cx="46.9" cy="64.3" r="0.6" fill="#ffffff" opacity="0.8"/><circle cx="56.9" cy="72.4" r="0.6" fill="#ffffff" opacity="1.0"/><circle cx="45.6" cy="32.8" r="0.5" fill="#ffffff" opacity="0.9"/><circle cx="88.2" cy="85.2" r="0.5" fill="#ffffff" opacity="0.6"/><circle cx="83.3" cy="27.9" r="0.5" fill="#ffffff" opacity="0.9"/><circle cx="92.6" cy="72.8" r="0.6" fill="#ffffff" opacity="0.7"/><circle cx="61.1" cy="53.7" r="0.4" fill="#ffffff" opacity="0.8"/><circle cx="58.3" cy="20.4" r="0.5" fill="#ffffff" opacity="0.7"/><circle cx="4.0" cy="74.3" r="0.5" fill="#ffffff" opacity="0.8"/><circle cx="39.4" cy="57.0" r="0.6" fill="#ffffff" opacity="1.0"/><circle cx="97.8" cy="66.5" r="0.6" fill="#ffffff" opacity="0.7"/><circle cx="77.6" cy="22.2" r="0.4" fill="#ffffff" opacity="1.0"/><circle cx="109.9" cy="64.7" r="0.4" fill="#ffffff" opacity="1.0"/><circle cx="48.8" cy="36.0" r="0.4" fill="#ffffff" opacity="0.8"/><circle cx="33.4" cy="106.6" r="0.5" fill="#ffffff" opacity="0.8"/><circle cx="55.1" cy="56.0" r="0.5" fill="#ffffff" opacity="0.9"/><circle cx="72.6" cy="97.9" r="0.4" fill="#ffffff" opacity="0.9"/><circle cx="105.3" cy="108.8" r="0.5" fill="#ffffff" opacity="0.7"/><circle cx="50.0" cy="67.8" r="0.5" fill="#ffffff" opacity="0.9"/><circle cx="23.0" cy="89.0" r="0.7" fill="#ffffff" opacity="0.8"/><circle cx="43.1" cy="96.4" r="0.6" fill="#ffffff" opacity="0.6"/><circle cx="50.2" cy="7.0" r="0.6" fill="#ffffff" opacity="1.0"/><circle cx="10.4" cy="52.9" r="0.5" fill="#ffffff" opacity="0.9"/><circle cx="77.4" cy="95.5" r="0.6" fill="#ffffff" opacity="0.8"/><circle cx="97.8" cy="97.7" r="0.6" fill="#ffffff" opacity="0.8"/><circle cx="99.0" cy="81.5" r="0.4" fill="#ffffff" opacity="0.7"/><circle cx="94.8" cy="84.1" r="0.6" fill="#ffffff" opacity="0.7"/><circle cx="108.4" cy="73.3" r="0.5" fill="#ffffff" opacity="0.6"/><circle cx="29.7" cy="41.3" r="0.7" fill="#ffffff" opacity="1.0"/><circle cx="102.9" cy="66.9" r="0.4" fill="#ffffff" opacity="0.9"/><circle cx="52.2" cy="108.6" r="0.4" fill="#ffffff" opacity="0.7"/><circle cx="17.2" cy="75.9" r="0.6" fill="#ffffff" opacity="0.8"/><circle cx="68.2" cy="51.4" r="0.6" fill="#ffffff" opacity="0.8"/><circle cx="67.9" cy="25.5" r="0.6" fill="#ffffff" opacity="1.0"/><circle cx="16.0" cy="47.8" r="0.5" fill="#ffffff" opacity="0.7"/><circle cx="27.2" cy="65.1" r="0.5" fill="#ffffff" opacity="0.8"/><circle cx="72.4" cy="43.1" r="0.5" fill="#ffffff" opacity="0.9"/><circle cx="51.5" cy="124.6" r="0.6" fill="#ffffff" opacity="0.9"/><circle cx="77.2" cy="17.4" r="0.4" fill="#ffffff" opacity="0.9"/><circle cx="92.2" cy="24.0" r="0.6" fill="#ffffff" opacity="0.8"/><circle cx="45.1" cy="34.2" r="0.6" fill="#ffffff" opacity="0.8"/><circle cx="19.3" cy="98.6" r="0.4" fill="#ffffff" opacity="0.9"/><circle cx="90.3" cy="85.9" r="0.7" fill="#ffffff" opacity="1.0"/><circle cx="112.8" cy="36.9" r="0.7" fill="#ffffff" opacity="0.9"/><circle cx="79.4" cy="122.5" r="0.4" fill="#ffffff" opacity="0.6"/><circle cx="75.4" cy="39.2" r="0.4" fill="#ffffff" opacity="1.0"/><circle cx="120.2" cy="58.7" r="0.5" fill="#ffffff" opacity="0.8"/><circle cx="106.9" cy="96.4" r="0.5" fill="#ffffff" opacity="0.6"/><circle cx="87.5" cy="66.0" r="0.5" fill="#ffffff" opacity="0.9"/><circle cx="15.9" cy="75.4" r="0.5" fill="#ffffff" opacity="1.0"/><circle cx="122.2" cy="75.3" r="0.4" fill="#ffffff" opacity="0.8"/><circle cx="97.4" cy="23.8" r="0.7" fill="#ffffff" opacity="0.8"/><circle cx="102.7" cy="56.1" r="0.4" fill="#ffffff" opacity="0.7"/><circle cx="69.8" cy="105.9" r="0.6" fill="#ffffff" opacity="1.0"/><circle cx="116.4" cy="75.2" r="0.5" fill="#ffffff" opacity="0.8"/><circle cx="16.8" cy="35.7" r="0.6" fill="#ffffff" opacity="0.9"/><circle cx="23.9" cy="86.6" r="0.5" fill="#ffffff" opacity="0.8"/><circle cx="44.7" cy="34.7" r="0.4" fill="#ffffff" opacity="0.7"/><circle cx="96.7" cy="95.7" r="0.4" fill="#ffffff" opacity="0.6"/><circle cx="71.0" cy="108.5" r="0.6" fill="#ffffff" opacity="0.9"/><circle cx="44.3" cy="98.1" r="0.7" fill="#ffffff" opacity="0.7"/><circle cx="103.7" cy="32.9" r="0.6" fill="#ffffff" opacity="0.7"/><circle cx="28.0" cy="97.7" r="0.4" fill="#ffffff" opacity="0.9"/><circle cx="64.6" cy="105.9" r="0.4" fill="#ffffff" opacity="0.7"/><circle cx="18.6" cy="50.6" r="0.6" fill="#ffffff" opacity="0.7"/><circle cx="22.8" cy="107.8" r="0.7" fill="#ffffff" opacity="0.6"/><circle cx="22.9" cy="23.1" r="0.7" fill="#ffffff" opacity="0.8"/><circle cx="80.1" cy="46.6" r="0.5" fill="#ffffff" opacity="0.6"/><circle cx="43.2" cy="105.8" r="0.6" fill="#ffffff" opacity="0.9"/><circle cx="87.8" cy="102.8" r="0.4" fill="#ffffff" opacity="0.7"/><circle cx="34.0" cy="77.8" r="0.6" fill="#ffffff" opacity="0.7"/><circle cx="61.8" cy="86.9" r="0.4" fill="#ffffff" opacity="0.8"/><circle cx="106.4" cy="54.2" r="0.7" fill="#ffffff" opacity="0.8"/><circle cx="39.9" cy="86.3" r="0.7" fill="#ffffff" opacity="0.7"/><circle cx="12.0" cy="56.3" r="0.5" fill="#ffffff" opacity="0.7"/><circle cx="61.7" cy="74.4" r="0.7" fill="#ffffff" opacity="0.8"/><circle cx="123.8" cy="52.8" r="0.4" fill="#ffffff" opacity="0.8"/><circle cx="82.7" cy="102.1" r="0.6" fill="#ffffff" opacity="0.6"/><circle cx="91.1" cy="88.5" r="0.4" fill="#ffffff" opacity="0.9"/><circle cx="22.3" cy="50.7" r="0.5" fill="#ffffff" opacity="1.0"/><circle cx="83.4" cy="89.0" r="0.7" fill="#ffffff" opacity="1.0"/><circle cx="27.5" cy="58.3" r="0.4" fill="#ffffff" opacity="0.9"/><circle cx="11.9" cy="47.2" r="0.4" fill="#ffffff" opacity="0.6"/><circle cx="45.0" cy="46.8" r="0.6" fill="#ffffff" opacity="0.8"/><circle cx="109.0" cy="71.1" r="0.5" fill="#ffffff" opacity="0.6"/><circle cx="7.4" cy="47.8" r="0.5" fill="#ffffff" opacity="0.8"/><circle cx="87.2" cy="33.5" r="0.7" fill="#ffffff" opacity="0.7"/><circle cx="111.7" cy="88.0" r="0.4" fill="#ffffff" opacity="0.7"/><circle cx="18.0" cy="96.1" r="0.6" fill="#ffffff" opacity="0.9"/><circle cx="39.1" cy="12.3" r="0.6" fill="#ffffff" opacity="0.9"/><circle cx="36.0" cy="107.0" r="0.6" fill="#ffffff" opacity="1.0"/><circle cx="96.2" cy="103.0" r="0.4" fill="#ffffff" opacity="0.7"/><circle cx="92.2" cy="13.2" r="0.7" fill="#ffffff" opacity="0.9"/><circle cx="88.9" cy="68.0" r="0.5" fill="#ffffff" opacity="0.9"/><circle cx="65.7" cy="7.8" r="0.6" fill="#ffffff" opacity="0.8"/><circle cx="67.6" cy="36.6" r="0.7" fill="#ffffff" opacity="0.7"/><circle cx="101.8" cy="89.7" r="0.5" fill="#ffffff" opacity="0.6"/><circle cx="46.0" cy="120.8" r="0.6" fill="#ffffff" opacity="0.7"/><circle cx="89.7" cy="39.6" r="0.7" fill="#ffffff" opacity="1.0"/><circle cx="68.3" cy="111.6" r="0.6" fill="#ffffff" opacity="1.0"/><circle cx="117.8" cy="97.3" r="0.6" fill="#ffffff" opacity="1.0"/><circle cx="101.8" cy="62.0" r="0.4" fill="#ffffff" opacity="0.8"/><circle cx="95.3" cy="46.3" r="0.4" fill="#ffffff" opacity="0.9"/><circle cx="36.8" cy="68.7" r="0.4" fill="#ffffff" opacity="0.9"/><circle cx="43.4" cy="26.4" r="0.6" fill="#ffffff" opacity="0.8"/><circle cx="45.1" cy="26.8" r="0.6" fill="#ffffff" opacity="1.0"/><circle cx="94.5" cy="22.2" r="0.6" fill="#ffffff" opacity="0.8"/><circle cx="52.3" cy="3.8" r="0.4" fill="#ffffff" opacity="0.7"/><circle cx="64.4" cy="81.9" r="0.5" fill="#ffffff" opacity="0.8"/><circle cx="29.0" cy="81.0" r="0.4" fill="#ffffff" opacity="0.9"/><circle cx="93.8" cy="101.6" r="0.4" fill="#ffffff" opacity="0.9"/><circle cx="58.3" cy="53.9" r="0.5" fill="#ffffff" opacity="0.9"/><circle cx="103.6" cy="111.5" r="0.7" fill="#ffffff" opacity="0.8"/><circle cx="48.7" cy="21.0" r="0.4" fill="#ffffff" opacity="0.9"/><circle cx="123.7" cy="54.2" r="0.5" fill="#ffffff" opacity="0.8"/><circle cx="43.6" cy="42.0" r="0.5" fill="#ffffff" opacity="1.0"/><circle cx="19.2" cy="51.8" r="0.4" fill="#ffffff" opacity="0.8"/><circle cx="3.7" cy="57.2" r="0.6" fill="#ffffff" opacity="0.9"/><circle cx="61.1" cy="57.5" r="0.4" fill="#ffffff" opacity="0.8"/><circle cx="47.5" cy="58.4" r="0.6" fill="#ffffff" opacity="0.8"/><circle cx="69.5" cy="49.1" r="0.4" fill="#ffffff" opacity="0.6"/><circle cx="33.9" cy="118.5" r="0.4" fill="#ffffff" opacity="0.6"/><circle cx="67.5" cy="26.7" r="0.5" fill="#ffffff" opacity="0.6"/><circle cx="50.9" cy="43.4" r="0.6" fill="#ffffff" opacity="1.0"/><circle cx="7.5" cy="89.6" r="0.5" fill="#ffffff" opacity="1.0"/><circle cx="85.6" cy="64.9" r="0.4" fill="#ffffff" opacity="1.0"/><circle cx="62.8" cy="120.4" r="0.5" fill="#ffffff" opacity="0.6"/><circle cx="44.8" cy="79.8" r="0.5" fill="#ffffff" opacity="0.9"/><circle cx="104.5" cy="19.3" r="0.5" fill="#ffffff" opacity="0.9"/><circle cx="114.8" cy="97.8" r="0.4" fill="#ffffff" opacity="0.7"/><circle cx="123.0" cy="61.3" r="0.5" fill="#ffffff" opacity="1.0"/><circle cx="65.4" cy="68.2" r="0.4" fill="#ffffff" opacity="0.8"/><ellipse cx="84" cy="5.8" rx="4" ry="1.3" transform="rotate(10 84 5.8)" fill="#fff" opacity="0.9"/>
</svg><div class="n"><span>02</span></div></div>
<div class="c" style="left:370.5px;top:184.5px;"><svg width="131" height="131" viewBox="-0.4 -0.4 131 131"><defs>
<radialGradient id="g3a" cx="50%" cy="45%" r="62%">
<stop offset="0" stop-color="#ebe3de"/><stop offset="0.7" stop-color="#e8ded8"/><stop offset="1" stop-color="#e3d8d2"/></radialGradient>
<filter id="s3b"><feGaussianBlur stdDeviation="0.25"/></filter>
</defs>
<circle cx="65.1" cy="65.1" r="65.1" fill="url(#g3a)"/>
<g filter="url(#s3b)"><circle cx="68.4" cy="108.8" r="0.5" fill="#9a8a84" opacity="0.8"/><circle cx="69.4" cy="67.0" r="0.7" fill="#4d403d" opacity="0.8"/><circle cx="83.6" cy="113.4" r="0.6" fill="#9a8a84" opacity="0.7"/><circle cx="82.0" cy="45.0" r="0.4" fill="#9a8a84" opacity="0.9"/><circle cx="59.4" cy="54.4" r="0.6" fill="#6e5f5a" opacity="0.6"/><circle cx="121.9" cy="76.3" r="0.5" fill="#9a8a84" opacity="0.8"/><circle cx="96.9" cy="47.9" r="0.7" fill="#9a8a84" opacity="1.0"/><circle cx="88.1" cy="90.9" r="0.3" fill="#9a8a84" opacity="0.6"/><circle cx="102.6" cy="56.8" r="0.6" fill="#4d403d" opacity="0.7"/><circle cx="87.7" cy="26.0" r="0.5" fill="#9a8a84" opacity="0.8"/><circle cx="106.4" cy="36.7" r="0.7" fill="#4d403d" opacity="1.0"/><circle cx="55.0" cy="46.4" r="0.7" fill="#6e5f5a" opacity="0.8"/><circle cx="78.8" cy="119.9" r="0.6" fill="#4d403d" opacity="0.5"/><circle cx="17.2" cy="70.5" r="0.5" fill="#4d403d" opacity="0.9"/><circle cx="47.9" cy="75.9" r="0.4" fill="#9a8a84" opacity="0.9"/><circle cx="110.4" cy="78.0" r="0.3" fill="#4d403d" opacity="0.8"/><circle cx="91.0" cy="51.3" r="0.4" fill="#6e5f5a" opacity="0.6"/><circle cx="106.2" cy="86.7" r="0.3" fill="#857570" opacity="1.0"/><circle cx="57.8" cy="92.5" r="0.6" fill="#4d403d" opacity="0.6"/><circle cx="122.2" cy="49.9" r="0.5" fill="#9a8a84" opacity="0.9"/><circle cx="21.4" cy="103.1" r="0.6" fill="#6e5f5a" opacity="0.8"/><circle cx="104.2" cy="49.8" r="0.5" fill="#857570" opacity="1.0"/><circle cx="39.2" cy="75.8" r="0.5" fill="#4d403d" opacity="0.5"/><circle cx="25.9" cy="88.2" r="0.3" fill="#857570" opacity="0.5"/><circle cx="37.3" cy="36.5" r="0.6" fill="#4d403d" opacity="0.8"/><circle cx="57.7" cy="105.5" r="0.6" fill="#6e5f5a" opacity="1.0"/><circle cx="64.8" cy="104.5" r="0.6" fill="#4d403d" opacity="0.5"/><circle cx="86.2" cy="114.2" r="0.7" fill="#4d403d" opacity="0.6"/><circle cx="26.4" cy="102.8" r="0.3" fill="#857570" opacity="0.6"/><circle cx="74.6" cy="119.6" r="0.4" fill="#857570" opacity="0.8"/><circle cx="55.9" cy="52.5" r="0.6" fill="#4d403d" opacity="0.8"/><circle cx="74.0" cy="120.0" r="0.7" fill="#6e5f5a" opacity="0.6"/><circle cx="30.7" cy="17.6" r="0.5" fill="#857570" opacity="0.9"/><circle cx="125.2" cy="78.1" r="0.5" fill="#857570" opacity="0.9"/><circle cx="34.9" cy="112.7" r="0.4" fill="#4d403d" opacity="0.8"/><circle cx="27.7" cy="85.3" r="0.7" fill="#9a8a84" opacity="0.6"/><circle cx="32.6" cy="83.8" r="0.5" fill="#9a8a84" opacity="0.5"/><circle cx="126.0" cy="66.9" r="0.7" fill="#9a8a84" opacity="0.8"/><circle cx="116.6" cy="60.5" r="0.3" fill="#9a8a84" opacity="0.9"/><circle cx="43.0" cy="28.7" r="0.4" fill="#4d403d" opacity="0.9"/><circle cx="102.2" cy="21.1" r="0.7" fill="#6e5f5a" opacity="0.9"/><circle cx="122.1" cy="81.7" r="0.6" fill="#857570" opacity="0.9"/><circle cx="101.7" cy="38.4" r="0.3" fill="#6e5f5a" opacity="0.5"/><circle cx="49.9" cy="112.0" r="0.5" fill="#9a8a84" opacity="0.5"/><circle cx="79.7" cy="56.2" r="0.4" fill="#9a8a84" opacity="0.9"/><circle cx="88.7" cy="74.7" r="0.4" fill="#6e5f5a" opacity="0.5"/><circle cx="80.7" cy="7.1" r="0.7" fill="#6e5f5a" opacity="0.7"/><circle cx="32.2" cy="49.4" r="0.6" fill="#857570" opacity="0.6"/><circle cx="28.0" cy="58.7" r="0.5" fill="#6e5f5a" opacity="0.9"/><circle cx="66.7" cy="55.3" r="0.3" fill="#9a8a84" opacity="1.0"/><circle cx="73.9" cy="53.6" r="0.5" fill="#4d403d" opacity="0.5"/><circle cx="97.2" cy="80.6" r="0.5" fill="#4d403d" opacity="0.6"/><circle cx="76.8" cy="95.3" r="0.4" fill="#6e5f5a" opacity="0.8"/><circle cx="55.0" cy="74.6" r="0.4" fill="#4d403d" opacity="0.7"/><circle cx="39.5" cy="29.7" r="0.6" fill="#6e5f5a" opacity="0.8"/><circle cx="33.4" cy="79.6" r="0.5" fill="#4d403d" opacity="0.7"/><circle cx="51.5" cy="27.9" r="0.4" fill="#4d403d" opacity="0.8"/><circle cx="99.1" cy="81.5" r="0.5" fill="#6e5f5a" opacity="1.0"/><circle cx="23.5" cy="107.1" r="0.7" fill="#4d403d" opacity="0.5"/><circle cx="42.9" cy="8.5" r="0.6" fill="#9a8a84" opacity="0.8"/><circle cx="60.5" cy="20.6" r="0.4" fill="#6e5f5a" opacity="0.7"/><circle cx="68.3" cy="100.8" r="0.5" fill="#6e5f5a" opacity="0.8"/><circle cx="25.3" cy="104.5" r="0.5" fill="#6e5f5a" opacity="0.5"/><circle cx="95.6" cy="92.0" r="0.6" fill="#4d403d" opacity="0.8"/><circle cx="67.7" cy="56.9" r="0.6" fill="#857570" opacity="0.5"/><circle cx="64.7" cy="4.5" r="0.3" fill="#4d403d" opacity="0.9"/><circle cx="70.9" cy="77.4" r="0.7" fill="#857570" opacity="0.7"/><circle cx="46.3" cy="7.2" r="0.4" fill="#9a8a84" opacity="1.0"/><circle cx="7.2" cy="43.6" r="0.5" fill="#857570" opacity="1.0"/><circle cx="19.9" cy="92.7" r="0.4" fill="#9a8a84" opacity="0.5"/><circle cx="17.3" cy="99.3" r="0.4" fill="#9a8a84" opacity="0.9"/><circle cx="101.9" cy="43.8" r="0.5" fill="#857570" opacity="0.5"/><circle cx="65.4" cy="45.2" r="0.5" fill="#857570" opacity="0.9"/><circle cx="12.3" cy="52.2" r="0.6" fill="#9a8a84" opacity="0.8"/><circle cx="11.2" cy="33.4" r="0.7" fill="#4d403d" opacity="0.5"/><circle cx="29.9" cy="69.7" r="0.4" fill="#4d403d" opacity="0.6"/><circle cx="7.7" cy="71.4" r="0.5" fill="#9a8a84" opacity="0.8"/><circle cx="77.6" cy="108.9" r="0.7" fill="#6e5f5a" opacity="0.7"/><circle cx="54.6" cy="8.6" r="0.5" fill="#6e5f5a" opacity="0.7"/><circle cx="68.5" cy="91.3" r="0.6" fill="#6e5f5a" opacity="1.0"/><circle cx="81.5" cy="43.7" r="0.4" fill="#4d403d" opacity="0.5"/><circle cx="29.2" cy="30.5" r="0.3" fill="#4d403d" opacity="0.5"/><circle cx="87.0" cy="71.5" r="0.4" fill="#6e5f5a" opacity="0.5"/><circle cx="59.8" cy="124.6" r="0.3" fill="#9a8a84" opacity="0.8"/><circle cx="63.7" cy="62.3" r="0.5" fill="#9a8a84" opacity="0.7"/><circle cx="107.9" cy="87.9" r="0.6" fill="#9a8a84" opacity="0.7"/><circle cx="48.2" cy="60.3" r="0.4" fill="#9a8a84" opacity="0.5"/><circle cx="110.3" cy="26.3" r="0.4" fill="#4d403d" opacity="0.8"/><circle cx="38.6" cy="93.9" r="0.6" fill="#4d403d" opacity="0.5"/><circle cx="96.1" cy="53.8" r="0.6" fill="#6e5f5a" opacity="0.8"/><circle cx="53.5" cy="64.5" r="0.4" fill="#857570" opacity="0.8"/><circle cx="62.6" cy="45.1" r="0.5" fill="#9a8a84" opacity="0.5"/><circle cx="82.8" cy="57.0" r="0.5" fill="#9a8a84" opacity="0.8"/><circle cx="41.4" cy="33.5" r="0.5" fill="#857570" opacity="0.8"/><circle cx="82.8" cy="79.3" r="0.6" fill="#9a8a84" opacity="0.6"/><circle cx="61.6" cy="100.4" r="0.7" fill="#6e5f5a" opacity="0.7"/><circle cx="58.3" cy="115.4" r="0.5" fill="#4d403d" opacity="1.0"/><circle cx="12.4" cy="82.9" r="0.3" fill="#9a8a84" opacity="0.9"/><circle cx="87.0" cy="83.8" r="0.4" fill="#6e5f5a" opacity="0.8"/><circle cx="79.4" cy="56.0" r="0.6" fill="#9a8a84" opacity="0.8"/><circle cx="16.7" cy="104.6" r="0.4" fill="#857570" opacity="0.9"/><circle cx="78.2" cy="23.3" r="0.4" fill="#857570" opacity="0.6"/><circle cx="65.0" cy="119.5" r="0.3" fill="#9a8a84" opacity="0.9"/><circle cx="98.8" cy="54.0" r="0.6" fill="#4d403d" opacity="0.8"/><circle cx="114.9" cy="57.8" r="0.4" fill="#9a8a84" opacity="0.5"/><circle cx="82.6" cy="109.8" r="0.4" fill="#857570" opacity="0.7"/><circle cx="25.9" cy="59.2" r="0.4" fill="#857570" opacity="0.5"/><circle cx="16.6" cy="65.0" r="0.5" fill="#4d403d" opacity="1.0"/><circle cx="79.9" cy="53.2" r="0.7" fill="#6e5f5a" opacity="0.5"/><circle cx="34.2" cy="36.7" r="0.5" fill="#6e5f5a" opacity="1.0"/><circle cx="39.4" cy="117.1" r="0.6" fill="#857570" opacity="0.5"/><circle cx="93.9" cy="19.2" r="0.3" fill="#6e5f5a" opacity="0.9"/><circle cx="34.3" cy="111.3" r="0.7" fill="#857570" opacity="0.7"/><circle cx="66.9" cy="24.3" r="0.4" fill="#6e5f5a" opacity="0.7"/><circle cx="93.9" cy="22.8" r="0.5" fill="#9a8a84" opacity="0.8"/><circle cx="28.5" cy="56.3" r="0.6" fill="#4d403d" opacity="0.5"/><circle cx="16.3" cy="78.4" r="0.5" fill="#9a8a84" opacity="0.9"/><circle cx="58.6" cy="31.1" r="0.5" fill="#4d403d" opacity="0.8"/><circle cx="65.4" cy="66.9" r="0.4" fill="#4d403d" opacity="0.5"/><circle cx="42.2" cy="71.0" r="0.4" fill="#857570" opacity="0.8"/><circle cx="17.0" cy="64.0" r="0.4" fill="#857570" opacity="0.7"/><circle cx="87.8" cy="117.3" r="0.5" fill="#4d403d" opacity="0.7"/><circle cx="62.0" cy="55.0" r="0.5" fill="#9a8a84" opacity="0.7"/><circle cx="114.3" cy="33.4" r="0.4" fill="#9a8a84" opacity="0.7"/><circle cx="89.3" cy="105.9" r="0.5" fill="#6e5f5a" opacity="0.8"/><circle cx="75.7" cy="37.0" r="0.7" fill="#9a8a84" opacity="0.9"/><circle cx="105.0" cy="55.3" r="0.6" fill="#6e5f5a" opacity="0.9"/><circle cx="42.2" cy="40.9" r="0.4" fill="#9a8a84" opacity="1.0"/><circle cx="63.3" cy="63.9" r="0.3" fill="#6e5f5a" opacity="0.5"/><circle cx="24.4" cy="64.3" r="0.4" fill="#4d403d" opacity="0.6"/><circle cx="105.0" cy="58.5" r="0.7" fill="#4d403d" opacity="1.0"/><circle cx="95.3" cy="71.7" r="0.6" fill="#9a8a84" opacity="0.5"/><circle cx="49.7" cy="120.2" r="0.4" fill="#9a8a84" opacity="0.8"/><circle cx="12.2" cy="52.8" r="0.5" fill="#9a8a84" opacity="0.9"/><circle cx="8.3" cy="45.3" r="0.5" fill="#9a8a84" opacity="0.7"/><circle cx="17.1" cy="82.6" r="0.5" fill="#857570" opacity="0.7"/><circle cx="66.1" cy="5.3" r="0.6" fill="#9a8a84" opacity="0.5"/><circle cx="90.2" cy="112.0" r="0.7" fill="#6e5f5a" opacity="0.9"/><circle cx="58.2" cy="51.1" r="0.4" fill="#6e5f5a" opacity="0.9"/><circle cx="92.3" cy="37.0" r="0.7" fill="#4d403d" opacity="1.0"/><circle cx="88.7" cy="65.3" r="0.7" fill="#6e5f5a" opacity="0.6"/><circle cx="50.4" cy="101.3" r="0.7" fill="#857570" opacity="0.6"/><circle cx="84.6" cy="71.3" r="0.6" fill="#6e5f5a" opacity="0.5"/><circle cx="59.3" cy="89.1" r="0.7" fill="#9a8a84" opacity="0.7"/><circle cx="91.6" cy="47.6" r="0.7" fill="#857570" opacity="0.7"/><circle cx="58.4" cy="58.6" r="0.7" fill="#6e5f5a" opacity="0.9"/><circle cx="114.1" cy="101.3" r="0.4" fill="#6e5f5a" opacity="0.7"/><circle cx="74.7" cy="120.7" r="0.6" fill="#9a8a84" opacity="0.9"/><circle cx="88.2" cy="41.0" r="0.6" fill="#9a8a84" opacity="0.9"/><circle cx="49.2" cy="124.0" r="0.5" fill="#9a8a84" opacity="0.6"/><circle cx="26.5" cy="55.4" r="0.6" fill="#6e5f5a" opacity="0.6"/><circle cx="84.1" cy="114.8" r="0.7" fill="#4d403d" opacity="0.7"/><circle cx="37.3" cy="27.6" r="0.4" fill="#4d403d" opacity="0.9"/><circle cx="89.6" cy="75.3" r="0.5" fill="#4d403d" opacity="0.6"/><circle cx="95.8" cy="117.2" r="0.6" fill="#9a8a84" opacity="1.0"/><circle cx="28.6" cy="56.8" r="0.7" fill="#9a8a84" opacity="0.7"/><circle cx="70.5" cy="28.7" r="0.7" fill="#6e5f5a" opacity="0.6"/><circle cx="86.1" cy="55.9" r="0.4" fill="#857570" opacity="0.6"/><circle cx="17.2" cy="59.2" r="0.3" fill="#857570" opacity="0.6"/><circle cx="34.8" cy="78.8" r="0.6" fill="#4d403d" opacity="0.5"/><circle cx="9.2" cy="85.6" r="0.5" fill="#857570" opacity="0.5"/><circle cx="69.2" cy="14.3" r="0.7" fill="#4d403d" opacity="1.0"/><circle cx="9.9" cy="90.5" r="0.5" fill="#857570" opacity="0.6"/><circle cx="83.0" cy="41.4" r="0.5" fill="#4d403d" opacity="0.9"/><circle cx="57.2" cy="90.9" r="0.7" fill="#6e5f5a" opacity="0.5"/><circle cx="51.2" cy="50.5" r="0.3" fill="#6e5f5a" opacity="0.5"/><circle cx="119.7" cy="59.5" r="0.5" fill="#4d403d" opacity="1.0"/><circle cx="87.5" cy="70.1" r="0.3" fill="#9a8a84" opacity="0.9"/><circle cx="89.0" cy="25.1" r="0.7" fill="#9a8a84" opacity="0.6"/><circle cx="66.1" cy="120.4" r="0.5" fill="#4d403d" opacity="0.6"/><circle cx="73.7" cy="66.7" r="0.7" fill="#857570" opacity="1.0"/><circle cx="74.9" cy="39.6" r="0.4" fill="#9a8a84" opacity="0.7"/><circle cx="86.6" cy="26.5" r="0.4" fill="#857570" opacity="0.5"/><circle cx="53.4" cy="66.1" r="0.7" fill="#9a8a84" opacity="0.7"/><circle cx="34.5" cy="13.1" r="0.7" fill="#9a8a84" opacity="0.7"/><circle cx="44.7" cy="42.8" r="0.4" fill="#857570" opacity="1.0"/><circle cx="29.8" cy="54.4" r="0.5" fill="#9a8a84" opacity="0.6"/><circle cx="64.1" cy="94.7" r="0.5" fill="#4d403d" opacity="0.5"/><circle cx="104.9" cy="74.7" r="0.4" fill="#9a8a84" opacity="1.0"/><circle cx="59.2" cy="60.0" r="0.6" fill="#6e5f5a" opacity="0.7"/><circle cx="55.5" cy="115.6" r="0.7" fill="#6e5f5a" opacity="0.7"/><circle cx="72.4" cy="68.9" r="0.5" fill="#9a8a84" opacity="0.6"/><circle cx="85.0" cy="54.3" r="0.5" fill="#9a8a84" opacity="0.6"/><circle cx="57.1" cy="125.8" r="0.7" fill="#4d403d" opacity="0.8"/><circle cx="57.1" cy="62.2" r="0.5" fill="#9a8a84" opacity="1.0"/><circle cx="88.0" cy="77.6" r="0.4" fill="#6e5f5a" opacity="0.8"/><circle cx="101.0" cy="96.8" r="0.4" fill="#6e5f5a" opacity="1.0"/><circle cx="115.0" cy="57.0" r="0.5" fill="#9a8a84" opacity="0.7"/><circle cx="54.2" cy="108.3" r="0.4" fill="#9a8a84" opacity="1.0"/><circle cx="101.8" cy="111.9" r="0.4" fill="#9a8a84" opacity="0.8"/><circle cx="53.3" cy="49.5" r="0.3" fill="#857570" opacity="0.6"/><circle cx="54.0" cy="50.1" r="0.4" fill="#857570" opacity="0.7"/><circle cx="52.9" cy="76.2" r="0.5" fill="#6e5f5a" opacity="0.6"/><circle cx="78.6" cy="79.7" r="0.4" fill="#4d403d" opacity="1.0"/><circle cx="16.9" cy="28.4" r="0.3" fill="#4d403d" opacity="1.0"/><circle cx="92.1" cy="61.7" r="0.5" fill="#9a8a84" opacity="0.5"/><circle cx="88.1" cy="32.1" r="0.6" fill="#9a8a84" opacity="0.8"/><circle cx="22.7" cy="74.8" r="0.5" fill="#9a8a84" opacity="0.9"/><circle cx="79.2" cy="109.1" r="0.7" fill="#857570" opacity="0.6"/><circle cx="104.0" cy="17.4" r="0.5" fill="#857570" opacity="0.5"/><circle cx="56.1" cy="58.3" r="0.6" fill="#857570" opacity="0.5"/><circle cx="122.9" cy="70.2" r="0.7" fill="#4d403d" opacity="0.7"/><circle cx="66.6" cy="50.0" r="0.6" fill="#9a8a84" opacity="0.6"/><circle cx="43.7" cy="51.5" r="0.5" fill="#4d403d" opacity="0.8"/><circle cx="22.2" cy="37.5" r="0.7" fill="#4d403d" opacity="0.9"/><circle cx="80.3" cy="39.5" r="0.7" fill="#4d403d" opacity="0.6"/><circle cx="44.6" cy="49.8" r="0.7" fill="#857570" opacity="0.6"/><circle cx="103.5" cy="57.0" r="0.5" fill="#857570" opacity="1.0"/><circle cx="27.1" cy="58.2" r="0.6" fill="#6e5f5a" opacity="0.7"/><circle cx="20.5" cy="50.6" r="0.4" fill="#857570" opacity="0.9"/><circle cx="18.6" cy="106.6" r="0.5" fill="#857570" opacity="0.5"/><circle cx="47.6" cy="65.8" r="0.6" fill="#9a8a84" opacity="0.8"/><circle cx="45.3" cy="88.5" r="0.5" fill="#9a8a84" opacity="0.7"/><circle cx="107.2" cy="37.6" r="0.4" fill="#9a8a84" opacity="0.5"/><circle cx="71.6" cy="99.3" r="0.6" fill="#857570" opacity="0.9"/><circle cx="74.8" cy="102.1" r="0.4" fill="#6e5f5a" opacity="0.7"/><circle cx="103.2" cy="44.5" r="0.6" fill="#857570" opacity="0.7"/><circle cx="57.8" cy="48.9" r="0.7" fill="#9a8a84" opacity="0.6"/><circle cx="85.1" cy="88.9" r="0.6" fill="#6e5f5a" opacity="0.9"/><circle cx="53.4" cy="56.7" r="0.3" fill="#4d403d" opacity="0.7"/><circle cx="2.7" cy="68.9" r="0.5" fill="#857570" opacity="0.7"/><circle cx="27.1" cy="62.3" r="0.6" fill="#4d403d" opacity="0.7"/><circle cx="116.2" cy="100.8" r="0.6" fill="#6e5f5a" opacity="0.5"/><circle cx="103.0" cy="28.2" r="0.5" fill="#6e5f5a" opacity="0.6"/><circle cx="106.0" cy="40.1" r="0.4" fill="#4d403d" opacity="0.8"/><circle cx="84.1" cy="47.6" r="0.5" fill="#9a8a84" opacity="1.0"/><circle cx="105.4" cy="78.7" r="0.7" fill="#857570" opacity="0.8"/><circle cx="87.7" cy="78.5" r="0.5" fill="#9a8a84" opacity="0.6"/><circle cx="114.0" cy="59.6" r="0.5" fill="#857570" opacity="0.8"/><circle cx="39.9" cy="103.4" r="0.6" fill="#4d403d" opacity="0.8"/><circle cx="32.1" cy="107.7" r="0.7" fill="#857570" opacity="0.7"/><circle cx="54.8" cy="8.5" r="0.6" fill="#9a8a84" opacity="0.9"/><circle cx="77.0" cy="120.0" r="0.7" fill="#6e5f5a" opacity="1.0"/><circle cx="8.2" cy="64.7" r="0.5" fill="#6e5f5a" opacity="0.6"/><circle cx="66.2" cy="123.5" r="0.6" fill="#6e5f5a" opacity="0.6"/><circle cx="47.9" cy="84.2" r="0.4" fill="#4d403d" opacity="0.6"/><circle cx="53.7" cy="34.1" r="0.4" fill="#857570" opacity="0.6"/><circle cx="75.2" cy="84.3" r="0.5" fill="#857570" opacity="0.6"/><circle cx="42.7" cy="23.9" r="0.4" fill="#9a8a84" opacity="0.8"/><circle cx="45.2" cy="75.3" r="0.4" fill="#4d403d" opacity="0.5"/><circle cx="78.3" cy="9.0" r="0.5" fill="#857570" opacity="0.6"/><circle cx="105.6" cy="35.2" r="0.4" fill="#9a8a84" opacity="0.6"/><circle cx="105.9" cy="64.0" r="0.4" fill="#9a8a84" opacity="0.6"/><circle cx="60.0" cy="19.7" r="0.4" fill="#857570" opacity="0.9"/><circle cx="22.0" cy="71.2" r="0.7" fill="#9a8a84" opacity="0.7"/><circle cx="97.4" cy="73.8" r="0.6" fill="#6e5f5a" opacity="0.8"/><circle cx="110.7" cy="58.0" r="0.6" fill="#4d403d" opacity="0.7"/><circle cx="121.6" cy="61.0" r="0.6" fill="#4d403d" opacity="1.0"/><circle cx="25.7" cy="85.8" r="0.6" fill="#9a8a84" opacity="0.7"/><circle cx="40.1" cy="53.9" r="0.6" fill="#9a8a84" opacity="0.8"/><circle cx="55.6" cy="84.0" r="0.7" fill="#9a8a84" opacity="0.5"/><circle cx="46.4" cy="79.7" r="0.5" fill="#4d403d" opacity="0.5"/><circle cx="103.4" cy="78.9" r="0.4" fill="#857570" opacity="0.5"/><circle cx="48.6" cy="59.5" r="0.5" fill="#4d403d" opacity="0.7"/><circle cx="91.8" cy="76.9" r="0.5" fill="#4d403d" opacity="0.5"/><circle cx="103.4" cy="52.1" r="0.5" fill="#4d403d" opacity="0.7"/><circle cx="53.3" cy="39.3" r="0.7" fill="#857570" opacity="0.8"/><circle cx="65.6" cy="93.1" r="0.5" fill="#4d403d" opacity="0.9"/><circle cx="106.7" cy="94.8" r="0.6" fill="#857570" opacity="1.0"/><circle cx="56.4" cy="80.0" r="0.7" fill="#857570" opacity="0.5"/><circle cx="50.8" cy="40.2" r="0.5" fill="#4d403d" opacity="0.9"/><circle cx="29.7" cy="78.8" r="0.6" fill="#9a8a84" opacity="1.0"/><circle cx="37.6" cy="78.0" r="0.4" fill="#9a8a84" opacity="0.5"/><circle cx="102.5" cy="72.6" r="0.3" fill="#857570" opacity="0.7"/><circle cx="119.8" cy="48.5" r="0.6" fill="#4d403d" opacity="0.6"/><circle cx="34.1" cy="32.8" r="0.7" fill="#4d403d" opacity="0.6"/><circle cx="99.0" cy="117.4" r="0.6" fill="#9a8a84" opacity="0.7"/><circle cx="60.9" cy="82.0" r="0.5" fill="#857570" opacity="0.6"/><circle cx="76.9" cy="72.3" r="0.6" fill="#6e5f5a" opacity="0.5"/><circle cx="112.5" cy="92.2" r="0.5" fill="#9a8a84" opacity="0.8"/><circle cx="45.0" cy="32.0" r="0.4" fill="#6e5f5a" opacity="0.5"/><circle cx="49.8" cy="31.2" r="0.3" fill="#4d403d" opacity="0.7"/><circle cx="36.0" cy="119.8" r="0.4" fill="#857570" opacity="0.7"/><circle cx="78.3" cy="28.6" r="0.6" fill="#4d403d" opacity="0.8"/><circle cx="40.3" cy="74.7" r="0.3" fill="#857570" opacity="0.6"/><circle cx="51.8" cy="72.9" r="0.5" fill="#6e5f5a" opacity="0.8"/><circle cx="40.5" cy="47.8" r="0.3" fill="#6e5f5a" opacity="0.8"/><circle cx="71.7" cy="103.8" r="0.5" fill="#9a8a84" opacity="0.8"/><circle cx="61.2" cy="22.6" r="0.5" fill="#4d403d" opacity="0.9"/><circle cx="82.3" cy="100.3" r="0.5" fill="#4d403d" opacity="1.0"/><circle cx="23.7" cy="41.7" r="0.5" fill="#857570" opacity="0.6"/><circle cx="39.5" cy="61.6" r="0.5" fill="#4d403d" opacity="0.5"/><circle cx="24.5" cy="65.2" r="0.4" fill="#9a8a84" opacity="0.5"/><circle cx="112.0" cy="71.9" r="0.3" fill="#9a8a84" opacity="0.9"/><circle cx="112.7" cy="79.9" r="0.5" fill="#9a8a84" opacity="0.7"/><circle cx="75.0" cy="10.7" r="0.5" fill="#6e5f5a" opacity="0.7"/><circle cx="55.0" cy="51.3" r="0.6" fill="#857570" opacity="0.5"/><circle cx="63.7" cy="22.0" r="0.7" fill="#857570" opacity="0.8"/><circle cx="108.3" cy="89.8" r="0.5" fill="#6e5f5a" opacity="0.7"/><circle cx="38.1" cy="96.8" r="0.4" fill="#4d403d" opacity="0.8"/><circle cx="34.2" cy="90.3" r="0.6" fill="#6e5f5a" opacity="0.6"/><circle cx="17.4" cy="70.8" r="0.7" fill="#4d403d" opacity="0.6"/><circle cx="88.2" cy="81.3" r="0.5" fill="#9a8a84" opacity="0.7"/><circle cx="74.7" cy="96.5" r="0.3" fill="#857570" opacity="1.0"/><circle cx="99.9" cy="76.1" r="0.5" fill="#4d403d" opacity="0.5"/><circle cx="83.2" cy="102.7" r="0.4" fill="#9a8a84" opacity="0.8"/><circle cx="44.7" cy="97.2" r="0.3" fill="#9a8a84" opacity="0.6"/><circle cx="60.7" cy="36.5" r="0.4" fill="#857570" opacity="0.9"/><circle cx="65.9" cy="57.3" r="0.5" fill="#6e5f5a" opacity="0.8"/><circle cx="32.2" cy="88.7" r="0.5" fill="#9a8a84" opacity="0.8"/><circle cx="53.8" cy="66.9" r="0.6" fill="#857570" opacity="1.0"/><circle cx="85.3" cy="120.4" r="0.7" fill="#6e5f5a" opacity="1.0"/><circle cx="100.2" cy="106.4" r="0.7" fill="#6e5f5a" opacity="0.5"/><circle cx="78.4" cy="123.6" r="0.6" fill="#857570" opacity="0.9"/><circle cx="46.9" cy="73.0" r="0.4" fill="#9a8a84" opacity="0.7"/><circle cx="35.4" cy="34.9" r="0.3" fill="#6e5f5a" opacity="0.8"/><circle cx="40.7" cy="102.0" r="0.4" fill="#6e5f5a" opacity="0.6"/><circle cx="115.5" cy="95.2" r="0.4" fill="#857570" opacity="0.9"/><circle cx="38.6" cy="110.6" r="0.4" fill="#4d403d" opacity="0.9"/><circle cx="77.3" cy="43.8" r="0.6" fill="#6e5f5a" opacity="0.7"/><circle cx="48.2" cy="119.3" r="0.7" fill="#4d403d" opacity="0.9"/><circle cx="89.9" cy="76.9" r="0.4" fill="#857570" opacity="0.6"/><circle cx="70.2" cy="88.6" r="0.6" fill="#6e5f5a" opacity="0.7"/><circle cx="64.8" cy="108.4" r="0.5" fill="#4d403d" opacity="0.9"/><circle cx="26.5" cy="58.8" r="0.4" fill="#4d403d" opacity="0.8"/><circle cx="111.5" cy="101.9" r="0.5" fill="#4d403d" opacity="0.9"/><circle cx="69.9" cy="38.9" r="0.6" fill="#6e5f5a" opacity="0.5"/><circle cx="88.1" cy="41.1" r="0.4" fill="#4d403d" opacity="0.5"/><circle cx="73.6" cy="19.1" r="0.3" fill="#4d403d" opacity="0.8"/><circle cx="103.5" cy="70.0" r="0.6" fill="#857570" opacity="0.7"/><circle cx="81.0" cy="80.1" r="0.7" fill="#9a8a84" opacity="0.6"/><circle cx="78.8" cy="45.6" r="0.5" fill="#9a8a84" opacity="0.6"/><circle cx="62.3" cy="68.2" r="0.6" fill="#9a8a84" opacity="0.8"/><circle cx="61.1" cy="64.2" r="0.4" fill="#4d403d" opacity="0.6"/><circle cx="82.2" cy="63.1" r="0.7" fill="#857570" opacity="0.9"/><circle cx="95.7" cy="57.7" r="0.5" fill="#6e5f5a" opacity="0.9"/><circle cx="98.0" cy="17.0" r="0.7" fill="#6e5f5a" opacity="1.0"/><circle cx="89.7" cy="106.7" r="0.5" fill="#4d403d" opacity="0.9"/><circle cx="83.0" cy="4.6" r="0.6" fill="#6e5f5a" opacity="0.5"/><circle cx="69.2" cy="15.8" r="0.4" fill="#6e5f5a" opacity="0.6"/><circle cx="61.2" cy="58.7" r="0.4" fill="#9a8a84" opacity="0.5"/><circle cx="4.5" cy="61.1" r="0.4" fill="#9a8a84" opacity="0.9"/><circle cx="25.9" cy="28.3" r="0.6" fill="#6e5f5a" opacity="0.9"/><circle cx="50.7" cy="18.7" r="0.3" fill="#9a8a84" opacity="0.5"/><circle cx="87.3" cy="33.2" r="0.5" fill="#9a8a84" opacity="0.5"/><circle cx="57.8" cy="10.4" r="0.7" fill="#4d403d" opacity="0.5"/><circle cx="67.5" cy="21.3" r="0.5" fill="#9a8a84" opacity="0.6"/><circle cx="101.4" cy="41.3" r="0.4" fill="#4d403d" opacity="0.9"/><circle cx="70.2" cy="35.1" r="0.4" fill="#9a8a84" opacity="0.9"/><circle cx="34.7" cy="44.6" r="0.7" fill="#9a8a84" opacity="0.9"/><circle cx="107.0" cy="42.5" r="0.3" fill="#4d403d" opacity="0.7"/><circle cx="110.6" cy="81.4" r="0.5" fill="#4d403d" opacity="0.8"/><circle cx="22.3" cy="66.4" r="0.5" fill="#857570" opacity="0.9"/><circle cx="79.7" cy="65.0" r="0.6" fill="#9a8a84" opacity="0.9"/><circle cx="48.2" cy="78.1" r="0.7" fill="#857570" opacity="1.0"/><circle cx="88.7" cy="49.5" r="0.7" fill="#857570" opacity="0.8"/><circle cx="68.9" cy="114.8" r="0.4" fill="#4d403d" opacity="0.8"/><circle cx="84.2" cy="19.3" r="0.3" fill="#9a8a84" opacity="0.6"/><circle cx="16.6" cy="30.3" r="0.6" fill="#4d403d" opacity="0.5"/><circle cx="21.7" cy="76.3" r="0.5" fill="#9a8a84" opacity="0.6"/><circle cx="105.7" cy="82.5" r="0.5" fill="#6e5f5a" opacity="0.6"/><circle cx="73.9" cy="65.5" r="0.4" fill="#6e5f5a" opacity="0.5"/><circle cx="28.1" cy="107.3" r="0.5" fill="#6e5f5a" opacity="0.5"/><circle cx="17.1" cy="51.0" r="0.5" fill="#4d403d" opacity="0.8"/><circle cx="33.2" cy="109.3" r="0.5" fill="#9a8a84" opacity="0.5"/><circle cx="19.1" cy="87.2" r="0.3" fill="#9a8a84" opacity="0.9"/><circle cx="111.4" cy="43.9" r="0.6" fill="#4d403d" opacity="0.7"/><circle cx="62.8" cy="67.7" r="0.7" fill="#6e5f5a" opacity="0.7"/><circle cx="113.7" cy="78.9" r="0.5" fill="#857570" opacity="0.8"/><circle cx="70.4" cy="57.3" r="0.4" fill="#4d403d" opacity="0.6"/><circle cx="93.1" cy="46.7" r="0.5" fill="#6e5f5a" opacity="1.0"/><circle cx="53.8" cy="33.1" r="0.5" fill="#9a8a84" opacity="0.7"/><circle cx="36.1" cy="102.3" r="0.4" fill="#6e5f5a" opacity="0.6"/><circle cx="80.7" cy="88.7" r="0.4" fill="#9a8a84" opacity="1.0"/><circle cx="67.6" cy="22.1" r="0.7" fill="#9a8a84" opacity="0.9"/><circle cx="93.7" cy="113.6" r="0.7" fill="#9a8a84" opacity="0.9"/><circle cx="46.0" cy="80.5" r="0.6" fill="#857570" opacity="0.9"/><circle cx="47.1" cy="35.9" r="0.7" fill="#4d403d" opacity="0.6"/><circle cx="105.8" cy="37.2" r="0.5" fill="#9a8a84" opacity="0.5"/><circle cx="57.6" cy="76.2" r="0.7" fill="#4d403d" opacity="0.9"/><circle cx="66.7" cy="35.9" r="0.4" fill="#9a8a84" opacity="0.8"/><circle cx="76.9" cy="115.6" r="0.5" fill="#4d403d" opacity="0.9"/><circle cx="62.8" cy="92.2" r="0.7" fill="#6e5f5a" opacity="1.0"/><circle cx="99.6" cy="94.1" r="0.7" fill="#9a8a84" opacity="0.9"/><circle cx="118.9" cy="75.8" r="0.6" fill="#4d403d" opacity="0.6"/><circle cx="32.3" cy="106.5" r="0.4" fill="#857570" opacity="0.9"/><circle cx="12.6" cy="74.2" r="0.5" fill="#857570" opacity="0.5"/><circle cx="98.8" cy="23.3" r="0.6" fill="#6e5f5a" opacity="0.6"/><circle cx="26.7" cy="114.6" r="0.6" fill="#6e5f5a" opacity="0.8"/><circle cx="49.3" cy="72.2" r="0.5" fill="#9a8a84" opacity="0.9"/><circle cx="28.7" cy="111.7" r="0.5" fill="#6e5f5a" opacity="0.7"/><circle cx="82.2" cy="112.2" r="0.5" fill="#6e5f5a" opacity="0.6"/><circle cx="89.2" cy="76.1" r="0.6" fill="#4d403d" opacity="0.9"/><circle cx="85.9" cy="24.7" r="0.6" fill="#4d403d" opacity="0.9"/><circle cx="77.8" cy="69.2" r="0.6" fill="#857570" opacity="0.6"/><circle cx="73.6" cy="119.3" r="0.4" fill="#857570" opacity="0.7"/><circle cx="96.1" cy="83.7" r="0.5" fill="#6e5f5a" opacity="0.9"/><circle cx="75.5" cy="42.9" r="0.7" fill="#9a8a84" opacity="0.9"/><circle cx="76.5" cy="74.4" r="0.3" fill="#4d403d" opacity="0.8"/><circle cx="78.2" cy="46.5" r="0.4" fill="#4d403d" opacity="0.5"/><circle cx="16.1" cy="69.4" r="0.4" fill="#857570" opacity="0.8"/><circle cx="54.9" cy="122.9" r="0.3" fill="#857570" opacity="0.8"/><circle cx="79.9" cy="34.7" r="0.3" fill="#857570" opacity="0.5"/><circle cx="36.8" cy="38.3" r="0.7" fill="#857570" opacity="0.9"/><circle cx="100.2" cy="20.5" r="0.6" fill="#4d403d" opacity="0.8"/><circle cx="29.7" cy="51.8" r="0.3" fill="#6e5f5a" opacity="0.7"/><circle cx="38.5" cy="64.7" r="0.5" fill="#857570" opacity="0.6"/><circle cx="111.5" cy="24.8" r="0.4" fill="#857570" opacity="0.7"/><circle cx="104.0" cy="20.8" r="0.7" fill="#6e5f5a" opacity="0.8"/><circle cx="85.0" cy="82.4" r="0.5" fill="#857570" opacity="0.5"/><circle cx="72.0" cy="61.8" r="0.7" fill="#857570" opacity="0.6"/><circle cx="18.5" cy="28.0" r="0.5" fill="#9a8a84" opacity="0.6"/><circle cx="73.4" cy="50.6" r="0.7" fill="#6e5f5a" opacity="0.5"/><circle cx="59.7" cy="71.7" r="0.4" fill="#6e5f5a" opacity="0.5"/><circle cx="55.1" cy="115.5" r="0.7" fill="#6e5f5a" opacity="0.9"/><circle cx="87.7" cy="18.7" r="0.5" fill="#4d403d" opacity="0.6"/><circle cx="83.9" cy="37.1" r="0.6" fill="#6e5f5a" opacity="0.6"/><circle cx="26.5" cy="44.1" r="0.6" fill="#857570" opacity="0.7"/><circle cx="104.8" cy="87.8" r="0.5" fill="#6e5f5a" opacity="0.7"/><circle cx="110.8" cy="53.9" r="0.7" fill="#4d403d" opacity="0.8"/><circle cx="79.4" cy="105.1" r="0.6" fill="#9a8a84" opacity="1.0"/><circle cx="45.1" cy="42.7" r="0.6" fill="#857570" opacity="0.5"/><circle cx="45.4" cy="20.0" r="0.6" fill="#857570" opacity="0.5"/><circle cx="99.6" cy="59.8" r="0.6" fill="#9a8a84" opacity="0.9"/><circle cx="34.5" cy="62.5" r="0.5" fill="#9a8a84" opacity="0.9"/><circle cx="48.1" cy="113.7" r="0.6" fill="#4d403d" opacity="0.9"/><circle cx="119.3" cy="94.8" r="0.6" fill="#4d403d" opacity="0.8"/><circle cx="46.7" cy="125.4" r="0.5" fill="#9a8a84" opacity="0.5"/><circle cx="92.5" cy="87.3" r="0.5" fill="#9a8a84" opacity="0.6"/><circle cx="61.5" cy="19.5" r="0.4" fill="#4d403d" opacity="0.5"/><circle cx="45.7" cy="52.4" r="0.3" fill="#9a8a84" opacity="0.7"/><circle cx="22.8" cy="100.8" r="0.7" fill="#9a8a84" opacity="0.9"/><circle cx="66.5" cy="67.2" r="0.7" fill="#9a8a84" opacity="0.7"/><circle cx="67.1" cy="121.7" r="0.6" fill="#4d403d" opacity="0.5"/><circle cx="11.2" cy="39.7" r="0.7" fill="#4d403d" opacity="0.8"/><circle cx="47.4" cy="110.1" r="0.6" fill="#4d403d" opacity="0.7"/><circle cx="65.3" cy="40.8" r="0.6" fill="#6e5f5a" opacity="0.9"/><circle cx="68.3" cy="63.9" r="0.4" fill="#4d403d" opacity="0.8"/><circle cx="108.4" cy="85.3" r="0.3" fill="#6e5f5a" opacity="0.6"/><circle cx="117.6" cy="37.9" r="0.4" fill="#9a8a84" opacity="0.6"/><circle cx="26.9" cy="81.6" r="0.3" fill="#6e5f5a" opacity="0.6"/><circle cx="115.3" cy="71.0" r="0.5" fill="#6e5f5a" opacity="0.7"/><circle cx="96.4" cy="54.3" r="0.5" fill="#857570" opacity="0.7"/><circle cx="94.4" cy="17.0" r="0.4" fill="#4d403d" opacity="0.7"/><circle cx="57.1" cy="79.0" r="0.7" fill="#9a8a84" opacity="0.5"/><circle cx="82.7" cy="36.4" r="0.4" fill="#857570" opacity="0.7"/><circle cx="51.7" cy="102.6" r="0.4" fill="#6e5f5a" opacity="0.7"/><circle cx="85.2" cy="117.4" r="0.7" fill="#857570" opacity="0.6"/><circle cx="85.7" cy="52.5" r="0.4" fill="#6e5f5a" opacity="0.8"/><circle cx="80.6" cy="47.1" r="0.6" fill="#4d403d" opacity="0.9"/><circle cx="65.6" cy="51.7" r="0.7" fill="#9a8a84" opacity="0.8"/><circle cx="65.9" cy="94.6" r="0.5" fill="#4d403d" opacity="0.7"/><circle cx="91.6" cy="46.2" r="0.5" fill="#9a8a84" opacity="0.8"/><circle cx="77.9" cy="55.9" r="0.5" fill="#857570" opacity="0.8"/><circle cx="61.2" cy="125.6" r="0.4" fill="#9a8a84" opacity="0.6"/><circle cx="84.3" cy="121.6" r="0.5" fill="#6e5f5a" opacity="0.7"/><circle cx="95.9" cy="92.9" r="0.4" fill="#857570" opacity="0.5"/><circle cx="108.6" cy="82.7" r="0.3" fill="#857570" opacity="0.6"/><circle cx="83.0" cy="51.5" r="0.5" fill="#857570" opacity="1.0"/><circle cx="40.2" cy="122.5" r="0.6" fill="#857570" opacity="0.8"/><circle cx="92.0" cy="38.6" r="0.6" fill="#9a8a84" opacity="0.6"/><circle cx="83.0" cy="62.8" r="0.6" fill="#6e5f5a" opacity="0.9"/><circle cx="24.3" cy="61.2" r="0.4" fill="#4d403d" opacity="0.6"/><circle cx="52.9" cy="118.8" r="0.4" fill="#6e5f5a" opacity="0.5"/><circle cx="16.1" cy="89.5" r="0.7" fill="#857570" opacity="0.9"/><circle cx="37.4" cy="73.5" r="0.6" fill="#6e5f5a" opacity="0.7"/><circle cx="121.5" cy="68.9" r="0.6" fill="#4d403d" opacity="0.8"/><circle cx="63.1" cy="124.5" r="0.5" fill="#857570" opacity="0.9"/><circle cx="90.5" cy="113.5" r="0.6" fill="#6e5f5a" opacity="0.7"/><circle cx="7.4" cy="86.7" r="0.7" fill="#9a8a84" opacity="0.6"/><circle cx="45.5" cy="102.1" r="0.4" fill="#4d403d" opacity="0.5"/><circle cx="26.8" cy="42.3" r="0.7" fill="#9a8a84" opacity="0.8"/><circle cx="36.0" cy="26.7" r="0.6" fill="#9a8a84" opacity="0.7"/><circle cx="31.5" cy="116.6" r="0.6" fill="#4d403d" opacity="0.9"/><circle cx="64.8" cy="108.3" r="0.5" fill="#6e5f5a" opacity="0.5"/><circle cx="46.4" cy="59.1" r="0.7" fill="#6e5f5a" opacity="0.6"/><circle cx="83.0" cy="30.5" r="0.4" fill="#4d403d" opacity="0.6"/><circle cx="46.8" cy="87.9" r="0.4" fill="#4d403d" opacity="0.5"/><circle cx="66.7" cy="89.3" r="0.5" fill="#6e5f5a" opacity="0.5"/><circle cx="27.4" cy="67.6" r="0.6" fill="#9a8a84" opacity="0.8"/><circle cx="40.3" cy="89.3" r="0.6" fill="#6e5f5a" opacity="0.9"/><circle cx="51.1" cy="72.4" r="0.6" fill="#857570" opacity="0.9"/><circle cx="51.4" cy="84.2" r="0.4" fill="#9a8a84" opacity="0.6"/><circle cx="113.9" cy="49.7" r="0.3" fill="#6e5f5a" opacity="0.8"/><circle cx="104.1" cy="89.5" r="0.5" fill="#9a8a84" opacity="1.0"/><circle cx="99.6" cy="102.4" r="0.5" fill="#6e5f5a" opacity="0.5"/><circle cx="97.5" cy="99.3" r="0.6" fill="#857570" opacity="0.8"/><circle cx="43.2" cy="21.4" r="0.7" fill="#9a8a84" opacity="0.6"/><circle cx="76.6" cy="107.5" r="0.6" fill="#4d403d" opacity="0.8"/><circle cx="72.3" cy="32.0" r="0.6" fill="#857570" opacity="0.7"/><circle cx="45.7" cy="87.8" r="0.7" fill="#4d403d" opacity="0.9"/><circle cx="35.2" cy="81.8" r="0.7" fill="#9a8a84" opacity="0.5"/><circle cx="92.0" cy="38.3" r="0.5" fill="#9a8a84" opacity="0.6"/><circle cx="95.5" cy="49.6" r="0.6" fill="#857570" opacity="0.9"/><circle cx="75.6" cy="75.0" r="0.7" fill="#4d403d" opacity="0.7"/><circle cx="6.8" cy="79.1" r="0.6" fill="#6e5f5a" opacity="0.9"/><circle cx="122.2" cy="65.3" r="0.5" fill="#9a8a84" opacity="0.6"/><circle cx="65.0" cy="30.0" r="0.6" fill="#4d403d" opacity="0.7"/><circle cx="30.1" cy="108.2" r="0.6" fill="#9a8a84" opacity="1.0"/><circle cx="67.0" cy="88.4" r="0.7" fill="#857570" opacity="0.5"/><circle cx="74.8" cy="5.5" r="0.4" fill="#9a8a84" opacity="0.6"/><circle cx="74.8" cy="24.2" r="0.5" fill="#6e5f5a" opacity="0.7"/><circle cx="36.3" cy="92.8" r="0.4" fill="#9a8a84" opacity="0.5"/><circle cx="61.4" cy="128.0" r="0.6" fill="#6e5f5a" opacity="0.9"/><circle cx="88.9" cy="91.6" r="0.7" fill="#6e5f5a" opacity="0.9"/><circle cx="52.1" cy="13.1" r="0.7" fill="#9a8a84" opacity="0.6"/><circle cx="50.6" cy="54.9" r="0.6" fill="#4d403d" opacity="0.6"/><circle cx="65.3" cy="80.4" r="0.5" fill="#6e5f5a" opacity="0.7"/><circle cx="32.0" cy="53.4" r="0.6" fill="#9a8a84" opacity="0.8"/><circle cx="65.8" cy="63.5" r="0.7" fill="#4d403d" opacity="0.9"/><circle cx="46.9" cy="107.7" r="0.4" fill="#4d403d" opacity="0.6"/><circle cx="65.2" cy="117.1" r="0.5" fill="#857570" opacity="0.7"/><circle cx="75.8" cy="40.0" r="0.7" fill="#6e5f5a" opacity="0.9"/><circle cx="29.9" cy="22.5" r="0.5" fill="#857570" opacity="0.7"/><circle cx="79.4" cy="67.2" r="0.6" fill="#9a8a84" opacity="0.7"/><circle cx="99.8" cy="95.9" r="0.7" fill="#857570" opacity="0.8"/><circle cx="27.9" cy="66.9" r="0.6" fill="#4d403d" opacity="0.6"/><circle cx="58.6" cy="5.1" r="0.7" fill="#9a8a84" opacity="0.5"/><circle cx="100.5" cy="54.8" r="0.4" fill="#857570" opacity="0.7"/><circle cx="65.3" cy="65.7" r="0.6" fill="#6e5f5a" opacity="0.9"/><circle cx="56.0" cy="79.0" r="0.5" fill="#9a8a84" opacity="0.6"/><circle cx="27.1" cy="42.7" r="0.5" fill="#9a8a84" opacity="0.8"/><circle cx="103.5" cy="39.3" r="0.7" fill="#9a8a84" opacity="1.0"/><circle cx="65.6" cy="21.2" r="0.5" fill="#4d403d" opacity="0.5"/><circle cx="24.2" cy="81.1" r="0.4" fill="#6e5f5a" opacity="1.0"/><circle cx="20.9" cy="110.0" r="0.7" fill="#4d403d" opacity="0.9"/><circle cx="50.8" cy="59.0" r="0.5" fill="#9a8a84" opacity="0.7"/><circle cx="76.4" cy="10.1" r="0.7" fill="#4d403d" opacity="0.8"/><circle cx="7.3" cy="67.8" r="0.3" fill="#857570" opacity="0.6"/><circle cx="97.4" cy="53.0" r="0.6" fill="#9a8a84" opacity="0.8"/><circle cx="90.0" cy="100.0" r="0.6" fill="#857570" opacity="0.9"/><circle cx="61.5" cy="106.7" r="0.7" fill="#6e5f5a" opacity="0.9"/><circle cx="37.1" cy="42.8" r="0.7" fill="#857570" opacity="0.8"/><circle cx="91.0" cy="16.0" r="0.3" fill="#857570" opacity="0.8"/><circle cx="101.8" cy="22.9" r="0.6" fill="#6e5f5a" opacity="0.5"/><circle cx="23.6" cy="32.4" r="0.4" fill="#6e5f5a" opacity="0.9"/><circle cx="23.8" cy="72.9" r="0.4" fill="#857570" opacity="0.5"/><circle cx="74.9" cy="110.6" r="0.5" fill="#6e5f5a" opacity="0.5"/><circle cx="38.3" cy="76.1" r="0.4" fill="#4d403d" opacity="0.8"/><circle cx="91.5" cy="22.9" r="0.5" fill="#4d403d" opacity="0.9"/><circle cx="87.7" cy="38.9" r="0.5" fill="#9a8a84" opacity="0.5"/><circle cx="6.2" cy="81.9" r="0.7" fill="#4d403d" opacity="1.0"/><circle cx="120.3" cy="72.8" r="0.4" fill="#6e5f5a" opacity="0.9"/><circle cx="60.2" cy="115.3" r="0.6" fill="#857570" opacity="1.0"/><circle cx="25.1" cy="40.1" r="0.4" fill="#857570" opacity="1.0"/><circle cx="60.4" cy="86.7" r="0.5" fill="#4d403d" opacity="0.7"/><circle cx="85.7" cy="52.5" r="0.5" fill="#9a8a84" opacity="0.9"/><circle cx="64.3" cy="78.7" r="0.7" fill="#4d403d" opacity="0.9"/><circle cx="126.8" cy="59.8" r="0.4" fill="#4d403d" opacity="0.5"/><circle cx="72.4" cy="116.8" r="0.5" fill="#857570" opacity="1.0"/><circle cx="26.9" cy="63.8" r="0.4" fill="#857570" opacity="1.0"/><circle cx="42.4" cy="9.9" r="0.6" fill="#4d403d" opacity="0.5"/><circle cx="52.9" cy="125.5" r="0.5" fill="#6e5f5a" opacity="1.0"/><circle cx="84.6" cy="113.2" r="0.7" fill="#4d403d" opacity="0.8"/><circle cx="35.6" cy="114.3" r="0.6" fill="#9a8a84" opacity="0.7"/><circle cx="10.9" cy="47.8" r="0.5" fill="#6e5f5a" opacity="0.7"/><circle cx="70.3" cy="52.0" r="0.4" fill="#857570" opacity="0.5"/><circle cx="58.8" cy="112.3" r="0.4" fill="#9a8a84" opacity="0.6"/><circle cx="81.1" cy="64.1" r="0.7" fill="#6e5f5a" opacity="0.6"/><circle cx="68.7" cy="11.9" r="0.6" fill="#4d403d" opacity="0.8"/><circle cx="61.9" cy="14.7" r="0.4" fill="#9a8a84" opacity="0.7"/><circle cx="90.1" cy="45.9" r="0.6" fill="#857570" opacity="0.8"/><circle cx="85.1" cy="110.4" r="0.4" fill="#9a8a84" opacity="0.6"/><circle cx="93.9" cy="109.8" r="0.4" fill="#9a8a84" opacity="1.0"/><circle cx="78.6" cy="108.8" r="0.4" fill="#9a8a84" opacity="0.6"/><circle cx="56.1" cy="89.9" r="0.4" fill="#4d403d" opacity="0.8"/><circle cx="81.9" cy="26.2" r="0.5" fill="#9a8a84" opacity="0.7"/><circle cx="43.6" cy="17.4" r="0.6" fill="#9a8a84" opacity="0.8"/><circle cx="32.7" cy="104.6" r="0.4" fill="#6e5f5a" opacity="0.8"/><circle cx="114.8" cy="87.4" r="0.7" fill="#6e5f5a" opacity="0.5"/><circle cx="90.2" cy="63.0" r="0.6" fill="#4d403d" opacity="0.6"/><circle cx="66.6" cy="72.3" r="0.4" fill="#857570" opacity="0.9"/><circle cx="85.1" cy="61.4" r="0.7" fill="#4d403d" opacity="0.6"/><circle cx="82.5" cy="99.5" r="0.5" fill="#4d403d" opacity="0.8"/><circle cx="69.3" cy="87.8" r="0.4" fill="#9a8a84" opacity="0.6"/><circle cx="19.8" cy="45.5" r="0.5" fill="#9a8a84" opacity="0.7"/><circle cx="63.8" cy="15.7" r="0.5" fill="#857570" opacity="0.5"/><circle cx="8.3" cy="75.5" r="0.7" fill="#9a8a84" opacity="0.7"/><circle cx="106.4" cy="86.1" r="0.5" fill="#6e5f5a" opacity="1.0"/><circle cx="113.0" cy="89.3" r="0.7" fill="#4d403d" opacity="0.6"/><circle cx="60.0" cy="84.3" r="0.7" fill="#4d403d" opacity="0.9"/><circle cx="30.7" cy="106.8" r="0.5" fill="#4d403d" opacity="0.5"/><circle cx="87.4" cy="12.3" r="0.6" fill="#4d403d" opacity="0.9"/><circle cx="28.2" cy="72.1" r="0.6" fill="#9a8a84" opacity="0.6"/><circle cx="107.0" cy="24.7" r="0.7" fill="#9a8a84" opacity="1.0"/><circle cx="86.5" cy="100.1" r="0.7" fill="#9a8a84" opacity="0.9"/><circle cx="58.3" cy="89.8" r="0.6" fill="#857570" opacity="1.0"/><circle cx="39.6" cy="106.3" r="0.5" fill="#4d403d" opacity="0.9"/><circle cx="68.9" cy="22.3" r="0.3" fill="#4d403d" opacity="0.9"/><circle cx="24.9" cy="56.8" r="0.4" fill="#6e5f5a" opacity="0.9"/><circle cx="46.2" cy="60.4" r="0.7" fill="#9a8a84" opacity="0.7"/><circle cx="12.7" cy="35.8" r="0.6" fill="#4d403d" opacity="0.8"/><circle cx="85.3" cy="89.5" r="0.3" fill="#857570" opacity="0.6"/><circle cx="53.5" cy="64.4" r="0.7" fill="#857570" opacity="0.6"/><circle cx="50.2" cy="28.4" r="0.6" fill="#6e5f5a" opacity="0.7"/><circle cx="61.3" cy="39.0" r="0.7" fill="#857570" opacity="0.8"/><circle cx="99.0" cy="67.5" r="0.3" fill="#9a8a84" opacity="0.5"/><circle cx="100.7" cy="114.0" r="0.7" fill="#9a8a84" opacity="0.6"/><circle cx="46.2" cy="64.6" r="0.6" fill="#6e5f5a" opacity="1.0"/><circle cx="103.3" cy="96.2" r="0.4" fill="#6e5f5a" opacity="0.7"/><circle cx="55.6" cy="11.7" r="0.4" fill="#6e5f5a" opacity="0.7"/><circle cx="96.0" cy="64.4" r="0.3" fill="#6e5f5a" opacity="0.5"/><circle cx="51.9" cy="41.6" r="0.3" fill="#4d403d" opacity="0.9"/><circle cx="118.0" cy="67.5" r="0.7" fill="#9a8a84" opacity="0.9"/><circle cx="21.6" cy="82.3" r="0.4" fill="#857570" opacity="0.8"/><circle cx="56.5" cy="70.9" r="0.4" fill="#9a8a84" opacity="0.8"/><circle cx="100.6" cy="87.1" r="0.3" fill="#4d403d" opacity="0.6"/><circle cx="36.8" cy="9.2" r="0.5" fill="#4d403d" opacity="0.9"/><circle cx="47.5" cy="23.8" r="0.6" fill="#6e5f5a" opacity="0.7"/><circle cx="34.2" cy="89.2" r="0.7" fill="#9a8a84" opacity="0.6"/><circle cx="49.5" cy="34.1" r="0.4" fill="#857570" opacity="0.5"/><circle cx="14.6" cy="74.5" r="0.4" fill="#4d403d" opacity="0.7"/><circle cx="40.0" cy="93.5" r="0.3" fill="#857570" opacity="0.7"/><circle cx="56.1" cy="30.8" r="0.3" fill="#857570" opacity="0.5"/><circle cx="53.8" cy="51.5" r="0.7" fill="#4d403d" opacity="0.8"/><circle cx="99.7" cy="19.4" r="0.6" fill="#857570" opacity="0.8"/><circle cx="54.7" cy="62.2" r="0.7" fill="#857570" opacity="0.8"/><circle cx="90.4" cy="106.4" r="0.7" fill="#4d403d" opacity="0.7"/><circle cx="88.1" cy="8.7" r="0.6" fill="#6e5f5a" opacity="0.5"/><circle cx="68.1" cy="118.2" r="0.6" fill="#857570" opacity="0.6"/><circle cx="25.3" cy="61.9" r="0.7" fill="#9a8a84" opacity="1.0"/><circle cx="20.2" cy="82.3" r="0.7" fill="#6e5f5a" opacity="0.5"/><circle cx="82.0" cy="83.1" r="0.4" fill="#6e5f5a" opacity="0.7"/><circle cx="30.8" cy="70.2" r="0.5" fill="#9a8a84" opacity="0.5"/><circle cx="68.6" cy="72.3" r="0.4" fill="#9a8a84" opacity="0.9"/><circle cx="65.1" cy="43.1" r="0.5" fill="#6e5f5a" opacity="0.6"/><circle cx="42.8" cy="54.2" r="0.7" fill="#4d403d" opacity="0.7"/><circle cx="14.7" cy="89.8" r="0.6" fill="#857570" opacity="0.7"/><circle cx="49.1" cy="70.9" r="0.5" fill="#4d403d" opacity="0.9"/><circle cx="113.6" cy="39.3" r="0.4" fill="#4d403d" opacity="1.0"/><circle cx="56.1" cy="94.4" r="0.6" fill="#4d403d" opacity="0.6"/><circle cx="43.7" cy="97.8" r="0.4" fill="#6e5f5a" opacity="0.5"/><circle cx="41.8" cy="99.6" r="0.3" fill="#4d403d" opacity="0.9"/><circle cx="59.3" cy="68.7" r="0.6" fill="#4d403d" opacity="0.9"/><circle cx="36.5" cy="30.4" r="0.4" fill="#4d403d" opacity="0.9"/><circle cx="31.8" cy="61.0" r="0.4" fill="#6e5f5a" opacity="0.6"/><circle cx="55.6" cy="44.1" r="0.7" fill="#857570" opacity="0.5"/><circle cx="23.0" cy="37.2" r="0.3" fill="#6e5f5a" opacity="0.6"/><circle cx="54.3" cy="52.3" r="0.7" fill="#4d403d" opacity="0.6"/><circle cx="54.2" cy="3.8" r="0.5" fill="#857570" opacity="0.8"/><circle cx="59.5" cy="103.6" r="0.7" fill="#9a8a84" opacity="0.8"/><circle cx="86.5" cy="53.5" r="0.5" fill="#6e5f5a" opacity="0.8"/><circle cx="54.9" cy="38.1" r="0.5" fill="#9a8a84" opacity="0.7"/><circle cx="103.6" cy="109.0" r="0.6" fill="#9a8a84" opacity="0.7"/><circle cx="107.7" cy="47.1" r="0.5" fill="#857570" opacity="0.7"/><circle cx="76.4" cy="112.9" r="0.3" fill="#4d403d" opacity="1.0"/><circle cx="42.2" cy="63.9" r="0.7" fill="#857570" opacity="1.0"/><circle cx="102.4" cy="67.8" r="0.5" fill="#4d403d" opacity="0.8"/><circle cx="53.3" cy="101.5" r="0.6" fill="#857570" opacity="0.7"/><circle cx="62.2" cy="36.1" r="0.6" fill="#857570" opacity="0.7"/><circle cx="59.6" cy="59.7" r="0.6" fill="#9a8a84" opacity="0.7"/><circle cx="98.0" cy="50.0" r="0.5" fill="#857570" opacity="0.5"/><circle cx="90.6" cy="100.1" r="0.5" fill="#6e5f5a" opacity="0.6"/><circle cx="48.5" cy="59.3" r="0.7" fill="#857570" opacity="0.9"/><circle cx="88.9" cy="51.4" r="0.3" fill="#4d403d" opacity="0.6"/><circle cx="67.8" cy="101.9" r="0.4" fill="#857570" opacity="0.5"/><circle cx="114.2" cy="43.0" r="0.4" fill="#6e5f5a" opacity="0.7"/><circle cx="78.9" cy="124.4" r="0.4" fill="#857570" opacity="0.7"/><circle cx="77.9" cy="36.0" r="0.4" fill="#6e5f5a" opacity="0.6"/><circle cx="60.2" cy="38.3" r="0.7" fill="#857570" opacity="0.5"/><circle cx="41.4" cy="62.2" r="0.5" fill="#6e5f5a" opacity="1.0"/><circle cx="104.6" cy="22.6" r="0.3" fill="#9a8a84" opacity="0.8"/><circle cx="101.9" cy="115.7" r="0.4" fill="#9a8a84" opacity="0.5"/><circle cx="100.6" cy="84.1" r="0.6" fill="#6e5f5a" opacity="0.6"/><circle cx="121.5" cy="67.8" r="0.6" fill="#6e5f5a" opacity="0.8"/><circle cx="105.4" cy="109.3" r="0.4" fill="#857570" opacity="0.8"/><circle cx="49.5" cy="94.0" r="0.5" fill="#857570" opacity="1.0"/><circle cx="93.4" cy="107.2" r="0.4" fill="#857570" opacity="0.7"/><circle cx="60.3" cy="58.8" r="0.7" fill="#857570" opacity="0.5"/><circle cx="116.3" cy="60.5" r="0.4" fill="#6e5f5a" opacity="0.8"/><circle cx="41.8" cy="40.2" r="0.6" fill="#9a8a84" opacity="0.7"/><circle cx="106.2" cy="38.9" r="0.7" fill="#4d403d" opacity="1.0"/><circle cx="6.3" cy="77.9" r="0.6" fill="#6e5f5a" opacity="0.9"/><circle cx="97.3" cy="109.0" r="0.7" fill="#6e5f5a" opacity="0.9"/><circle cx="93.6" cy="16.7" r="0.7" fill="#9a8a84" opacity="0.6"/><circle cx="117.8" cy="30.5" r="0.7" fill="#6e5f5a" opacity="0.5"/><circle cx="72.8" cy="66.2" r="0.6" fill="#4d403d" opacity="0.9"/><circle cx="88.3" cy="35.3" r="0.4" fill="#4d403d" opacity="0.7"/><circle cx="52.4" cy="22.0" r="0.5" fill="#4d403d" opacity="0.7"/><circle cx="73.6" cy="20.1" r="0.4" fill="#6e5f5a" opacity="0.5"/><circle cx="78.6" cy="47.4" r="0.5" fill="#4d403d" opacity="0.6"/><circle cx="65.4" cy="44.4" r="0.6" fill="#4d403d" opacity="0.9"/><circle cx="17.1" cy="61.8" r="0.5" fill="#6e5f5a" opacity="0.6"/><circle cx="72.9" cy="41.3" r="0.4" fill="#857570" opacity="0.7"/><circle cx="93.0" cy="115.0" r="0.5" fill="#857570" opacity="0.8"/><circle cx="55.7" cy="50.0" r="0.5" fill="#6e5f5a" opacity="0.5"/><circle cx="105.6" cy="104.1" r="0.3" fill="#6e5f5a" opacity="0.6"/><circle cx="93.6" cy="75.8" r="0.5" fill="#9a8a84" opacity="0.7"/><circle cx="72.2" cy="59.3" r="0.4" fill="#9a8a84" opacity="0.8"/><circle cx="54.1" cy="113.6" r="0.4" fill="#857570" opacity="0.5"/><circle cx="59.3" cy="75.3" r="0.7" fill="#6e5f5a" opacity="0.9"/><circle cx="63.4" cy="101.2" r="0.5" fill="#4d403d" opacity="0.9"/><circle cx="81.5" cy="58.1" r="0.4" fill="#6e5f5a" opacity="0.7"/><circle cx="72.6" cy="14.0" r="0.6" fill="#6e5f5a" opacity="1.0"/><circle cx="29.6" cy="91.0" r="0.7" fill="#857570" opacity="0.7"/><circle cx="80.3" cy="13.3" r="0.4" fill="#9a8a84" opacity="1.0"/><circle cx="49.4" cy="106.6" r="0.4" fill="#9a8a84" opacity="0.5"/><circle cx="60.6" cy="127.5" r="0.4" fill="#6e5f5a" opacity="0.9"/><circle cx="77.8" cy="22.1" r="0.6" fill="#857570" opacity="0.6"/><circle cx="104.1" cy="110.7" r="0.7" fill="#6e5f5a" opacity="0.6"/><circle cx="104.0" cy="30.4" r="0.7" fill="#4d403d" opacity="0.7"/><circle cx="52.3" cy="30.7" r="0.6" fill="#9a8a84" opacity="0.7"/><circle cx="51.8" cy="73.8" r="0.7" fill="#9a8a84" opacity="0.6"/><circle cx="71.8" cy="17.0" r="0.4" fill="#857570" opacity="0.7"/><circle cx="73.9" cy="105.5" r="0.7" fill="#9a8a84" opacity="0.9"/><circle cx="64.3" cy="65.9" r="0.4" fill="#857570" opacity="0.7"/><circle cx="99.5" cy="110.8" r="0.6" fill="#4d403d" opacity="0.9"/><circle cx="75.8" cy="81.4" r="0.6" fill="#4d403d" opacity="0.6"/><circle cx="84.5" cy="82.6" r="0.7" fill="#4d403d" opacity="0.9"/><circle cx="67.1" cy="88.2" r="0.4" fill="#6e5f5a" opacity="0.5"/><circle cx="29.7" cy="45.4" r="0.7" fill="#9a8a84" opacity="0.7"/><circle cx="18.2" cy="72.2" r="0.4" fill="#857570" opacity="0.8"/><circle cx="31.6" cy="108.7" r="0.5" fill="#857570" opacity="0.8"/><circle cx="45.2" cy="114.3" r="0.4" fill="#6e5f5a" opacity="0.5"/><circle cx="83.0" cy="10.2" r="0.5" fill="#4d403d" opacity="0.9"/><circle cx="74.9" cy="125.2" r="0.6" fill="#4d403d" opacity="0.6"/><circle cx="13.2" cy="91.0" r="0.4" fill="#4d403d" opacity="0.5"/><circle cx="35.9" cy="54.4" r="0.7" fill="#6e5f5a" opacity="0.7"/><circle cx="55.1" cy="98.2" r="0.6" fill="#857570" opacity="0.8"/><circle cx="108.2" cy="20.7" r="0.7" fill="#9a8a84" opacity="0.6"/><circle cx="33.5" cy="32.9" r="0.6" fill="#9a8a84" opacity="0.6"/><circle cx="64.0" cy="39.9" r="0.6" fill="#6e5f5a" opacity="0.7"/><circle cx="39.3" cy="101.2" r="0.7" fill="#857570" opacity="0.8"/><circle cx="97.0" cy="51.9" r="0.5" fill="#4d403d" opacity="0.6"/><circle cx="54.8" cy="77.1" r="0.6" fill="#9a8a84" opacity="0.6"/><circle cx="96.9" cy="79.0" r="0.5" fill="#9a8a84" opacity="0.8"/><circle cx="58.9" cy="63.3" r="0.6" fill="#6e5f5a" opacity="0.6"/><circle cx="86.6" cy="121.5" r="0.7" fill="#9a8a84" opacity="0.6"/><circle cx="69.9" cy="9.9" r="0.6" fill="#4d403d" opacity="1.0"/><circle cx="99.7" cy="83.7" r="0.7" fill="#6e5f5a" opacity="0.5"/><circle cx="70.1" cy="34.2" r="0.4" fill="#9a8a84" opacity="0.9"/><circle cx="107.0" cy="90.7" r="0.6" fill="#4d403d" opacity="0.6"/><circle cx="81.5" cy="106.0" r="0.7" fill="#9a8a84" opacity="0.6"/><circle cx="77.3" cy="49.5" r="0.6" fill="#9a8a84" opacity="0.5"/><circle cx="84.9" cy="92.6" r="0.4" fill="#9a8a84" opacity="0.5"/><circle cx="60.9" cy="74.1" r="0.6" fill="#4d403d" opacity="0.8"/><circle cx="67.2" cy="68.6" r="0.4" fill="#9a8a84" opacity="0.9"/><circle cx="91.8" cy="13.1" r="0.6" fill="#9a8a84" opacity="0.9"/><circle cx="28.5" cy="83.0" r="0.5" fill="#857570" opacity="0.6"/><circle cx="75.5" cy="53.7" r="0.6" fill="#9a8a84" opacity="0.7"/><circle cx="64.4" cy="27.8" r="0.4" fill="#4d403d" opacity="0.5"/><circle cx="85.2" cy="56.8" r="0.5" fill="#6e5f5a" opacity="0.7"/><circle cx="55.7" cy="46.9" r="0.5" fill="#857570" opacity="0.5"/><circle cx="107.3" cy="68.7" r="0.4" fill="#6e5f5a" opacity="1.0"/><circle cx="46.0" cy="115.7" r="0.6" fill="#857570" opacity="0.6"/><circle cx="30.5" cy="86.8" r="0.6" fill="#4d403d" opacity="0.8"/><circle cx="45.1" cy="34.0" r="0.4" fill="#9a8a84" opacity="0.5"/><circle cx="63.1" cy="90.6" r="0.6" fill="#4d403d" opacity="0.8"/><circle cx="91.7" cy="45.9" r="0.4" fill="#6e5f5a" opacity="0.6"/><circle cx="9.4" cy="76.6" r="0.6" fill="#4d403d" opacity="1.0"/><circle cx="60.0" cy="83.4" r="0.7" fill="#6e5f5a" opacity="0.5"/><circle cx="37.3" cy="115.8" r="0.5" fill="#9a8a84" opacity="0.8"/><circle cx="100.4" cy="22.5" r="0.3" fill="#4d403d" opacity="0.7"/><circle cx="66.9" cy="44.8" r="0.6" fill="#9a8a84" opacity="0.5"/><circle cx="103.8" cy="66.8" r="0.5" fill="#6e5f5a" opacity="1.0"/><circle cx="102.9" cy="41.8" r="0.6" fill="#857570" opacity="0.9"/><circle cx="40.0" cy="75.1" r="0.6" fill="#6e5f5a" opacity="0.9"/><circle cx="71.5" cy="44.7" r="0.5" fill="#4d403d" opacity="0.8"/><circle cx="24.4" cy="110.7" r="0.5" fill="#9a8a84" opacity="0.9"/><circle cx="19.5" cy="41.8" r="0.7" fill="#857570" opacity="0.8"/><circle cx="53.4" cy="71.0" r="0.6" fill="#4d403d" opacity="1.0"/><circle cx="42.6" cy="53.2" r="0.4" fill="#6e5f5a" opacity="0.5"/><circle cx="43.5" cy="113.1" r="0.7" fill="#857570" opacity="0.8"/><circle cx="51.3" cy="79.9" r="0.6" fill="#4d403d" opacity="0.6"/><circle cx="14.2" cy="53.8" r="0.6" fill="#857570" opacity="0.6"/><circle cx="85.0" cy="42.4" r="0.6" fill="#857570" opacity="0.9"/><circle cx="100.2" cy="102.2" r="0.5" fill="#9a8a84" opacity="0.6"/><circle cx="85.1" cy="67.8" r="0.4" fill="#4d403d" opacity="0.6"/><circle cx="121.7" cy="50.2" r="0.4" fill="#4d403d" opacity="0.7"/><circle cx="32.9" cy="38.7" r="0.6" fill="#6e5f5a" opacity="0.5"/><circle cx="95.5" cy="30.9" r="0.7" fill="#857570" opacity="0.6"/><circle cx="96.3" cy="29.6" r="0.5" fill="#857570" opacity="0.5"/><circle cx="48.6" cy="114.3" r="0.4" fill="#857570" opacity="0.8"/><circle cx="108.4" cy="54.0" r="0.6" fill="#6e5f5a" opacity="0.8"/><circle cx="112.0" cy="69.9" r="0.7" fill="#9a8a84" opacity="0.9"/><circle cx="13.6" cy="87.7" r="0.7" fill="#6e5f5a" opacity="0.7"/><circle cx="53.4" cy="24.1" r="0.7" fill="#6e5f5a" opacity="0.7"/><circle cx="58.8" cy="49.9" r="0.7" fill="#6e5f5a" opacity="0.5"/><circle cx="89.8" cy="39.2" r="0.6" fill="#6e5f5a" opacity="0.7"/><circle cx="66.8" cy="105.9" r="0.7" fill="#9a8a84" opacity="0.5"/><circle cx="69.0" cy="78.9" r="0.7" fill="#857570" opacity="1.0"/><circle cx="36.5" cy="78.5" r="0.3" fill="#4d403d" opacity="1.0"/><circle cx="67.2" cy="72.9" r="0.3" fill="#857570" opacity="0.9"/><circle cx="24.6" cy="103.6" r="0.4" fill="#4d403d" opacity="0.6"/><circle cx="23.8" cy="23.8" r="0.7" fill="#9a8a84" opacity="0.7"/><circle cx="19.6" cy="94.2" r="0.7" fill="#4d403d" opacity="0.7"/><circle cx="99.4" cy="21.1" r="0.7" fill="#9a8a84" opacity="0.7"/><circle cx="77.7" cy="66.3" r="0.5" fill="#6e5f5a" opacity="0.7"/><circle cx="70.7" cy="33.6" r="0.4" fill="#6e5f5a" opacity="0.8"/><circle cx="25.2" cy="28.3" r="0.5" fill="#6e5f5a" opacity="0.5"/><circle cx="47.2" cy="25.9" r="0.4" fill="#857570" opacity="0.9"/><circle cx="95.5" cy="112.7" r="0.5" fill="#857570" opacity="0.6"/><circle cx="42.0" cy="38.5" r="0.5" fill="#6e5f5a" opacity="0.6"/><circle cx="116.1" cy="57.8" r="0.4" fill="#9a8a84" opacity="0.7"/><circle cx="119.4" cy="86.9" r="0.4" fill="#9a8a84" opacity="0.9"/><circle cx="61.8" cy="49.6" r="0.6" fill="#4d403d" opacity="0.9"/><circle cx="47.4" cy="33.2" r="0.7" fill="#857570" opacity="0.5"/><circle cx="75.0" cy="58.7" r="0.5" fill="#6e5f5a" opacity="0.6"/><circle cx="74.1" cy="3.4" r="0.6" fill="#857570" opacity="0.6"/><circle cx="83.6" cy="113.3" r="0.4" fill="#857570" opacity="0.7"/><circle cx="96.7" cy="105.1" r="0.7" fill="#4d403d" opacity="0.8"/><circle cx="63.9" cy="86.5" r="0.5" fill="#4d403d" opacity="0.5"/><circle cx="24.2" cy="102.6" r="0.5" fill="#4d403d" opacity="0.5"/><circle cx="122.5" cy="79.1" r="0.5" fill="#9a8a84" opacity="0.6"/><circle cx="62.5" cy="108.7" r="0.7" fill="#6e5f5a" opacity="0.5"/><circle cx="11.5" cy="49.4" r="0.5" fill="#4d403d" opacity="0.8"/><circle cx="70.9" cy="114.7" r="0.4" fill="#4d403d" opacity="0.8"/><circle cx="59.0" cy="84.8" r="0.7" fill="#9a8a84" opacity="0.8"/><circle cx="117.2" cy="76.0" r="0.6" fill="#6e5f5a" opacity="0.6"/><circle cx="122.1" cy="71.0" r="0.6" fill="#9a8a84" opacity="0.8"/><circle cx="18.9" cy="105.6" r="0.7" fill="#6e5f5a" opacity="0.9"/><circle cx="120.4" cy="61.4" r="0.5" fill="#4d403d" opacity="0.7"/><circle cx="41.7" cy="94.5" r="0.4" fill="#4d403d" opacity="0.7"/><circle cx="98.6" cy="79.8" r="0.4" fill="#4d403d" opacity="0.9"/><circle cx="74.0" cy="35.9" r="0.7" fill="#6e5f5a" opacity="0.6"/><circle cx="37.7" cy="14.8" r="0.7" fill="#857570" opacity="1.0"/><circle cx="25.5" cy="49.2" r="0.4" fill="#9a8a84" opacity="0.6"/><circle cx="37.8" cy="14.9" r="0.4" fill="#857570" opacity="0.9"/><circle cx="49.8" cy="89.4" r="0.6" fill="#857570" opacity="0.8"/><circle cx="22.4" cy="93.9" r="0.4" fill="#4d403d" opacity="0.8"/><circle cx="54.8" cy="64.2" r="0.7" fill="#4d403d" opacity="0.7"/><circle cx="39.6" cy="44.6" r="0.6" fill="#4d403d" opacity="0.5"/><circle cx="64.4" cy="88.8" r="0.7" fill="#9a8a84" opacity="0.8"/><circle cx="24.5" cy="17.7" r="0.4" fill="#6e5f5a" opacity="0.5"/><circle cx="16.5" cy="102.7" r="0.7" fill="#9a8a84" opacity="0.5"/><circle cx="100.6" cy="23.8" r="0.6" fill="#857570" opacity="0.5"/><circle cx="80.7" cy="41.5" r="0.7" fill="#4d403d" opacity="0.5"/><circle cx="96.8" cy="98.5" r="0.6" fill="#9a8a84" opacity="0.7"/><circle cx="37.6" cy="64.8" r="0.7" fill="#4d403d" opacity="0.8"/><circle cx="104.8" cy="44.2" r="0.4" fill="#4d403d" opacity="0.8"/><circle cx="89.9" cy="58.1" r="0.7" fill="#857570" opacity="0.7"/><circle cx="103.2" cy="21.3" r="0.6" fill="#857570" opacity="0.7"/><circle cx="42.0" cy="53.8" r="0.5" fill="#4d403d" opacity="0.8"/><circle cx="77.1" cy="12.3" r="0.4" fill="#857570" opacity="0.8"/><circle cx="65.6" cy="68.8" r="0.7" fill="#6e5f5a" opacity="0.5"/><circle cx="114.5" cy="36.2" r="0.7" fill="#9a8a84" opacity="0.6"/><circle cx="13.0" cy="32.0" r="0.6" fill="#857570" opacity="1.0"/><circle cx="95.0" cy="22.4" r="0.7" fill="#9a8a84" opacity="1.0"/><circle cx="35.9" cy="25.3" r="0.5" fill="#4d403d" opacity="0.9"/><circle cx="86.4" cy="117.0" r="0.4" fill="#857570" opacity="0.7"/><circle cx="81.1" cy="34.5" r="0.4" fill="#4d403d" opacity="0.8"/><circle cx="89.4" cy="103.1" r="0.6" fill="#4d403d" opacity="0.5"/><circle cx="40.6" cy="115.5" r="0.4" fill="#4d403d" opacity="0.5"/><circle cx="27.6" cy="67.8" r="0.6" fill="#6e5f5a" opacity="1.0"/><circle cx="17.7" cy="61.3" r="0.3" fill="#6e5f5a" opacity="0.5"/><circle cx="91.1" cy="81.2" r="0.7" fill="#9a8a84" opacity="0.5"/><circle cx="93.9" cy="34.9" r="0.3" fill="#857570" opacity="0.9"/><circle cx="73.0" cy="4.6" r="0.7" fill="#9a8a84" opacity="0.6"/><circle cx="60.1" cy="81.1" r="0.5" fill="#6e5f5a" opacity="0.8"/><circle cx="123.6" cy="48.9" r="0.4" fill="#6e5f5a" opacity="1.0"/><circle cx="25.4" cy="73.0" r="0.5" fill="#4d403d" opacity="0.9"/><circle cx="60.9" cy="118.8" r="0.7" fill="#6e5f5a" opacity="0.6"/><circle cx="108.4" cy="101.3" r="0.3" fill="#4d403d" opacity="0.8"/><circle cx="73.2" cy="65.7" r="0.5" fill="#4d403d" opacity="0.8"/><circle cx="71.7" cy="35.0" r="0.5" fill="#9a8a84" opacity="0.6"/><circle cx="54.3" cy="27.4" r="0.6" fill="#857570" opacity="0.6"/><circle cx="92.0" cy="38.4" r="0.6" fill="#857570" opacity="1.0"/><circle cx="40.4" cy="108.3" r="0.6" fill="#6e5f5a" opacity="0.9"/><circle cx="120.2" cy="61.2" r="0.4" fill="#6e5f5a" opacity="0.7"/><circle cx="105.1" cy="65.5" r="0.7" fill="#4d403d" opacity="0.8"/><circle cx="78.8" cy="55.6" r="0.3" fill="#857570" opacity="0.9"/><circle cx="110.9" cy="36.5" r="0.5" fill="#9a8a84" opacity="0.5"/><circle cx="31.3" cy="59.2" r="0.6" fill="#6e5f5a" opacity="0.9"/><circle cx="111.3" cy="105.9" r="0.4" fill="#857570" opacity="0.8"/><circle cx="45.6" cy="62.2" r="0.5" fill="#857570" opacity="0.7"/><circle cx="37.7" cy="48.1" r="0.6" fill="#857570" opacity="0.5"/><circle cx="105.4" cy="96.7" r="0.5" fill="#6e5f5a" opacity="0.5"/><circle cx="22.3" cy="62.8" r="0.4" fill="#4d403d" opacity="0.6"/><circle cx="69.3" cy="59.4" r="0.4" fill="#6e5f5a" opacity="0.7"/><circle cx="23.6" cy="50.9" r="0.5" fill="#4d403d" opacity="0.8"/><circle cx="95.9" cy="89.9" r="0.3" fill="#9a8a84" opacity="0.8"/><circle cx="36.2" cy="19.1" r="0.4" fill="#9a8a84" opacity="0.7"/><circle cx="104.9" cy="24.3" r="0.4" fill="#9a8a84" opacity="0.6"/><circle cx="34.1" cy="108.0" r="0.5" fill="#4d403d" opacity="0.5"/><circle cx="84.0" cy="49.7" r="0.6" fill="#9a8a84" opacity="0.5"/><circle cx="98.6" cy="37.0" r="0.7" fill="#6e5f5a" opacity="1.0"/><circle cx="78.8" cy="77.8" r="0.6" fill="#9a8a84" opacity="1.0"/><circle cx="70.2" cy="6.8" r="0.4" fill="#4d403d" opacity="0.6"/><circle cx="82.2" cy="12.3" r="0.7" fill="#6e5f5a" opacity="0.6"/><circle cx="112.5" cy="85.9" r="0.5" fill="#4d403d" opacity="0.8"/><circle cx="79.0" cy="108.6" r="0.4" fill="#6e5f5a" opacity="0.9"/><circle cx="58.8" cy="120.3" r="0.4" fill="#9a8a84" opacity="1.0"/><circle cx="62.2" cy="105.4" r="0.6" fill="#4d403d" opacity="0.7"/><circle cx="99.2" cy="47.9" r="0.5" fill="#857570" opacity="0.7"/><circle cx="122.9" cy="43.3" r="0.6" fill="#857570" opacity="0.7"/><circle cx="84.4" cy="19.9" r="0.7" fill="#4d403d" opacity="0.7"/><circle cx="80.6" cy="74.0" r="0.4" fill="#6e5f5a" opacity="0.9"/><circle cx="56.8" cy="69.5" r="0.5" fill="#9a8a84" opacity="0.7"/><circle cx="89.3" cy="84.7" r="0.4" fill="#4d403d" opacity="0.8"/><circle cx="64.7" cy="73.2" r="0.5" fill="#857570" opacity="0.6"/><circle cx="48.9" cy="93.3" r="0.5" fill="#6e5f5a" opacity="1.0"/><circle cx="114.4" cy="48.5" r="0.7" fill="#9a8a84" opacity="0.9"/><circle cx="19.1" cy="82.9" r="0.7" fill="#857570" opacity="0.9"/><circle cx="39.8" cy="43.5" r="0.7" fill="#4d403d" opacity="0.6"/><circle cx="66.8" cy="68.0" r="0.4" fill="#857570" opacity="0.9"/><circle cx="87.9" cy="7.6" r="0.3" fill="#6e5f5a" opacity="1.0"/><circle cx="81.7" cy="49.0" r="0.4" fill="#4d403d" opacity="0.7"/><circle cx="7.5" cy="61.5" r="0.6" fill="#9a8a84" opacity="0.7"/><circle cx="61.3" cy="113.4" r="0.5" fill="#857570" opacity="0.6"/><circle cx="4.6" cy="50.1" r="0.5" fill="#6e5f5a" opacity="0.5"/><circle cx="109.9" cy="37.1" r="0.4" fill="#6e5f5a" opacity="0.6"/><circle cx="67.7" cy="43.7" r="0.5" fill="#857570" opacity="0.6"/><circle cx="103.0" cy="48.4" r="0.4" fill="#6e5f5a" opacity="0.7"/><circle cx="84.9" cy="119.2" r="0.5" fill="#4d403d" opacity="0.7"/><circle cx="6.5" cy="77.1" r="0.4" fill="#6e5f5a" opacity="0.9"/><circle cx="49.2" cy="38.6" r="0.5" fill="#4d403d" opacity="0.5"/><circle cx="86.1" cy="106.0" r="0.4" fill="#857570" opacity="0.6"/><circle cx="100.9" cy="85.6" r="0.7" fill="#857570" opacity="0.9"/><circle cx="58.0" cy="69.0" r="0.4" fill="#4d403d" opacity="0.9"/><circle cx="71.1" cy="12.9" r="0.4" fill="#4d403d" opacity="0.9"/><circle cx="66.9" cy="85.3" r="0.6" fill="#ffffff" opacity="0.5"/><circle cx="111.5" cy="70.9" r="0.5" fill="#ffffff" opacity="0.6"/><circle cx="32.8" cy="57.5" r="0.5" fill="#ffffff" opacity="0.6"/><circle cx="74.6" cy="61.6" r="0.7" fill="#ffffff" opacity="0.8"/><circle cx="77.3" cy="98.0" r="0.7" fill="#ffffff" opacity="0.5"/><circle cx="24.4" cy="33.2" r="0.7" fill="#ffffff" opacity="0.6"/><circle cx="53.6" cy="125.3" r="0.8" fill="#ffffff" opacity="0.5"/><circle cx="51.3" cy="116.2" r="0.6" fill="#ffffff" opacity="0.7"/><circle cx="31.4" cy="41.0" r="0.5" fill="#ffffff" opacity="0.6"/><circle cx="70.4" cy="47.9" r="0.6" fill="#ffffff" opacity="0.7"/><circle cx="33.5" cy="22.8" r="0.5" fill="#ffffff" opacity="0.5"/><circle cx="108.1" cy="39.1" r="0.6" fill="#ffffff" opacity="0.6"/><circle cx="64.4" cy="29.4" r="0.7" fill="#ffffff" opacity="0.5"/><circle cx="93.1" cy="76.5" r="0.8" fill="#ffffff" opacity="0.5"/><circle cx="96.3" cy="51.5" r="0.4" fill="#ffffff" opacity="0.8"/><circle cx="114.0" cy="27.6" r="0.8" fill="#ffffff" opacity="0.5"/><circle cx="50.1" cy="125.3" r="0.8" fill="#ffffff" opacity="0.8"/><circle cx="100.6" cy="27.1" r="0.4" fill="#ffffff" opacity="0.9"/><circle cx="56.9" cy="95.6" r="0.7" fill="#ffffff" opacity="0.6"/><circle cx="78.4" cy="65.9" r="0.5" fill="#ffffff" opacity="0.9"/><circle cx="27.4" cy="46.9" r="0.5" fill="#ffffff" opacity="0.5"/><circle cx="115.2" cy="85.7" r="0.7" fill="#ffffff" opacity="0.7"/><circle cx="19.0" cy="51.3" r="0.6" fill="#ffffff" opacity="0.5"/><circle cx="10.5" cy="55.0" r="0.6" fill="#ffffff" opacity="0.7"/><circle cx="67.2" cy="105.5" r="0.4" fill="#ffffff" opacity="0.7"/><circle cx="40.3" cy="32.1" r="0.5" fill="#ffffff" opacity="0.5"/><circle cx="64.2" cy="96.2" r="0.5" fill="#ffffff" opacity="0.7"/><circle cx="62.5" cy="101.0" r="0.8" fill="#ffffff" opacity="0.7"/><circle cx="105.1" cy="62.7" r="0.9" fill="#ffffff" opacity="0.7"/><circle cx="89.3" cy="81.1" r="0.8" fill="#ffffff" opacity="0.6"/><circle cx="33.9" cy="18.1" r="0.7" fill="#ffffff" opacity="0.7"/><circle cx="35.7" cy="21.9" r="0.5" fill="#ffffff" opacity="0.9"/><circle cx="120.6" cy="93.1" r="0.9" fill="#ffffff" opacity="0.5"/><circle cx="83.3" cy="51.7" r="0.9" fill="#ffffff" opacity="0.8"/><circle cx="48.7" cy="25.3" r="0.6" fill="#ffffff" opacity="0.9"/><circle cx="65.8" cy="68.6" r="0.9" fill="#ffffff" opacity="0.7"/><circle cx="63.3" cy="104.8" r="0.8" fill="#ffffff" opacity="0.9"/><circle cx="8.9" cy="46.6" r="0.5" fill="#ffffff" opacity="0.8"/><circle cx="13.5" cy="43.8" r="0.9" fill="#ffffff" opacity="0.5"/><circle cx="112.6" cy="75.5" r="0.6" fill="#ffffff" opacity="0.7"/><circle cx="89.5" cy="94.2" r="0.8" fill="#ffffff" opacity="0.6"/><circle cx="55.2" cy="79.2" r="0.9" fill="#ffffff" opacity="0.7"/><circle cx="73.3" cy="30.9" r="0.5" fill="#ffffff" opacity="0.8"/><circle cx="50.9" cy="75.4" r="0.9" fill="#ffffff" opacity="0.7"/><circle cx="11.6" cy="88.7" r="0.8" fill="#ffffff" opacity="0.8"/><circle cx="112.0" cy="46.8" r="0.9" fill="#ffffff" opacity="0.7"/><circle cx="72.8" cy="40.5" r="0.8" fill="#ffffff" opacity="0.8"/><circle cx="38.0" cy="117.0" r="0.5" fill="#ffffff" opacity="0.8"/><circle cx="100.3" cy="66.3" r="0.7" fill="#ffffff" opacity="0.8"/><circle cx="28.2" cy="38.0" r="0.7" fill="#ffffff" opacity="0.8"/><circle cx="30.7" cy="108.4" r="0.9" fill="#ffffff" opacity="0.8"/><circle cx="37.8" cy="42.7" r="0.9" fill="#ffffff" opacity="0.8"/><circle cx="9.6" cy="39.7" r="0.7" fill="#ffffff" opacity="0.7"/><circle cx="43.0" cy="73.5" r="0.8" fill="#ffffff" opacity="0.9"/><circle cx="42.8" cy="100.2" r="0.7" fill="#ffffff" opacity="0.6"/><circle cx="91.1" cy="54.7" r="0.8" fill="#ffffff" opacity="0.5"/><circle cx="28.5" cy="17.5" r="0.6" fill="#ffffff" opacity="0.6"/><circle cx="62.1" cy="74.2" r="0.4" fill="#ffffff" opacity="0.8"/><circle cx="86.8" cy="7.4" r="0.5" fill="#ffffff" opacity="0.8"/><circle cx="82.6" cy="64.3" r="0.9" fill="#ffffff" opacity="0.6"/><circle cx="6.2" cy="72.9" r="0.5" fill="#ffffff" opacity="0.8"/><circle cx="42.5" cy="10.3" r="0.5" fill="#ffffff" opacity="0.8"/><circle cx="54.0" cy="93.3" r="0.6" fill="#ffffff" opacity="0.9"/><circle cx="32.8" cy="88.5" r="0.8" fill="#ffffff" opacity="0.7"/><circle cx="38.2" cy="48.5" r="0.8" fill="#ffffff" opacity="0.8"/><circle cx="36.5" cy="40.0" r="0.9" fill="#ffffff" opacity="0.6"/><circle cx="121.8" cy="90.8" r="0.9" fill="#ffffff" opacity="0.7"/><circle cx="57.8" cy="82.7" r="0.5" fill="#ffffff" opacity="0.8"/><circle cx="16.6" cy="72.2" r="0.4" fill="#ffffff" opacity="0.5"/><circle cx="74.3" cy="75.2" r="0.6" fill="#ffffff" opacity="0.5"/><circle cx="66.7" cy="119.8" r="0.5" fill="#ffffff" opacity="0.5"/><circle cx="57.5" cy="123.8" r="0.7" fill="#ffffff" opacity="0.8"/><circle cx="30.5" cy="14.1" r="0.8" fill="#ffffff" opacity="0.7"/><circle cx="46.5" cy="14.7" r="0.7" fill="#ffffff" opacity="0.6"/><circle cx="89.6" cy="28.7" r="0.4" fill="#ffffff" opacity="0.6"/><circle cx="99.9" cy="36.2" r="0.7" fill="#ffffff" opacity="0.8"/><circle cx="46.5" cy="99.7" r="0.6" fill="#ffffff" opacity="0.6"/><circle cx="49.5" cy="34.0" r="0.8" fill="#ffffff" opacity="0.6"/><circle cx="98.3" cy="18.5" r="0.5" fill="#ffffff" opacity="0.7"/><circle cx="59.8" cy="38.5" r="0.8" fill="#ffffff" opacity="0.6"/><circle cx="86.6" cy="105.7" r="0.5" fill="#ffffff" opacity="0.7"/><circle cx="94.7" cy="46.7" r="0.7" fill="#ffffff" opacity="0.7"/><circle cx="113.9" cy="76.7" r="0.5" fill="#ffffff" opacity="0.8"/><circle cx="8.1" cy="73.2" r="0.8" fill="#ffffff" opacity="0.9"/><circle cx="111.5" cy="28.2" r="0.7" fill="#ffffff" opacity="0.7"/><circle cx="3.3" cy="54.5" r="0.6" fill="#ffffff" opacity="0.6"/><circle cx="108.9" cy="77.3" r="0.8" fill="#ffffff" opacity="0.5"/><circle cx="48.7" cy="32.4" r="0.7" fill="#ffffff" opacity="0.8"/><circle cx="111.5" cy="106.9" r="0.8" fill="#ffffff" opacity="0.5"/><circle cx="70.0" cy="97.8" r="0.9" fill="#ffffff" opacity="0.5"/><circle cx="55.7" cy="37.5" r="0.5" fill="#ffffff" opacity="0.8"/><circle cx="53.4" cy="102.6" r="0.7" fill="#ffffff" opacity="0.6"/><circle cx="49.2" cy="65.7" r="0.7" fill="#ffffff" opacity="0.7"/><circle cx="59.2" cy="93.2" r="0.8" fill="#ffffff" opacity="0.6"/><circle cx="124.2" cy="71.8" r="0.9" fill="#ffffff" opacity="0.6"/><circle cx="116.7" cy="31.7" r="0.9" fill="#ffffff" opacity="0.6"/><circle cx="41.8" cy="43.2" r="0.7" fill="#ffffff" opacity="0.7"/><circle cx="24.9" cy="32.3" r="0.7" fill="#ffffff" opacity="0.5"/><circle cx="90.7" cy="62.9" r="0.4" fill="#ffffff" opacity="0.9"/><circle cx="64.4" cy="94.4" r="0.7" fill="#ffffff" opacity="0.8"/><circle cx="112.7" cy="67.5" r="0.5" fill="#ffffff" opacity="0.6"/><circle cx="76.9" cy="47.3" r="0.9" fill="#ffffff" opacity="0.8"/><circle cx="43.8" cy="53.0" r="0.8" fill="#ffffff" opacity="0.9"/><circle cx="64.0" cy="10.2" r="0.8" fill="#ffffff" opacity="0.6"/><circle cx="23.4" cy="37.3" r="0.8" fill="#ffffff" opacity="0.9"/><circle cx="93.8" cy="111.8" r="0.4" fill="#ffffff" opacity="0.9"/><circle cx="40.0" cy="7.9" r="0.4" fill="#ffffff" opacity="0.8"/><circle cx="36.6" cy="14.7" r="0.5" fill="#ffffff" opacity="0.8"/><circle cx="27.0" cy="95.7" r="0.6" fill="#ffffff" opacity="0.6"/><circle cx="62.8" cy="7.4" r="0.8" fill="#ffffff" opacity="0.6"/><circle cx="43.5" cy="91.8" r="0.6" fill="#ffffff" opacity="0.9"/><circle cx="47.9" cy="30.0" r="0.7" fill="#ffffff" opacity="0.9"/><circle cx="78.7" cy="99.8" r="0.9" fill="#ffffff" opacity="0.5"/><circle cx="90.5" cy="88.3" r="0.7" fill="#ffffff" opacity="0.9"/><circle cx="52.3" cy="65.3" r="0.6" fill="#ffffff" opacity="0.6"/><circle cx="114.7" cy="63.6" r="0.6" fill="#ffffff" opacity="0.7"/><circle cx="72.2" cy="73.3" r="0.8" fill="#ffffff" opacity="0.6"/><circle cx="41.5" cy="107.8" r="0.4" fill="#ffffff" opacity="0.7"/><circle cx="110.3" cy="57.6" r="0.5" fill="#ffffff" opacity="0.7"/><circle cx="21.5" cy="33.7" r="0.4" fill="#ffffff" opacity="0.6"/><circle cx="22.3" cy="39.7" r="0.5" fill="#ffffff" opacity="0.6"/><circle cx="62.2" cy="18.8" r="0.6" fill="#ffffff" opacity="0.9"/><circle cx="91.7" cy="21.3" r="0.7" fill="#ffffff" opacity="0.6"/><circle cx="41.5" cy="104.9" r="0.7" fill="#ffffff" opacity="0.7"/><circle cx="91.9" cy="29.8" r="0.8" fill="#ffffff" opacity="0.9"/><circle cx="13.4" cy="29.6" r="0.5" fill="#ffffff" opacity="0.7"/><circle cx="119.3" cy="83.2" r="0.8" fill="#ffffff" opacity="0.8"/><circle cx="120.3" cy="81.9" r="0.5" fill="#ffffff" opacity="0.6"/><circle cx="105.8" cy="80.4" r="0.8" fill="#ffffff" opacity="0.8"/><circle cx="68.1" cy="19.3" r="0.8" fill="#ffffff" opacity="0.9"/><circle cx="55.5" cy="104.7" r="0.4" fill="#ffffff" opacity="0.5"/><circle cx="48.8" cy="72.4" r="0.6" fill="#ffffff" opacity="0.6"/><circle cx="100.0" cy="14.2" r="0.8" fill="#ffffff" opacity="0.8"/><circle cx="64.7" cy="47.2" r="0.4" fill="#ffffff" opacity="0.9"/><circle cx="19.7" cy="59.4" r="0.4" fill="#ffffff" opacity="0.8"/><circle cx="34.3" cy="32.2" r="0.7" fill="#ffffff" opacity="0.5"/><circle cx="43.7" cy="74.2" r="0.5" fill="#ffffff" opacity="0.7"/><circle cx="53.4" cy="45.3" r="0.7" fill="#ffffff" opacity="0.7"/><circle cx="78.2" cy="65.5" r="0.5" fill="#ffffff" opacity="0.8"/><circle cx="13.4" cy="31.0" r="0.5" fill="#ffffff" opacity="0.7"/><circle cx="65.9" cy="115.0" r="0.5" fill="#ffffff" opacity="0.9"/><circle cx="56.2" cy="60.2" r="0.7" fill="#ffffff" opacity="0.6"/><circle cx="24.3" cy="40.2" r="0.7" fill="#ffffff" opacity="0.9"/><circle cx="78.4" cy="86.6" r="0.9" fill="#ffffff" opacity="0.8"/><circle cx="16.6" cy="54.8" r="0.5" fill="#ffffff" opacity="0.6"/><circle cx="101.9" cy="22.5" r="0.6" fill="#ffffff" opacity="0.6"/><circle cx="117.0" cy="100.7" r="0.4" fill="#ffffff" opacity="0.5"/><circle cx="120.4" cy="44.4" r="0.7" fill="#ffffff" opacity="0.6"/><circle cx="66.9" cy="127.1" r="0.6" fill="#ffffff" opacity="0.8"/><circle cx="104.4" cy="51.9" r="0.7" fill="#ffffff" opacity="0.8"/><circle cx="77.3" cy="73.5" r="0.4" fill="#ffffff" opacity="0.7"/><circle cx="61.3" cy="18.1" r="0.9" fill="#ffffff" opacity="0.7"/><circle cx="81.7" cy="49.2" r="0.6" fill="#ffffff" opacity="0.8"/><circle cx="25.5" cy="45.6" r="0.9" fill="#ffffff" opacity="0.7"/><circle cx="86.1" cy="78.7" r="0.6" fill="#ffffff" opacity="0.8"/><circle cx="81.8" cy="76.0" r="0.5" fill="#ffffff" opacity="0.8"/><circle cx="68.1" cy="5.9" r="0.6" fill="#ffffff" opacity="0.9"/><circle cx="17.2" cy="101.8" r="0.5" fill="#ffffff" opacity="0.9"/><circle cx="122.2" cy="57.9" r="0.8" fill="#ffffff" opacity="0.9"/><circle cx="44.8" cy="87.3" r="0.8" fill="#ffffff" opacity="0.9"/></g>
</svg><div class="n"><span>03</span></div></div>
<div class="c" style="left:537.0px;top:184.5px;"><svg width="131" height="131" viewBox="-0.4 -0.4 131 131"><defs>
<radialGradient id="g4a" cx="55%" cy="55%" r="62%">
<stop offset="0" stop-color="#f5707b"/><stop offset="0.6" stop-color="#f5707b"/><stop offset="1" stop-color="#f67d86"/></radialGradient>
<radialGradient id="g4l" cx="22%" cy="22%" r="58%">
<stop offset="0" stop-color="#f9a9ad" stop-opacity="0.9"/><stop offset="0.5" stop-color="#f9a9ad" stop-opacity="0.45"/><stop offset="1" stop-color="#f9a9ad" stop-opacity="0"/></radialGradient>
<filter id="g4b"><feGaussianBlur stdDeviation="0.7"/></filter>
</defs>
<circle cx="65.1" cy="65.1" r="65.1" fill="url(#g4a)"/>
<circle cx="65.1" cy="65.1" r="65.1" fill="url(#g4l)"/>
<g filter="url(#g4b)"><circle cx="20.7" cy="78.8" r="2.3" fill="#ffd6d8" opacity="0.18"/><circle cx="17.6" cy="62.8" r="1.1" fill="#ffd6d8" opacity="0.19"/><circle cx="27.2" cy="24.8" r="1.0" fill="#ffd6d8" opacity="0.15"/><circle cx="60.7" cy="53.2" r="2.4" fill="#ffd6d8" opacity="0.27"/><circle cx="37.4" cy="25.0" r="1.1" fill="#ffd6d8" opacity="0.10"/><circle cx="50.2" cy="62.4" r="1.1" fill="#ffd6d8" opacity="0.14"/><circle cx="12.0" cy="85.9" r="1.6" fill="#ffd6d8" opacity="0.22"/><circle cx="14.6" cy="65.2" r="1.5" fill="#ffd6d8" opacity="0.15"/><circle cx="93.2" cy="21.0" r="1.3" fill="#ffd6d8" opacity="0.14"/><circle cx="69.1" cy="26.0" r="2.2" fill="#ffd6d8" opacity="0.17"/><circle cx="70.8" cy="33.4" r="0.9" fill="#ffd6d8" opacity="0.16"/><circle cx="72.7" cy="40.1" r="1.7" fill="#ffd6d8" opacity="0.18"/><circle cx="70.2" cy="29.8" r="1.3" fill="#ffd6d8" opacity="0.11"/><circle cx="13.5" cy="39.0" r="1.1" fill="#ffd6d8" opacity="0.13"/><circle cx="61.1" cy="5.0" r="1.1" fill="#ffd6d8" opacity="0.27"/><circle cx="37.5" cy="45.9" r="1.1" fill="#ffd6d8" opacity="0.23"/><circle cx="11.7" cy="44.2" r="1.8" fill="#ffd6d8" opacity="0.15"/><circle cx="44.9" cy="55.2" r="1.4" fill="#ffd6d8" opacity="0.26"/><circle cx="48.0" cy="20.8" r="1.0" fill="#ffd6d8" opacity="0.11"/><circle cx="46.6" cy="7.0" r="0.8" fill="#ffd6d8" opacity="0.21"/><circle cx="12.4" cy="71.0" r="1.3" fill="#ffd6d8" opacity="0.28"/><circle cx="60.3" cy="6.4" r="2.0" fill="#ffd6d8" opacity="0.23"/><circle cx="81.1" cy="7.9" r="1.4" fill="#ffd6d8" opacity="0.22"/><circle cx="17.2" cy="92.6" r="2.2" fill="#ffd6d8" opacity="0.20"/><circle cx="37.9" cy="38.0" r="1.7" fill="#ffd6d8" opacity="0.21"/><circle cx="59.8" cy="26.8" r="2.0" fill="#ffd6d8" opacity="0.20"/><circle cx="12.2" cy="85.9" r="0.9" fill="#ffd6d8" opacity="0.24"/><circle cx="35.5" cy="68.7" r="1.9" fill="#ffd6d8" opacity="0.19"/><circle cx="20.3" cy="25.8" r="1.2" fill="#ffd6d8" opacity="0.10"/><circle cx="10.3" cy="86.0" r="1.3" fill="#ffd6d8" opacity="0.22"/><circle cx="85.6" cy="9.4" r="2.2" fill="#ffd6d8" opacity="0.17"/><circle cx="34.8" cy="47.7" r="1.0" fill="#ffd6d8" opacity="0.19"/><circle cx="94.9" cy="16.2" r="1.9" fill="#ffd6d8" opacity="0.27"/><circle cx="34.1" cy="75.0" r="1.1" fill="#ffd6d8" opacity="0.17"/><circle cx="34.4" cy="34.1" r="1.3" fill="#ffd6d8" opacity="0.25"/><circle cx="53.0" cy="19.8" r="1.3" fill="#ffd6d8" opacity="0.24"/><circle cx="36.5" cy="35.0" r="1.8" fill="#ffd6d8" opacity="0.22"/><circle cx="86.5" cy="8.2" r="1.9" fill="#ffd6d8" opacity="0.14"/><circle cx="39.2" cy="69.2" r="0.8" fill="#ffd6d8" opacity="0.18"/><circle cx="59.2" cy="39.5" r="1.2" fill="#ffd6d8" opacity="0.16"/><circle cx="50.5" cy="22.7" r="1.8" fill="#ffd6d8" opacity="0.24"/><circle cx="21.8" cy="99.4" r="2.2" fill="#ffd6d8" opacity="0.12"/><circle cx="23.4" cy="23.1" r="1.4" fill="#ffd6d8" opacity="0.20"/><circle cx="48.8" cy="42.2" r="2.0" fill="#ffd6d8" opacity="0.25"/><circle cx="32.0" cy="24.2" r="1.1" fill="#ffd6d8" opacity="0.26"/><circle cx="11.4" cy="52.4" r="1.3" fill="#ffd6d8" opacity="0.26"/><circle cx="13.4" cy="48.2" r="1.6" fill="#ffd6d8" opacity="0.11"/><circle cx="73.1" cy="40.5" r="1.3" fill="#ffd6d8" opacity="0.24"/><circle cx="12.6" cy="59.6" r="2.1" fill="#ffd6d8" opacity="0.22"/><circle cx="36.2" cy="30.7" r="2.1" fill="#ffd6d8" opacity="0.20"/><circle cx="98.3" cy="16.4" r="1.1" fill="#ffd6d8" opacity="0.25"/><circle cx="40.1" cy="52.8" r="1.7" fill="#ffd6d8" opacity="0.19"/><circle cx="20.0" cy="97.6" r="1.7" fill="#ffd6d8" opacity="0.19"/><circle cx="59.3" cy="50.2" r="1.7" fill="#ffd6d8" opacity="0.17"/><circle cx="88.7" cy="11.1" r="1.6" fill="#ffd6d8" opacity="0.16"/><circle cx="51.5" cy="32.6" r="1.4" fill="#ffd6d8" opacity="0.21"/><circle cx="24.8" cy="57.3" r="1.4" fill="#ffd6d8" opacity="0.17"/><circle cx="40.7" cy="60.5" r="1.1" fill="#ffd6d8" opacity="0.21"/><circle cx="36.0" cy="30.6" r="2.2" fill="#ffd6d8" opacity="0.21"/><circle cx="61.9" cy="9.3" r="2.2" fill="#ffd6d8" opacity="0.16"/><circle cx="70.6" cy="43.7" r="1.4" fill="#ffd6d8" opacity="0.22"/><circle cx="40.7" cy="11.1" r="2.3" fill="#ffd6d8" opacity="0.12"/><circle cx="11.1" cy="63.2" r="1.6" fill="#ffd6d8" opacity="0.22"/><circle cx="22.9" cy="50.9" r="1.7" fill="#ffd6d8" opacity="0.13"/><circle cx="98.3" cy="13.0" r="2.3" fill="#ffd6d8" opacity="0.12"/><circle cx="12.3" cy="77.9" r="1.3" fill="#ffd6d8" opacity="0.18"/><circle cx="24.6" cy="61.2" r="1.8" fill="#ffd6d8" opacity="0.10"/><circle cx="47.8" cy="10.7" r="1.1" fill="#ffd6d8" opacity="0.18"/><circle cx="62.5" cy="25.7" r="1.1" fill="#ffd6d8" opacity="0.13"/><circle cx="48.9" cy="9.8" r="1.8" fill="#ffd6d8" opacity="0.17"/><circle cx="29.4" cy="39.3" r="2.4" fill="#ffd6d8" opacity="0.24"/><circle cx="63.2" cy="10.4" r="2.1" fill="#ffd6d8" opacity="0.17"/><circle cx="46.6" cy="13.9" r="2.0" fill="#ffd6d8" opacity="0.17"/><circle cx="62.3" cy="48.8" r="1.3" fill="#ffd6d8" opacity="0.18"/><circle cx="33.5" cy="27.6" r="1.2" fill="#ffd6d8" opacity="0.27"/><circle cx="46.9" cy="33.9" r="1.9" fill="#ffd6d8" opacity="0.20"/><circle cx="27.2" cy="57.1" r="2.4" fill="#ffd6d8" opacity="0.22"/><circle cx="48.8" cy="13.4" r="2.4" fill="#ffd6d8" opacity="0.10"/><circle cx="25.1" cy="29.7" r="1.2" fill="#ffd6d8" opacity="0.17"/><circle cx="23.0" cy="51.4" r="2.3" fill="#ffd6d8" opacity="0.20"/><circle cx="20.8" cy="34.0" r="0.9" fill="#ffd6d8" opacity="0.27"/><circle cx="53.6" cy="55.4" r="2.3" fill="#ffd6d8" opacity="0.18"/><circle cx="17.8" cy="57.1" r="1.4" fill="#ffd6d8" opacity="0.15"/><circle cx="39.0" cy="26.6" r="1.3" fill="#ffd6d8" opacity="0.23"/><circle cx="19.8" cy="102.6" r="2.0" fill="#ffd6d8" opacity="0.11"/><circle cx="26.3" cy="83.5" r="2.4" fill="#ffd6d8" opacity="0.14"/><circle cx="5.6" cy="56.3" r="2.0" fill="#ffd6d8" opacity="0.18"/><circle cx="48.3" cy="52.3" r="1.8" fill="#ffd6d8" opacity="0.18"/><circle cx="43.5" cy="61.3" r="1.5" fill="#ffd6d8" opacity="0.22"/><circle cx="34.5" cy="73.9" r="1.7" fill="#ffd6d8" opacity="0.18"/><circle cx="73.0" cy="20.6" r="2.4" fill="#ffd6d8" opacity="0.27"/><circle cx="62.1" cy="34.9" r="1.0" fill="#ffd6d8" opacity="0.26"/><circle cx="75.6" cy="17.1" r="1.4" fill="#ffd6d8" opacity="0.15"/><circle cx="46.6" cy="22.3" r="1.7" fill="#ffd6d8" opacity="0.21"/><circle cx="65.7" cy="38.1" r="1.2" fill="#ffd6d8" opacity="0.28"/><circle cx="50.9" cy="51.2" r="1.7" fill="#ffd6d8" opacity="0.11"/><circle cx="18.2" cy="49.7" r="1.4" fill="#ffd6d8" opacity="0.19"/><circle cx="63.3" cy="8.3" r="0.9" fill="#ffd6d8" opacity="0.12"/><circle cx="82.9" cy="19.4" r="2.0" fill="#ffd6d8" opacity="0.14"/><circle cx="79.0" cy="30.0" r="1.8" fill="#ffd6d8" opacity="0.28"/><circle cx="63.6" cy="5.5" r="1.5" fill="#ffd6d8" opacity="0.17"/><circle cx="25.3" cy="48.1" r="1.9" fill="#ffd6d8" opacity="0.15"/><circle cx="57.0" cy="14.0" r="1.3" fill="#ffd6d8" opacity="0.13"/><circle cx="53.2" cy="19.8" r="2.3" fill="#ffd6d8" opacity="0.27"/><circle cx="76.3" cy="32.7" r="1.3" fill="#ffd6d8" opacity="0.17"/><circle cx="78.4" cy="21.4" r="2.1" fill="#ffd6d8" opacity="0.20"/><circle cx="20.1" cy="52.3" r="2.3" fill="#ffd6d8" opacity="0.22"/><circle cx="12.3" cy="49.1" r="0.9" fill="#ffd6d8" opacity="0.11"/><circle cx="60.3" cy="6.4" r="0.9" fill="#ffd6d8" opacity="0.21"/><circle cx="46.9" cy="40.3" r="1.2" fill="#ffd6d8" opacity="0.24"/></g>
</svg><div class="n"><span>04</span></div></div>
<div class="c" style="left:696.0px;top:184.5px;"><svg width="131" height="131" viewBox="-0.4 -0.4 131 131"><defs>
<radialGradient id="g5a" cx="55%" cy="55%" r="62%">
<stop offset="0" stop-color="#f86bad"/><stop offset="0.6" stop-color="#f86bad"/><stop offset="1" stop-color="#fb93c6"/></radialGradient>
<radialGradient id="g5l" cx="60%" cy="10%" r="55%">
<stop offset="0" stop-color="#fca3ce" stop-opacity="0.9"/><stop offset="0.5" stop-color="#fca3ce" stop-opacity="0.45"/><stop offset="1" stop-color="#fca3ce" stop-opacity="0"/></radialGradient>
<filter id="g5b"><feGaussianBlur stdDeviation="0.7"/></filter>
</defs>
<circle cx="65.1" cy="65.1" r="65.1" fill="url(#g5a)"/>
<circle cx="65.1" cy="65.1" r="65.1" fill="url(#g5l)"/>
<g filter="url(#g5b)"><circle cx="115.0" cy="55.0" r="1.6" fill="#ffd6ea" opacity="0.20"/><circle cx="55.6" cy="13.7" r="2.3" fill="#ffd6ea" opacity="0.17"/><circle cx="88.5" cy="20.1" r="2.2" fill="#ffd6ea" opacity="0.25"/><circle cx="94.5" cy="14.5" r="2.3" fill="#ffd6ea" opacity="0.22"/><circle cx="78.1" cy="26.9" r="1.5" fill="#ffd6ea" opacity="0.13"/><circle cx="61.7" cy="3.4" r="1.4" fill="#ffd6ea" opacity="0.13"/><circle cx="49.1" cy="124.1" r="0.9" fill="#ffd6ea" opacity="0.16"/><circle cx="102.6" cy="98.1" r="2.0" fill="#ffd6ea" opacity="0.13"/><circle cx="104.0" cy="81.2" r="1.7" fill="#ffd6ea" opacity="0.26"/><circle cx="82.7" cy="25.9" r="1.2" fill="#ffd6ea" opacity="0.26"/><circle cx="96.3" cy="46.5" r="1.7" fill="#ffd6ea" opacity="0.27"/><circle cx="122.6" cy="83.7" r="2.1" fill="#ffd6ea" opacity="0.17"/><circle cx="55.6" cy="126.2" r="1.9" fill="#ffd6ea" opacity="0.14"/><circle cx="107.7" cy="68.0" r="1.4" fill="#ffd6ea" opacity="0.24"/><circle cx="54.0" cy="18.0" r="1.1" fill="#ffd6ea" opacity="0.13"/><circle cx="95.5" cy="32.4" r="1.8" fill="#ffd6ea" opacity="0.28"/><circle cx="97.0" cy="109.3" r="0.8" fill="#ffd6ea" opacity="0.25"/><circle cx="97.1" cy="18.8" r="0.9" fill="#ffd6ea" opacity="0.15"/><circle cx="110.8" cy="52.0" r="2.2" fill="#ffd6ea" opacity="0.15"/><circle cx="74.9" cy="26.2" r="2.3" fill="#ffd6ea" opacity="0.12"/><circle cx="78.2" cy="39.9" r="1.7" fill="#ffd6ea" opacity="0.19"/><circle cx="96.2" cy="112.5" r="1.3" fill="#ffd6ea" opacity="0.16"/><circle cx="95.6" cy="80.9" r="1.5" fill="#ffd6ea" opacity="0.23"/><circle cx="95.8" cy="89.1" r="1.5" fill="#ffd6ea" opacity="0.27"/><circle cx="89.2" cy="21.1" r="0.8" fill="#ffd6ea" opacity="0.17"/><circle cx="57.6" cy="35.8" r="1.7" fill="#ffd6ea" opacity="0.18"/><circle cx="126.8" cy="69.2" r="2.1" fill="#ffd6ea" opacity="0.14"/><circle cx="40.1" cy="42.8" r="1.4" fill="#ffd6ea" opacity="0.20"/><circle cx="61.0" cy="29.7" r="2.3" fill="#ffd6ea" opacity="0.20"/><circle cx="59.2" cy="29.8" r="2.1" fill="#ffd6ea" opacity="0.12"/><circle cx="42.2" cy="18.1" r="1.1" fill="#ffd6ea" opacity="0.17"/><circle cx="89.9" cy="24.2" r="0.9" fill="#ffd6ea" opacity="0.14"/><circle cx="100.7" cy="45.7" r="1.6" fill="#ffd6ea" opacity="0.22"/><circle cx="71.1" cy="9.1" r="1.4" fill="#ffd6ea" opacity="0.16"/><circle cx="119.9" cy="58.9" r="1.9" fill="#ffd6ea" opacity="0.21"/><circle cx="100.6" cy="69.3" r="1.3" fill="#ffd6ea" opacity="0.22"/><circle cx="95.1" cy="88.7" r="1.6" fill="#ffd6ea" opacity="0.24"/><circle cx="87.2" cy="21.9" r="1.1" fill="#ffd6ea" opacity="0.24"/><circle cx="102.8" cy="38.8" r="1.4" fill="#ffd6ea" opacity="0.19"/><circle cx="98.1" cy="105.9" r="2.4" fill="#ffd6ea" opacity="0.19"/><circle cx="52.9" cy="9.7" r="1.1" fill="#ffd6ea" opacity="0.27"/><circle cx="19.1" cy="41.1" r="1.3" fill="#ffd6ea" opacity="0.27"/><circle cx="108.7" cy="108.2" r="1.0" fill="#ffd6ea" opacity="0.26"/><circle cx="117.2" cy="31.7" r="2.1" fill="#ffd6ea" opacity="0.21"/><circle cx="105.6" cy="104.4" r="1.3" fill="#ffd6ea" opacity="0.26"/><circle cx="78.1" cy="41.7" r="1.7" fill="#ffd6ea" opacity="0.11"/><circle cx="125.1" cy="60.2" r="1.9" fill="#ffd6ea" opacity="0.16"/><circle cx="39.8" cy="18.2" r="1.4" fill="#ffd6ea" opacity="0.21"/><circle cx="53.8" cy="44.3" r="2.3" fill="#ffd6ea" opacity="0.21"/><circle cx="28.4" cy="28.9" r="2.0" fill="#ffd6ea" opacity="0.24"/><circle cx="3.4" cy="70.6" r="2.1" fill="#ffd6ea" opacity="0.25"/><circle cx="11.0" cy="41.3" r="1.6" fill="#ffd6ea" opacity="0.19"/><circle cx="11.3" cy="89.5" r="1.3" fill="#ffd6ea" opacity="0.11"/><circle cx="56.1" cy="6.9" r="2.0" fill="#ffd6ea" opacity="0.21"/><circle cx="65.5" cy="30.8" r="1.7" fill="#ffd6ea" opacity="0.11"/><circle cx="94.6" cy="94.4" r="1.6" fill="#ffd6ea" opacity="0.17"/><circle cx="114.1" cy="81.7" r="1.6" fill="#ffd6ea" opacity="0.14"/><circle cx="116.9" cy="32.8" r="1.9" fill="#ffd6ea" opacity="0.26"/><circle cx="16.0" cy="91.5" r="1.2" fill="#ffd6ea" opacity="0.23"/><circle cx="11.2" cy="41.0" r="1.0" fill="#ffd6ea" opacity="0.24"/><circle cx="97.5" cy="97.1" r="2.3" fill="#ffd6ea" opacity="0.10"/><circle cx="109.4" cy="30.8" r="1.4" fill="#ffd6ea" opacity="0.16"/><circle cx="122.8" cy="76.5" r="1.3" fill="#ffd6ea" opacity="0.19"/><circle cx="121.3" cy="40.3" r="1.6" fill="#ffd6ea" opacity="0.14"/><circle cx="48.3" cy="122.3" r="2.2" fill="#ffd6ea" opacity="0.14"/><circle cx="84.5" cy="33.6" r="1.6" fill="#ffd6ea" opacity="0.13"/><circle cx="110.2" cy="22.6" r="1.1" fill="#ffd6ea" opacity="0.21"/><circle cx="86.0" cy="119.5" r="0.9" fill="#ffd6ea" opacity="0.12"/><circle cx="59.8" cy="30.8" r="2.2" fill="#ffd6ea" opacity="0.26"/><circle cx="59.9" cy="42.9" r="1.9" fill="#ffd6ea" opacity="0.27"/><circle cx="58.3" cy="38.4" r="1.1" fill="#ffd6ea" opacity="0.14"/><circle cx="36.9" cy="17.6" r="1.4" fill="#ffd6ea" opacity="0.22"/><circle cx="100.8" cy="33.4" r="1.2" fill="#ffd6ea" opacity="0.15"/><circle cx="110.5" cy="42.6" r="1.2" fill="#ffd6ea" opacity="0.22"/><circle cx="117.1" cy="98.1" r="1.5" fill="#ffd6ea" opacity="0.20"/><circle cx="64.8" cy="120.8" r="0.9" fill="#ffd6ea" opacity="0.15"/><circle cx="66.2" cy="34.3" r="1.2" fill="#ffd6ea" opacity="0.20"/><circle cx="88.0" cy="119.3" r="2.4" fill="#ffd6ea" opacity="0.11"/><circle cx="20.3" cy="104.8" r="1.6" fill="#ffd6ea" opacity="0.13"/><circle cx="74.3" cy="21.4" r="1.6" fill="#ffd6ea" opacity="0.25"/></g>
<ellipse cx="78.5" cy="9.2" rx="4.6" ry="1.7" transform="rotate(12 78.5 9.2)" fill="#fff" opacity="0.95"/></svg><div class="n"><span>05</span></div></div>
<div class="c" style="left:42.5px;top:340.3px;"><svg width="131" height="131" viewBox="-0.4 -0.4 131 131"><defs>
<radialGradient id="g6a" cx="35%" cy="28%" r="78%">
<stop offset="0" stop-color="#e98f99"/><stop offset="0.45" stop-color="#df808d"/><stop offset="0.85" stop-color="#df808d"/><stop offset="1" stop-color="#cf6a78"/></radialGradient>
<linearGradient id="g6r" x1="0.2" y1="0.2" x2="0.85" y2="0.9"><stop offset="0.45" stop-color="#5a1020" stop-opacity="0"/><stop offset="1" stop-color="#5a1020" stop-opacity="0.14"/></linearGradient>
<clipPath id="g6c"><circle cx="65.1" cy="65.1" r="65.1"/></clipPath>
<filter id="g6f" x="-20%" y="-20%" width="140%" height="140%"><feGaussianBlur stdDeviation="0.7"/></filter>
<filter id="g6g" x="-20%" y="-20%" width="140%" height="140%"><feGaussianBlur stdDeviation="1.5"/></filter>
</defs>
<circle cx="65.1" cy="65.1" r="65.1" fill="url(#g6a)"/>
<g clip-path="url(#g6c)">
<circle cx="65.1" cy="65.1" r="63.099999999999994" fill="none" stroke="url(#g6r)" stroke-width="7" filter="url(#g6g)"/>
<path d="M76 -2 L77 3 L77.5 10 C80 17 83 22 86 27 C90 33 94 37 99 41 C104 45 108 49 113 52 C116 54 119 56 121 57 L128 60 L140 60 L140 -2 Z" fill="#f4c0c6" opacity="0.2" filter="url(#g6f)"/>
<path d="M104.9 88.2 L100.4 99.7 L110.3 103.4 L119.4 93.1 Z" fill="#f4c0c6" opacity="0.2" filter="url(#g6f)"/>
<path d="M15 64 C13 76 17 90 26 101" fill="none" stroke="#fff" stroke-opacity="0.045" stroke-width="3" filter="url(#g6f)"/>
<circle cx="65.1" cy="65.1" r="64.3" fill="none" stroke="#fff" stroke-opacity="0.12" stroke-width="1"/>
</g>
<path d="M9.8 45.5 C7.2 48 5.6 52 5.8 57 C8 54 9.6 51 11.4 48 Z" fill="#fff" opacity="0.9"/>
</svg><div class="n"><span>06</span></div></div>
<div class="c" style="left:206.7px;top:340.3px;"><svg width="131" height="131" viewBox="-0.4 -0.4 131 131"><defs>
<radialGradient id="g7a" cx="35%" cy="28%" r="78%">
<stop offset="0" stop-color="#e98b97"/><stop offset="0.45" stop-color="#df7b8a"/><stop offset="0.85" stop-color="#df7b8a"/><stop offset="1" stop-color="#ce6676"/></radialGradient>
<linearGradient id="g7r" x1="0.2" y1="0.2" x2="0.85" y2="0.9"><stop offset="0.45" stop-color="#5a1020" stop-opacity="0"/><stop offset="1" stop-color="#5a1020" stop-opacity="0.14"/></linearGradient>
<clipPath id="g7c"><circle cx="65.1" cy="65.1" r="65.1"/></clipPath>
<filter id="g7f" x="-20%" y="-20%" width="140%" height="140%"><feGaussianBlur stdDeviation="0.7"/></filter>
<filter id="g7g" x="-20%" y="-20%" width="140%" height="140%"><feGaussianBlur stdDeviation="1.5"/></filter>
</defs>
<circle cx="65.1" cy="65.1" r="65.1" fill="url(#g7a)"/>
<g clip-path="url(#g7c)">
<circle cx="65.1" cy="65.1" r="63.099999999999994" fill="none" stroke="url(#g7r)" stroke-width="7" filter="url(#g7g)"/>
<path d="M76 -2 L77 3 L77.5 10 C80 17 83 22 86 27 C90 33 94 37 99 41 C104 45 108 49 113 52 C116 54 119 56 121 57 L128 60 L140 60 L140 -2 Z" fill="#f2bdc3" opacity="0.2" filter="url(#g7f)"/>
<path d="M104.9 88.2 L100.4 99.7 L110.3 103.4 L119.4 93.1 Z" fill="#f2bdc3" opacity="0.2" filter="url(#g7f)"/>
<path d="M15 64 C13 76 17 90 26 101" fill="none" stroke="#fff" stroke-opacity="0.045" stroke-width="3" filter="url(#g7f)"/>
<circle cx="65.1" cy="65.1" r="64.3" fill="none" stroke="#fff" stroke-opacity="0.12" stroke-width="1"/>
</g>
<path d="M9.8 45.5 C7.2 48 5.6 52 5.8 57 C8 54 9.6 51 11.4 48 Z" fill="#fff" opacity="0.9"/>
</svg><div class="n"><span>07</span></div></div>
<div class="c" style="left:370.5px;top:340.3px;"><svg width="131" height="131" viewBox="-0.4 -0.4 131 131"><defs>
<radialGradient id="g8a" cx="35%" cy="28%" r="78%">
<stop offset="0" stop-color="#d2a6a0"/><stop offset="0.45" stop-color="#c89a94"/><stop offset="0.85" stop-color="#c89a94"/><stop offset="1" stop-color="#b7877f"/></radialGradient>
<linearGradient id="g8r" x1="0.2" y1="0.2" x2="0.85" y2="0.9"><stop offset="0.45" stop-color="#4a2020" stop-opacity="0"/><stop offset="1" stop-color="#4a2020" stop-opacity="0.14"/></linearGradient>
<clipPath id="g8c"><circle cx="65.1" cy="65.1" r="65.1"/></clipPath>
<filter id="g8f" x="-20%" y="-20%" width="140%" height="140%"><feGaussianBlur stdDeviation="0.7"/></filter>
<filter id="g8g" x="-20%" y="-20%" width="140%" height="140%"><feGaussianBlur stdDeviation="1.5"/></filter>
</defs>
<circle cx="65.1" cy="65.1" r="65.1" fill="url(#g8a)"/>
<g clip-path="url(#g8c)">
<circle cx="65.1" cy="65.1" r="63.099999999999994" fill="none" stroke="url(#g8r)" stroke-width="7" filter="url(#g8g)"/>
<path d="M76 -2 L77 3 L77.5 10 C80 17 83 22 86 27 C90 33 94 37 99 41 C104 45 108 49 113 52 C116 54 119 56 121 57 L128 60 L140 60 L140 -2 Z" fill="#e6ccc8" opacity="0.2" filter="url(#g8f)"/>
<path d="M104.9 88.2 L100.4 99.7 L110.3 103.4 L119.4 93.1 Z" fill="#e6ccc8" opacity="0.2" filter="url(#g8f)"/>
<path d="M15 64 C13 76 17 90 26 101" fill="none" stroke="#fff" stroke-opacity="0.045" stroke-width="3" filter="url(#g8f)"/>
<circle cx="65.1" cy="65.1" r="64.3" fill="none" stroke="#fff" stroke-opacity="0.12" stroke-width="1"/>
</g>
<path d="M9.8 45.5 C7.2 48 5.6 52 5.8 57 C8 54 9.6 51 11.4 48 Z" fill="#fff" opacity="0.9"/>
</svg><div class="n"><span>08</span></div></div>
<div class="c" style="left:537.0px;top:340.3px;"><svg width="131" height="131" viewBox="-0.4 -0.4 131 131"><defs>
<radialGradient id="g9a" cx="35%" cy="28%" r="78%">
<stop offset="0" stop-color="#f38a83"/><stop offset="0.45" stop-color="#eb7b74"/><stop offset="0.85" stop-color="#eb7b74"/><stop offset="1" stop-color="#db6a66"/></radialGradient>
<linearGradient id="g9r" x1="0.2" y1="0.2" x2="0.85" y2="0.9"><stop offset="0.45" stop-color="#601010" stop-opacity="0"/><stop offset="1" stop-color="#601010" stop-opacity="0.14"/></linearGradient>
<clipPath id="g9c"><circle cx="65.1" cy="65.1" r="65.1"/></clipPath>
<filter id="g9f" x="-20%" y="-20%" width="140%" height="140%"><feGaussianBlur stdDeviation="0.7"/></filter>
<filter id="g9g" x="-20%" y="-20%" width="140%" height="140%"><feGaussianBlur stdDeviation="1.5"/></filter>
</defs>
<circle cx="65.1" cy="65.1" r="65.1" fill="url(#g9a)"/>
<g clip-path="url(#g9c)">
<circle cx="65.1" cy="65.1" r="63.099999999999994" fill="none" stroke="url(#g9r)" stroke-width="7" filter="url(#g9g)"/>
<path d="M76 -2 L77 3 L77.5 10 C80 17 83 22 86 27 C90 33 94 37 99 41 C104 45 108 49 113 52 C116 54 119 56 121 57 L128 60 L140 60 L140 -2 Z" fill="#f0b9b8" opacity="0.2" filter="url(#g9f)"/>
<path d="M104.9 88.2 L100.4 99.7 L110.3 103.4 L119.4 93.1 Z" fill="#f0b9b8" opacity="0.2" filter="url(#g9f)"/>
<path d="M15 64 C13 76 17 90 26 101" fill="none" stroke="#fff" stroke-opacity="0.045" stroke-width="3" filter="url(#g9f)"/>
<circle cx="65.1" cy="65.1" r="64.3" fill="none" stroke="#fff" stroke-opacity="0.12" stroke-width="1"/>
</g>
<path d="M9.8 45.5 C7.2 48 5.6 52 5.8 57 C8 54 9.6 51 11.4 48 Z" fill="#fff" opacity="0.9"/>
</svg><div class="n"><span>09</span></div></div>
<div class="c" style="left:696.0px;top:340.3px;"><svg width="131" height="131" viewBox="-0.4 -0.4 131 131"><defs>
<radialGradient id="g10a" cx="35%" cy="28%" r="78%">
<stop offset="0" stop-color="#c4736e"/><stop offset="0.45" stop-color="#ba6864"/><stop offset="0.85" stop-color="#ba6864"/><stop offset="1" stop-color="#a85855"/></radialGradient>
<linearGradient id="g10r" x1="0.2" y1="0.2" x2="0.85" y2="0.9"><stop offset="0.45" stop-color="#401010" stop-opacity="0"/><stop offset="1" stop-color="#401010" stop-opacity="0.16"/></linearGradient>
<clipPath id="g10c"><circle cx="65.1" cy="65.1" r="65.1"/></clipPath>
<filter id="g10f" x="-20%" y="-20%" width="140%" height="140%"><feGaussianBlur stdDeviation="0.7"/></filter>
<filter id="g10g" x="-20%" y="-20%" width="140%" height="140%"><feGaussianBlur stdDeviation="1.5"/></filter>
</defs>
<circle cx="65.1" cy="65.1" r="65.1" fill="url(#g10a)"/>
<g clip-path="url(#g10c)">
<circle cx="65.1" cy="65.1" r="63.099999999999994" fill="none" stroke="url(#g10r)" stroke-width="7" filter="url(#g10g)"/>
<path d="M76 -2 L77 3 L77.5 10 C80 17 83 22 86 27 C90 33 94 37 99 41 C104 45 108 49 113 52 C116 54 119 56 121 57 L128 60 L140 60 L140 -2 Z" fill="#dcaaa9" opacity="0.2" filter="url(#g10f)"/>
<path d="M104.9 88.2 L100.4 99.7 L110.3 103.4 L119.4 93.1 Z" fill="#dcaaa9" opacity="0.2" filter="url(#g10f)"/>
<path d="M15 64 C13 76 17 90 26 101" fill="none" stroke="#fff" stroke-opacity="0.045" stroke-width="3" filter="url(#g10f)"/>
<circle cx="65.1" cy="65.1" r="64.3" fill="none" stroke="#fff" stroke-opacity="0.12" stroke-width="1"/>
</g>
<path d="M9.8 45.5 C7.2 48 5.6 52 5.8 57 C8 54 9.6 51 11.4 48 Z" fill="#fff" opacity="0.9"/>
</svg><div class="n"><span>10</span></div></div>

<div class="l" style="top:535.68px;"><span class="num">01</span><span class="txt">прозрачный</span></div>
<div class="l" style="top:567.01px;"><span class="num">02</span><span class="txt">прозрачный с серебряными блестками</span></div>
<div class="l" style="top:598.34px;"><span class="num">03</span><span class="txt">прозрачный с золотыми блестками</span></div>
<div class="l" style="top:629.67px;"><span class="num">04</span><span class="txt">прозрачный с коралловым подтоном</span></div>
<div class="l" style="top:661.00px;"><span class="num">05</span><span class="txt">прозрачный с насыщенно-розовым подтоном</span></div>
<div class="l" style="top:692.33px;"><span class="num">06</span><span class="txt">розовый нюд</span></div>
<div class="l" style="top:723.66px;"><span class="num">07</span><span class="txt">ягодный нюд</span></div>
<div class="l" style="top:754.99px;"><span class="num">08</span><span class="txt">бежевый нюд</span></div>
<div class="l" style="top:786.32px;"><span class="num">09</span><span class="txt">коралловый нюд</span></div>
<div class="l" style="top:817.65px;"><span class="num">10</span><span class="txt">коричневый нюд</span></div>

</body></html>
